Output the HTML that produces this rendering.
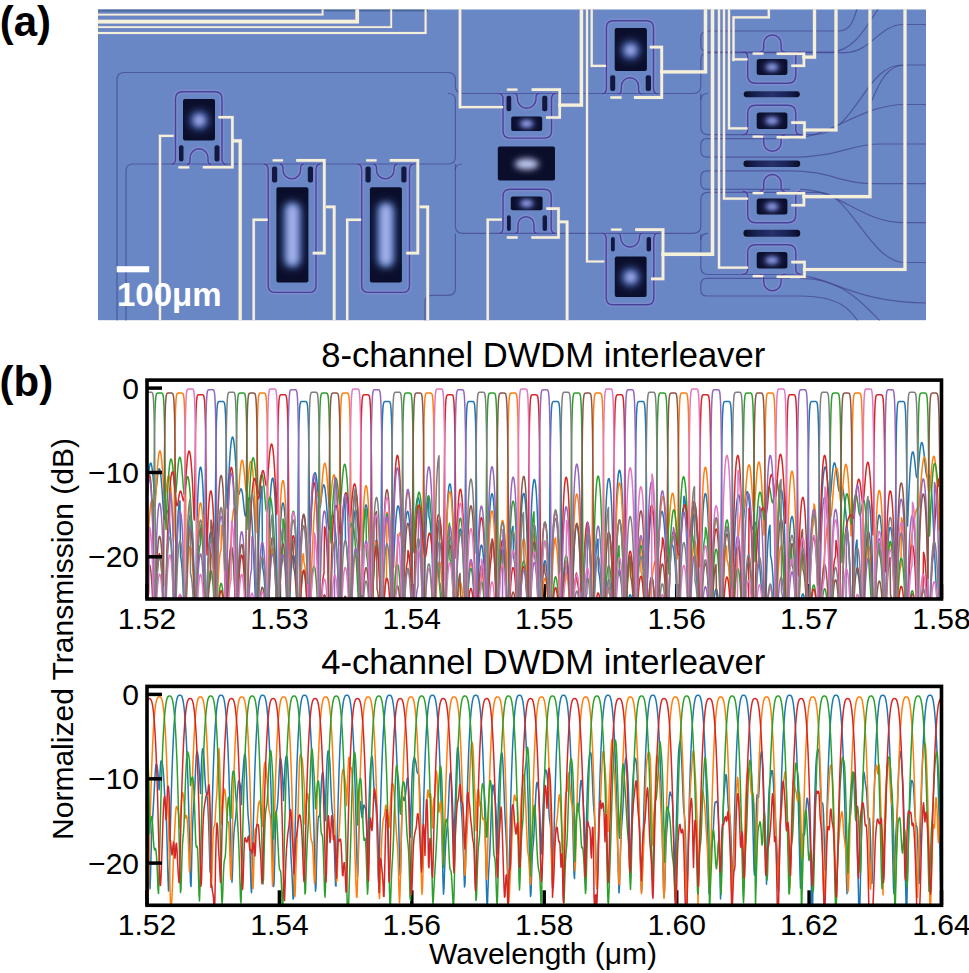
<!DOCTYPE html>
<html><head><meta charset="utf-8"><style>
html,body{margin:0;padding:0;background:#fff;}
body{width:969px;height:973px;position:relative;overflow:hidden;font-family:"Liberation Sans", sans-serif;}
</style></head><body>
<svg width="969" height="973" viewBox="0 0 969 973" style="position:absolute;left:0;top:0"><defs><clipPath id="c1"><rect x="147.0" y="380.1" width="794.5" height="218.88824999999997"/></clipPath><clipPath id="c2"><rect x="147.0" y="686.4" width="794.5" height="218.88824999999997"/></clipPath></defs><defs>
<clipPath id="mc"><rect x="98" y="9.3" width="828" height="311.1"/></clipPath>
<radialGradient id="glow"><stop offset="0" stop-color="#ccd3f7"/><stop offset="0.3" stop-color="#a4b0ea"/><stop offset="0.6" stop-color="#5a6bc0" stop-opacity="0.75"/><stop offset="1" stop-color="#1a2260" stop-opacity="0"/></radialGradient>
<linearGradient id="barg" x1="0" x2="1" y1="0" y2="0"><stop offset="0" stop-color="#0a0c26"/><stop offset="0.25" stop-color="#1b2458"/><stop offset="0.5" stop-color="#26306a"/><stop offset="0.75" stop-color="#1b2458"/><stop offset="1" stop-color="#0a0c26"/></linearGradient>
<filter id="bl2" x="-1" y="-1" width="3" height="3"><feGaussianBlur stdDeviation="2.2"/></filter><filter id="bl3" x="-1" y="-1" width="3" height="3"><feGaussianBlur stdDeviation="3.2"/></filter><filter id="bl4" x="-1" y="-1" width="3" height="3"><feGaussianBlur stdDeviation="4"/></filter>
</defs>
<g clip-path="url(#mc)">
<rect x="98" y="9.3" width="828" height="311.09999999999997" fill="#6a87c5"/>
<rect x="98" y="9.3" width="330" height="2.2" fill="#3f5c8a" opacity="0.7"/>
<path d="M171.5,164.2 Q175.5,164.2 175.5,158.2 V98.8 Q175.5,91.8 182.5,91.8 H215 Q222,91.8 222,98.8 V158.2 Q222,164.2 226,164.2" fill="none" stroke="#9d90d8" stroke-width="4.5" stroke-opacity="0.38"/>
<path d="M187,164.2 Q190,164.2 190,160.2 V157.8 A9.0,9.0 0 0 1 208,157.8 V160.2 Q208,164.2 211,164.2" fill="none" stroke="#9d90d8" stroke-width="4.5" stroke-opacity="0.38"/>
<path d="M264.2,164.2 Q268.2,164.2 268.2,170.2 V285.4 Q268.2,292.4 275.2,292.4 H309 Q316,292.4 316,285.4 V170.2 Q316,164.2 320,164.2" fill="none" stroke="#9d90d8" stroke-width="4.5" stroke-opacity="0.38"/>
<path d="M280,164.2 Q283,164.2 283,168.2 V170.1 A8.800000000000011,8.800000000000011 0 0 0 300.6,170.1 V168.2 Q300.6,164.2 303.6,164.2" fill="none" stroke="#9d90d8" stroke-width="4.5" stroke-opacity="0.38"/>
<path d="M357.7,164.2 Q361.7,164.2 361.7,170.2 V285.4 Q361.7,292.4 368.7,292.4 H402.5 Q409.5,292.4 409.5,285.4 V170.2 Q409.5,164.2 413.5,164.2" fill="none" stroke="#9d90d8" stroke-width="4.5" stroke-opacity="0.38"/>
<path d="M373.5,164.2 Q376.5,164.2 376.5,168.2 V170.1 A8.800000000000011,8.800000000000011 0 0 0 394.1,170.1 V168.2 Q394.1,164.2 397.1,164.2" fill="none" stroke="#9d90d8" stroke-width="4.5" stroke-opacity="0.38"/>
<path d="M499,93.5 Q503,93.5 503,99.5 V131.1 Q503,138.1 510,138.1 H544.5 Q551.5,138.1 551.5,131.1 V99.5 Q551.5,93.5 555.5,93.5" fill="none" stroke="#9d90d8" stroke-width="4.5" stroke-opacity="0.38"/>
<path d="M514.4,93.5 Q517.4,93.5 517.4,97.5 V98.89999999999999 A9.300000000000011,9.300000000000011 0 0 0 536,98.89999999999999 V97.5 Q536,93.5 539,93.5" fill="none" stroke="#9d90d8" stroke-width="4.5" stroke-opacity="0.38"/>
<path d="M499,233.4 Q503,233.4 503,227.4 V196.2 Q503,189.2 510,189.2 H544.2 Q551.2,189.2 551.2,196.2 V227.4 Q551.2,233.4 555.2,233.4" fill="none" stroke="#9d90d8" stroke-width="4.5" stroke-opacity="0.38"/>
<path d="M515,233.4 Q518,233.4 518,229.4 V224.7 A8.0,8.0 0 0 1 534,224.7 V229.4 Q534,233.4 537,233.4" fill="none" stroke="#9d90d8" stroke-width="4.5" stroke-opacity="0.38"/>
<path d="M602.4,93.8 Q606.4,93.8 606.4,87.8 V27.7 Q606.4,20.7 613.4,20.7 H646.5 Q653.5,20.7 653.5,27.7 V87.8 Q653.5,93.8 657.5,93.8" fill="none" stroke="#9d90d8" stroke-width="4.5" stroke-opacity="0.38"/>
<path d="M618.3,93.8 Q621.3,93.8 621.3,89.8 V86.35000000000004 A8.650000000000034,8.650000000000034 0 0 1 638.6,86.35000000000004 V89.8 Q638.6,93.8 641.6,93.8" fill="none" stroke="#9d90d8" stroke-width="4.5" stroke-opacity="0.38"/>
<path d="M602.2,233.4 Q606.2,233.4 606.2,239.4 V297.8 Q606.2,304.8 613.2,304.8 H646.8 Q653.8,304.8 653.8,297.8 V239.4 Q653.8,233.4 657.8,233.4" fill="none" stroke="#9d90d8" stroke-width="4.5" stroke-opacity="0.38"/>
<path d="M617.6,233.4 Q620.6,233.4 620.6,237.4 V237.60000000000002 A9.399999999999977,9.399999999999977 0 0 0 639.4,237.60000000000002 V237.4 Q639.4,233.4 642.4,233.4" fill="none" stroke="#9d90d8" stroke-width="4.5" stroke-opacity="0.38"/>
<path d="M742.7,52.0 Q747.7,52.0 747.7,57.0 V75.2 Q747.7,83.2 755.7,83.2 H787.8 Q795.8,83.2 795.8,75.2 V57.0 Q795.8,52.0 800.8,52.0" fill="none" stroke="#9d90d8" stroke-width="4.5" stroke-opacity="0.38"/>
<path d="M759.7,52.0 Q763.7,52.0 763.7,48.0 V43.69999999999999 A8.699999999999989,8.699999999999989 0 0 1 781.1,43.69999999999999 V48.0 Q781.1,52.0 785.1,52.0" fill="none" stroke="#9d90d8" stroke-width="4.5" stroke-opacity="0.38"/>
<path d="M742.7,134.7 Q747.7,134.7 747.7,129.7 V113.2 Q747.7,105.2 755.7,105.2 H787.8 Q795.8,105.2 795.8,113.2 V129.7 Q795.8,134.7 800.8,134.7" fill="none" stroke="#9d90d8" stroke-width="4.5" stroke-opacity="0.38"/>
<path d="M759.7,134.7 Q763.7,134.7 763.7,138.7 V142.60000000000002 A8.699999999999989,8.699999999999989 0 0 0 781.1,142.60000000000002 V138.7 Q781.1,134.7 785.1,134.7" fill="none" stroke="#9d90d8" stroke-width="4.5" stroke-opacity="0.38"/>
<path d="M742.7,191.5 Q747.7,191.5 747.7,196.5 V214.7 Q747.7,222.7 755.7,222.7 H787.8 Q795.8,222.7 795.8,214.7 V196.5 Q795.8,191.5 800.8,191.5" fill="none" stroke="#9d90d8" stroke-width="4.5" stroke-opacity="0.38"/>
<path d="M759.7,191.5 Q763.7,191.5 763.7,187.5 V183.2 A8.699999999999989,8.699999999999989 0 0 1 781.1,183.2 V187.5 Q781.1,191.5 785.1,191.5" fill="none" stroke="#9d90d8" stroke-width="4.5" stroke-opacity="0.38"/>
<path d="M742.7,274.2 Q747.7,274.2 747.7,269.2 V252.7 Q747.7,244.7 755.7,244.7 H787.8 Q795.8,244.7 795.8,252.7 V269.2 Q795.8,274.2 800.8,274.2" fill="none" stroke="#9d90d8" stroke-width="4.5" stroke-opacity="0.38"/>
<path d="M759.7,274.2 Q763.7,274.2 763.7,278.2 V282.1 A8.699999999999989,8.699999999999989 0 0 0 781.1,282.1 V278.2 Q781.1,274.2 785.1,274.2" fill="none" stroke="#9d90d8" stroke-width="4.5" stroke-opacity="0.38"/>
<path d="M117,321 V80 Q117,72.5 124,72.5 H448 Q455.4,72.5 455.4,80 V86 Q455.4,93.5 463,93.5 H693 Q700.8,93.5 700.8,86 V60 Q700.8,52.7 708,52.7 H845 C870,52.7 880,24.5 903,24.5 H930" fill="none" stroke="#3d3f8c" stroke-width="1.2" stroke-opacity="0.65"/>
<path d="M126,321 V171 Q126,164 133,164 H448 Q455.4,164 455.4,157 V100 Q455.4,93.5 448,93.5" fill="none" stroke="#3d3f8c" stroke-width="1.2" stroke-opacity="0.65"/>
<path d="M455.4,170 Q455.4,164 462,164" fill="none" stroke="#3d3f8c" stroke-width="1.2" stroke-opacity="0.65"/>
<path d="M455.4,164 V226 Q455.4,233.4 463,233.4 H693 Q700.8,233.4 700.8,226 V200 Q700.8,192.4 708,192.4 H820 C850,192.4 870,262.5 905,262.5 H930" fill="none" stroke="#3d3f8c" stroke-width="1.2" stroke-opacity="0.65"/>
<path d="M700.8,240 Q700.8,233.4 708,233.4" fill="none" stroke="#3d3f8c" stroke-width="1.2" stroke-opacity="0.65"/>
<path d="M700.8,233.4 V267 Q700.8,274.5 708,274.5 H790 C830,274.5 850,303 930,303" fill="none" stroke="#3d3f8c" stroke-width="1.2" stroke-opacity="0.65"/>
<path d="M455.4,233.4 V288 Q455.4,295.4 448,295.4 H432 Q425,295.4 425,302 V321" fill="none" stroke="#3d3f8c" stroke-width="1.2" stroke-opacity="0.65"/>
<path d="M700.8,93.5 V127 Q700.8,134.7 708,134.7 H815 C855,134.7 865,65 902,65 H930" fill="none" stroke="#3d3f8c" stroke-width="1.2" stroke-opacity="0.65"/>
<path d="M700.8,100 Q700.8,93.5 708,93.5" fill="none" stroke="#3d3f8c" stroke-width="1.2" stroke-opacity="0.65"/>
<path d="M838,31 H708 Q700.8,31 700.8,38 V45 Q700.8,52 708,52 H830 C850,52 862,35 878,9" fill="none" stroke="#3d3f8c" stroke-width="1.2" stroke-opacity="0.65"/>
<path d="M838,31 C850,31 853,22 857,9" fill="none" stroke="#3d3f8c" stroke-width="1.2" stroke-opacity="0.65"/>
<path d="M870,105 C880,80 888,65 905,65" fill="none" stroke="#3d3f8c" stroke-width="1.2" stroke-opacity="0.65"/>
<path d="M780,138.6 H707 Q700.8,138.6 700.8,145 V151 Q700.8,157.2 707,157.2 H790 C840,157.2 850,144 880,144 H930" fill="none" stroke="#3d3f8c" stroke-width="1.2" stroke-opacity="0.65"/>
<path d="M790,138.6 C830,138.6 860,104.5 905,104.5 H930" fill="none" stroke="#3d3f8c" stroke-width="1.2" stroke-opacity="0.65"/>
<path d="M790,170.8 H707 Q700.8,170.8 700.8,177 V183 Q700.8,189.4 707,189.4 H790" fill="none" stroke="#3d3f8c" stroke-width="1.2" stroke-opacity="0.65"/>
<path d="M790,170.8 C830,170.8 840,183.7 875,183.7 H930" fill="none" stroke="#3d3f8c" stroke-width="1.2" stroke-opacity="0.65"/>
<path d="M800,189.4 C840,189.4 860,222.7 905,222.7 H930" fill="none" stroke="#3d3f8c" stroke-width="1.2" stroke-opacity="0.65"/>
<path d="M790,278.4 H707 Q700.8,278.4 700.8,284.5 V290 Q700.8,296 707,296 H800 C840,296 850,310 858,321" fill="none" stroke="#3d3f8c" stroke-width="1.2" stroke-opacity="0.65"/>
<path d="M800,278.4 C840,278.4 860,300 880,321" fill="none" stroke="#3d3f8c" stroke-width="1.2" stroke-opacity="0.65"/>
<path d="M171.5,164.2 Q175.5,164.2 175.5,158.2 V98.8 Q175.5,91.8 182.5,91.8 H215 Q222,91.8 222,98.8 V158.2 Q222,164.2 226,164.2" fill="none" stroke="#46449a" stroke-width="1.4"/>
<path d="M187,164.2 Q190,164.2 190,160.2 V157.8 A9.0,9.0 0 0 1 208,157.8 V160.2 Q208,164.2 211,164.2" fill="none" stroke="#46449a" stroke-width="1.4"/>
<path d="M264.2,164.2 Q268.2,164.2 268.2,170.2 V285.4 Q268.2,292.4 275.2,292.4 H309 Q316,292.4 316,285.4 V170.2 Q316,164.2 320,164.2" fill="none" stroke="#46449a" stroke-width="1.4"/>
<path d="M280,164.2 Q283,164.2 283,168.2 V170.1 A8.800000000000011,8.800000000000011 0 0 0 300.6,170.1 V168.2 Q300.6,164.2 303.6,164.2" fill="none" stroke="#46449a" stroke-width="1.4"/>
<path d="M357.7,164.2 Q361.7,164.2 361.7,170.2 V285.4 Q361.7,292.4 368.7,292.4 H402.5 Q409.5,292.4 409.5,285.4 V170.2 Q409.5,164.2 413.5,164.2" fill="none" stroke="#46449a" stroke-width="1.4"/>
<path d="M373.5,164.2 Q376.5,164.2 376.5,168.2 V170.1 A8.800000000000011,8.800000000000011 0 0 0 394.1,170.1 V168.2 Q394.1,164.2 397.1,164.2" fill="none" stroke="#46449a" stroke-width="1.4"/>
<path d="M499,93.5 Q503,93.5 503,99.5 V131.1 Q503,138.1 510,138.1 H544.5 Q551.5,138.1 551.5,131.1 V99.5 Q551.5,93.5 555.5,93.5" fill="none" stroke="#46449a" stroke-width="1.4"/>
<path d="M514.4,93.5 Q517.4,93.5 517.4,97.5 V98.89999999999999 A9.300000000000011,9.300000000000011 0 0 0 536,98.89999999999999 V97.5 Q536,93.5 539,93.5" fill="none" stroke="#46449a" stroke-width="1.4"/>
<path d="M499,233.4 Q503,233.4 503,227.4 V196.2 Q503,189.2 510,189.2 H544.2 Q551.2,189.2 551.2,196.2 V227.4 Q551.2,233.4 555.2,233.4" fill="none" stroke="#46449a" stroke-width="1.4"/>
<path d="M515,233.4 Q518,233.4 518,229.4 V224.7 A8.0,8.0 0 0 1 534,224.7 V229.4 Q534,233.4 537,233.4" fill="none" stroke="#46449a" stroke-width="1.4"/>
<path d="M602.4,93.8 Q606.4,93.8 606.4,87.8 V27.7 Q606.4,20.7 613.4,20.7 H646.5 Q653.5,20.7 653.5,27.7 V87.8 Q653.5,93.8 657.5,93.8" fill="none" stroke="#46449a" stroke-width="1.4"/>
<path d="M618.3,93.8 Q621.3,93.8 621.3,89.8 V86.35000000000004 A8.650000000000034,8.650000000000034 0 0 1 638.6,86.35000000000004 V89.8 Q638.6,93.8 641.6,93.8" fill="none" stroke="#46449a" stroke-width="1.4"/>
<path d="M602.2,233.4 Q606.2,233.4 606.2,239.4 V297.8 Q606.2,304.8 613.2,304.8 H646.8 Q653.8,304.8 653.8,297.8 V239.4 Q653.8,233.4 657.8,233.4" fill="none" stroke="#46449a" stroke-width="1.4"/>
<path d="M617.6,233.4 Q620.6,233.4 620.6,237.4 V237.60000000000002 A9.399999999999977,9.399999999999977 0 0 0 639.4,237.60000000000002 V237.4 Q639.4,233.4 642.4,233.4" fill="none" stroke="#46449a" stroke-width="1.4"/>
<path d="M742.7,52.0 Q747.7,52.0 747.7,57.0 V75.2 Q747.7,83.2 755.7,83.2 H787.8 Q795.8,83.2 795.8,75.2 V57.0 Q795.8,52.0 800.8,52.0" fill="none" stroke="#46449a" stroke-width="1.4"/>
<path d="M759.7,52.0 Q763.7,52.0 763.7,48.0 V43.69999999999999 A8.699999999999989,8.699999999999989 0 0 1 781.1,43.69999999999999 V48.0 Q781.1,52.0 785.1,52.0" fill="none" stroke="#46449a" stroke-width="1.4"/>
<path d="M742.7,134.7 Q747.7,134.7 747.7,129.7 V113.2 Q747.7,105.2 755.7,105.2 H787.8 Q795.8,105.2 795.8,113.2 V129.7 Q795.8,134.7 800.8,134.7" fill="none" stroke="#46449a" stroke-width="1.4"/>
<path d="M759.7,134.7 Q763.7,134.7 763.7,138.7 V142.60000000000002 A8.699999999999989,8.699999999999989 0 0 0 781.1,142.60000000000002 V138.7 Q781.1,134.7 785.1,134.7" fill="none" stroke="#46449a" stroke-width="1.4"/>
<path d="M742.7,191.5 Q747.7,191.5 747.7,196.5 V214.7 Q747.7,222.7 755.7,222.7 H787.8 Q795.8,222.7 795.8,214.7 V196.5 Q795.8,191.5 800.8,191.5" fill="none" stroke="#46449a" stroke-width="1.4"/>
<path d="M759.7,191.5 Q763.7,191.5 763.7,187.5 V183.2 A8.699999999999989,8.699999999999989 0 0 1 781.1,183.2 V187.5 Q781.1,191.5 785.1,191.5" fill="none" stroke="#46449a" stroke-width="1.4"/>
<path d="M742.7,274.2 Q747.7,274.2 747.7,269.2 V252.7 Q747.7,244.7 755.7,244.7 H787.8 Q795.8,244.7 795.8,252.7 V269.2 Q795.8,274.2 800.8,274.2" fill="none" stroke="#46449a" stroke-width="1.4"/>
<path d="M759.7,274.2 Q763.7,274.2 763.7,278.2 V282.1 A8.699999999999989,8.699999999999989 0 0 0 781.1,282.1 V278.2 Q781.1,274.2 785.1,274.2" fill="none" stroke="#46449a" stroke-width="1.4"/>
<rect x="183" y="99" width="32.0" height="41.4" rx="2" fill="#0b0e2b"/>
<g clip-path="url(#hc73)">
<clipPath id="hc73"><rect x="183" y="99" width="32.0" height="41.4" rx="2"/></clipPath>
<circle cx="199.3" cy="120.3" r="9.8" fill="#3e5aa8" filter="url(#bl4)"/>
<circle cx="199.3" cy="120.3" r="5.5" fill="#aab3ec" filter="url(#bl3)"/>
</g>
<rect x="276.4" y="187.2" width="32.0" height="95.3" rx="2" fill="#0b0e2b"/>
<g clip-path="url(#hc79)">
<clipPath id="hc79"><rect x="276.4" y="187.2" width="32.0" height="95.3" rx="2"/></clipPath>
<rect x="283.6" y="202.0" width="17.6" height="65.5" rx="7.7" fill="#4a70b8" filter="url(#bl4)"/>
<rect x="286.9" y="204.6" width="11.0" height="60.5" rx="5.5" fill="#a6b0ea" filter="url(#bl3)"/>
</g>
<rect x="369.9" y="187.2" width="32.0" height="95.3" rx="2" fill="#0b0e2b"/>
<g clip-path="url(#hc85)">
<clipPath id="hc85"><rect x="369.9" y="187.2" width="32.0" height="95.3" rx="2"/></clipPath>
<rect x="377.1" y="202.0" width="17.6" height="65.5" rx="7.7" fill="#4a70b8" filter="url(#bl4)"/>
<rect x="380.4" y="204.6" width="11.0" height="60.5" rx="5.5" fill="#a6b0ea" filter="url(#bl3)"/>
</g>
<rect x="511.2" y="116.5" width="31.0" height="14.4" rx="2" fill="#0b0e2b"/>
<g clip-path="url(#hc91)">
<clipPath id="hc91"><rect x="511.2" y="116.5" width="31.0" height="14.4" rx="2"/></clipPath>
<ellipse cx="526.7" cy="123.7" rx="8.2" ry="4.2" fill="#4858a8" filter="url(#bl3)"/>
<ellipse cx="526.7" cy="123.7" rx="5.5" ry="3.1" fill="#8e9ade" filter="url(#bl2)"/>
</g>
<rect x="497.8" y="146.5" width="57.2" height="34.1" rx="2" fill="#0b0e2b"/>
<g clip-path="url(#hc97)">
<clipPath id="hc97"><rect x="497.8" y="146.5" width="57.2" height="34.1" rx="2"/></clipPath>
<ellipse cx="526.7" cy="164.1" rx="12.0" ry="5.5" fill="#c2cbf4" filter="url(#bl3)"/>
</g>
<rect x="510.8" y="196.5" width="31.8" height="13.8" rx="2" fill="#0b0e2b"/>
<g clip-path="url(#hc102)">
<clipPath id="hc102"><rect x="510.8" y="196.5" width="31.8" height="13.8" rx="2"/></clipPath>
<ellipse cx="526.7" cy="203.4" rx="8.2" ry="4.2" fill="#4858a8" filter="url(#bl3)"/>
<ellipse cx="526.7" cy="203.4" rx="5.5" ry="3.1" fill="#8e9ade" filter="url(#bl2)"/>
</g>
<rect x="614.7" y="28.1" width="32.2" height="42.9" rx="2" fill="#0b0e2b"/>
<g clip-path="url(#hc108)">
<clipPath id="hc108"><rect x="614.7" y="28.1" width="32.2" height="42.9" rx="2"/></clipPath>
<circle cx="630.6" cy="50.2" r="9.8" fill="#3e5aa8" filter="url(#bl4)"/>
<circle cx="630.6" cy="50.2" r="5.5" fill="#aab3ec" filter="url(#bl3)"/>
</g>
<rect x="614.8" y="256.6" width="31.8" height="40.4" rx="2" fill="#0b0e2b"/>
<g clip-path="url(#hc114)">
<clipPath id="hc114"><rect x="614.8" y="256.6" width="31.8" height="40.4" rx="2"/></clipPath>
<circle cx="630.7" cy="277.2" r="9.8" fill="#3e5aa8" filter="url(#bl4)"/>
<circle cx="630.7" cy="277.2" r="5.5" fill="#aab3ec" filter="url(#bl3)"/>
</g>
<rect x="756.7" y="59.1" width="30.7" height="16.0" rx="2.5" fill="#0b0e2b"/>
<g clip-path="url(#hc120)">
<clipPath id="hc120"><rect x="756.7" y="59.1" width="30.7" height="16.0" rx="2.5"/></clipPath>
<ellipse cx="772" cy="67.1" rx="8.2" ry="4.2" fill="#4858a8" filter="url(#bl3)"/>
<ellipse cx="772" cy="67.1" rx="5.5" ry="3.1" fill="#8e9ade" filter="url(#bl2)"/>
</g>
<rect x="756.7" y="112.6" width="30.7" height="16.4" rx="2.5" fill="#0b0e2b"/>
<g clip-path="url(#hc126)">
<clipPath id="hc126"><rect x="756.7" y="112.6" width="30.7" height="16.4" rx="2.5"/></clipPath>
<ellipse cx="772" cy="120.8" rx="8.2" ry="4.2" fill="#4858a8" filter="url(#bl3)"/>
<ellipse cx="772" cy="120.8" rx="5.5" ry="3.1" fill="#8e9ade" filter="url(#bl2)"/>
</g>
<rect x="756.7" y="198.6" width="30.7" height="16.0" rx="2.5" fill="#0b0e2b"/>
<g clip-path="url(#hc132)">
<clipPath id="hc132"><rect x="756.7" y="198.6" width="30.7" height="16.0" rx="2.5"/></clipPath>
<ellipse cx="772" cy="206.6" rx="8.2" ry="4.2" fill="#4858a8" filter="url(#bl3)"/>
<ellipse cx="772" cy="206.6" rx="5.5" ry="3.1" fill="#8e9ade" filter="url(#bl2)"/>
</g>
<rect x="756.7" y="252.1" width="30.7" height="16.4" rx="2.5" fill="#0b0e2b"/>
<g clip-path="url(#hc138)">
<clipPath id="hc138"><rect x="756.7" y="252.1" width="30.7" height="16.4" rx="2.5"/></clipPath>
<ellipse cx="772" cy="260.3" rx="8.2" ry="4.2" fill="#4858a8" filter="url(#bl3)"/>
<ellipse cx="772" cy="260.3" rx="5.5" ry="3.1" fill="#8e9ade" filter="url(#bl2)"/>
</g>
<rect x="179" y="145.3" width="4.5" height="16.2" rx="2" fill="#141840"/>
<rect x="214.5" y="145.3" width="5.0" height="16.2" rx="2" fill="#141840"/>
<rect x="272" y="166.5" width="5.2" height="16.1" rx="2" fill="#141840"/>
<rect x="307.8" y="166.5" width="5.2" height="16.1" rx="2" fill="#141840"/>
<rect x="365.5" y="166.5" width="5.2" height="16.1" rx="2" fill="#141840"/>
<rect x="401.3" y="166.5" width="5.2" height="16.1" rx="2" fill="#141840"/>
<rect x="506.5" y="95.8" width="4.7" height="15.5" rx="2" fill="#141840"/>
<rect x="542.2" y="95.8" width="5.1" height="15.5" rx="2" fill="#141840"/>
<rect x="507" y="215.2" width="3.8" height="15.9" rx="2" fill="#141840"/>
<rect x="542.6" y="215.2" width="4.4" height="15.9" rx="2" fill="#141840"/>
<rect x="610.2" y="75.2" width="5.0" height="15.7" rx="2" fill="#141840"/>
<rect x="645.7" y="75.2" width="5.3" height="15.7" rx="2" fill="#141840"/>
<rect x="611" y="236.9" width="3.8" height="14.5" rx="2" fill="#141840"/>
<rect x="646.6" y="236.9" width="4.4" height="14.5" rx="2" fill="#141840"/>
<rect x="743.7" y="91.2" width="56.1" height="6.0" rx="3" fill="url(#barg)"/>
<rect x="743.5" y="160.4" width="56.7" height="6.6" rx="3" fill="url(#barg)"/>
<rect x="743.5" y="229.8" width="56.7" height="7.0" rx="3" fill="url(#barg)"/>
<polyline points="160.0,321.0 160.0,135.9 172.5,135.9" fill="none" stroke="#c6a2c6" stroke-width="3.2" stroke-opacity="0.4" stroke-linejoin="miter"/>
<polyline points="179.4,167.3 188.2,167.3" fill="none" stroke="#c6a2c6" stroke-width="3.2" stroke-opacity="0.4" stroke-linejoin="miter"/>
<polyline points="204.0,167.3 232.4,167.3 232.4,117.3 219.6,117.3" fill="none" stroke="#c6a2c6" stroke-width="3.5" stroke-opacity="0.4" stroke-linejoin="miter"/>
<polyline points="240.2,321.0 240.2,140.8 233.3,140.8" fill="none" stroke="#c6a2c6" stroke-width="4.1" stroke-opacity="0.4" stroke-linejoin="miter"/>
<polyline points="273.7,160.3 282.0,160.3" fill="none" stroke="#c6a2c6" stroke-width="3.2" stroke-opacity="0.4" stroke-linejoin="miter"/>
<polyline points="297.5,160.3 324.3,160.3 324.3,253.2 314.0,253.2" fill="none" stroke="#c6a2c6" stroke-width="3.7" stroke-opacity="0.4" stroke-linejoin="miter"/>
<polyline points="334.2,321.0 334.2,206.8 327.4,206.8" fill="none" stroke="#c6a2c6" stroke-width="3.7" stroke-opacity="0.4" stroke-linejoin="miter"/>
<polyline points="253.7,321.0 253.7,219.8 266.5,219.8" fill="none" stroke="#c6a2c6" stroke-width="3.3" stroke-opacity="0.4" stroke-linejoin="miter"/>
<polyline points="367.2,160.3 375.5,160.3" fill="none" stroke="#c6a2c6" stroke-width="3.2" stroke-opacity="0.4" stroke-linejoin="miter"/>
<polyline points="391.0,160.3 417.8,160.3 417.8,253.2 407.5,253.2" fill="none" stroke="#c6a2c6" stroke-width="3.7" stroke-opacity="0.4" stroke-linejoin="miter"/>
<polyline points="427.7,321.0 427.7,206.8 420.9,206.8" fill="none" stroke="#c6a2c6" stroke-width="3.7" stroke-opacity="0.4" stroke-linejoin="miter"/>
<polyline points="347.2,321.0 347.2,219.8 360.0,219.8" fill="none" stroke="#c6a2c6" stroke-width="3.3" stroke-opacity="0.4" stroke-linejoin="miter"/>
<polyline points="460.0,8.0 460.0,107.2 502.0,107.2" fill="none" stroke="#c6a2c6" stroke-width="3.2" stroke-opacity="0.4" stroke-linejoin="miter"/>
<polyline points="508.0,89.6 516.4,89.6" fill="none" stroke="#c6a2c6" stroke-width="3.2" stroke-opacity="0.4" stroke-linejoin="miter"/>
<polyline points="581.4,8.0 581.4,105.1 559.7,105.1" fill="none" stroke="#c6a2c6" stroke-width="4.3" stroke-opacity="0.4" stroke-linejoin="miter"/>
<polyline points="532.9,89.6 559.7,89.6 559.7,117.5 547.3,117.5" fill="none" stroke="#c6a2c6" stroke-width="3.5" stroke-opacity="0.4" stroke-linejoin="miter"/>
<polyline points="487.7,321.0 487.7,219.6 500.7,219.6" fill="none" stroke="#c6a2c6" stroke-width="3.3" stroke-opacity="0.4" stroke-linejoin="miter"/>
<polyline points="507.9,237.5 516.6,237.5" fill="none" stroke="#c6a2c6" stroke-width="3.2" stroke-opacity="0.4" stroke-linejoin="miter"/>
<polyline points="532.5,237.5 558.5,237.5 558.5,208.6 547.5,208.6" fill="none" stroke="#c6a2c6" stroke-width="3.5" stroke-opacity="0.4" stroke-linejoin="miter"/>
<polyline points="567.1,321.0 567.1,221.9 560.0,221.9" fill="none" stroke="#c6a2c6" stroke-width="3.7" stroke-opacity="0.4" stroke-linejoin="miter"/>
<polyline points="611.4,97.5 620.5,97.5" fill="none" stroke="#c6a2c6" stroke-width="3.2" stroke-opacity="0.4" stroke-linejoin="miter"/>
<polyline points="635.3,97.5 661.7,97.5 661.7,47.1 651.0,47.1" fill="none" stroke="#c6a2c6" stroke-width="3.7" stroke-opacity="0.4" stroke-linejoin="miter"/>
<polyline points="705.5,8.0 705.5,71.9 661.7,71.9" fill="none" stroke="#c6a2c6" stroke-width="4.3" stroke-opacity="0.4" stroke-linejoin="miter"/>
<polyline points="591.7,8.0 591.7,65.9 605.0,65.9" fill="none" stroke="#c6a2c6" stroke-width="3.1" stroke-opacity="0.4" stroke-linejoin="miter"/>
<polyline points="587.0,8.0 587.0,261.5 603.3,261.5" fill="none" stroke="#c6a2c6" stroke-width="3.1" stroke-opacity="0.4" stroke-linejoin="miter"/>
<polyline points="612.0,229.7 620.6,229.7" fill="none" stroke="#c6a2c6" stroke-width="3.2" stroke-opacity="0.4" stroke-linejoin="miter"/>
<polyline points="636.5,229.7 663.0,229.7 663.0,278.8 652.4,278.8" fill="none" stroke="#c6a2c6" stroke-width="3.7" stroke-opacity="0.4" stroke-linejoin="miter"/>
<polyline points="663.0,254.2 712.5,254.2 712.5,8.0" fill="none" stroke="#c6a2c6" stroke-width="4.3" stroke-opacity="0.4" stroke-linejoin="miter"/>
<polyline points="719.0,8.0 719.0,267.6 747.0,267.6" fill="none" stroke="#c6a2c6" stroke-width="3.2" stroke-opacity="0.4" stroke-linejoin="miter"/>
<polyline points="724.0,8.0 724.0,198.6 747.0,198.6" fill="none" stroke="#c6a2c6" stroke-width="3.2" stroke-opacity="0.4" stroke-linejoin="miter"/>
<polyline points="729.0,8.0 729.0,128.4 746.6,128.4" fill="none" stroke="#c6a2c6" stroke-width="3.2" stroke-opacity="0.4" stroke-linejoin="miter"/>
<polyline points="733.5,60.0 733.5,17.3 768.8,17.3 768.8,8.0" fill="none" stroke="#c6a2c6" stroke-width="3.2" stroke-opacity="0.4" stroke-linejoin="miter"/>
<polyline points="733.5,59.3 746.6,59.3" fill="none" stroke="#c6a2c6" stroke-width="3.2" stroke-opacity="0.4" stroke-linejoin="miter"/>
<polyline points="753.7,53.7 762.4,53.7" fill="none" stroke="#c6a2c6" stroke-width="3.2" stroke-opacity="0.4" stroke-linejoin="miter"/>
<polyline points="777.8,53.7 803.9,53.7 803.9,65.8 792.5,65.8" fill="none" stroke="#c6a2c6" stroke-width="3.5" stroke-opacity="0.4" stroke-linejoin="miter"/>
<polyline points="803.9,57.1 814.5,57.1 814.5,8.0" fill="none" stroke="#c6a2c6" stroke-width="4.1" stroke-opacity="0.4" stroke-linejoin="miter"/>
<polyline points="753.7,136.6 762.4,136.6" fill="none" stroke="#c6a2c6" stroke-width="3.2" stroke-opacity="0.4" stroke-linejoin="miter"/>
<polyline points="777.8,137.3 804.5,137.3 804.5,122.6 792.5,122.6" fill="none" stroke="#c6a2c6" stroke-width="3.5" stroke-opacity="0.4" stroke-linejoin="miter"/>
<polyline points="804.5,130.0 836.0,130.0 836.0,8.0" fill="none" stroke="#c6a2c6" stroke-width="4.1" stroke-opacity="0.4" stroke-linejoin="miter"/>
<polyline points="753.7,193.2 762.4,193.2" fill="none" stroke="#c6a2c6" stroke-width="3.2" stroke-opacity="0.4" stroke-linejoin="miter"/>
<polyline points="777.8,193.2 803.9,193.2 803.9,205.3 792.5,205.3" fill="none" stroke="#c6a2c6" stroke-width="3.5" stroke-opacity="0.4" stroke-linejoin="miter"/>
<polyline points="803.9,196.6 870.0,196.6 870.0,8.0" fill="none" stroke="#c6a2c6" stroke-width="4.1" stroke-opacity="0.4" stroke-linejoin="miter"/>
<polyline points="753.7,276.1 762.4,276.1" fill="none" stroke="#c6a2c6" stroke-width="3.2" stroke-opacity="0.4" stroke-linejoin="miter"/>
<polyline points="777.8,276.8 804.5,276.8 804.5,262.1 792.5,262.1" fill="none" stroke="#c6a2c6" stroke-width="3.5" stroke-opacity="0.4" stroke-linejoin="miter"/>
<polyline points="804.5,269.5 905.0,269.5 905.0,8.0" fill="none" stroke="#c6a2c6" stroke-width="4.1" stroke-opacity="0.4" stroke-linejoin="miter"/>
<polyline points="96.0,14.6 322.6,14.6 322.6,8.0" fill="none" stroke="#c6a2c6" stroke-width="2.7" stroke-opacity="0.4" stroke-linejoin="miter"/>
<polyline points="96.0,21.6 357.2,21.6 357.2,8.0" fill="none" stroke="#c6a2c6" stroke-width="4.5" stroke-opacity="0.4" stroke-linejoin="miter"/>
<polyline points="96.0,27.2 391.2,27.2 391.2,8.0" fill="none" stroke="#c6a2c6" stroke-width="2.7" stroke-opacity="0.4" stroke-linejoin="miter"/>
<polyline points="96.0,33.0 425.6,33.0 425.6,8.0" fill="none" stroke="#c6a2c6" stroke-width="2.9" stroke-opacity="0.4" stroke-linejoin="miter"/>
<polyline points="460.0,107.2 460.0,8.0" fill="none" stroke="#c6a2c6" stroke-width="3.2" stroke-opacity="0.4" stroke-linejoin="miter"/>
<polyline points="160.0,321.0 160.0,135.9 172.5,135.9" fill="none" stroke="#f4f1da" stroke-width="2.3" stroke-linejoin="miter" stroke-linecap="square"/>
<polyline points="179.4,167.3 188.2,167.3" fill="none" stroke="#f4f1da" stroke-width="2.3" stroke-linejoin="miter" stroke-linecap="square"/>
<polyline points="204.0,167.3 232.4,167.3 232.4,117.3 219.6,117.3" fill="none" stroke="#f4f1da" stroke-width="2.6" stroke-linejoin="miter" stroke-linecap="square"/>
<polyline points="240.2,321.0 240.2,140.8 233.3,140.8" fill="none" stroke="#f4f1da" stroke-width="3.2" stroke-linejoin="miter" stroke-linecap="square"/>
<polyline points="273.7,160.3 282.0,160.3" fill="none" stroke="#f4f1da" stroke-width="2.3" stroke-linejoin="miter" stroke-linecap="square"/>
<polyline points="297.5,160.3 324.3,160.3 324.3,253.2 314.0,253.2" fill="none" stroke="#f4f1da" stroke-width="2.8" stroke-linejoin="miter" stroke-linecap="square"/>
<polyline points="334.2,321.0 334.2,206.8 327.4,206.8" fill="none" stroke="#f4f1da" stroke-width="2.8" stroke-linejoin="miter" stroke-linecap="square"/>
<polyline points="253.7,321.0 253.7,219.8 266.5,219.8" fill="none" stroke="#f4f1da" stroke-width="2.4" stroke-linejoin="miter" stroke-linecap="square"/>
<polyline points="367.2,160.3 375.5,160.3" fill="none" stroke="#f4f1da" stroke-width="2.3" stroke-linejoin="miter" stroke-linecap="square"/>
<polyline points="391.0,160.3 417.8,160.3 417.8,253.2 407.5,253.2" fill="none" stroke="#f4f1da" stroke-width="2.8" stroke-linejoin="miter" stroke-linecap="square"/>
<polyline points="427.7,321.0 427.7,206.8 420.9,206.8" fill="none" stroke="#f4f1da" stroke-width="2.8" stroke-linejoin="miter" stroke-linecap="square"/>
<polyline points="347.2,321.0 347.2,219.8 360.0,219.8" fill="none" stroke="#f4f1da" stroke-width="2.4" stroke-linejoin="miter" stroke-linecap="square"/>
<polyline points="460.0,8.0 460.0,107.2 502.0,107.2" fill="none" stroke="#f4f1da" stroke-width="2.3" stroke-linejoin="miter" stroke-linecap="square"/>
<polyline points="508.0,89.6 516.4,89.6" fill="none" stroke="#f4f1da" stroke-width="2.3" stroke-linejoin="miter" stroke-linecap="square"/>
<polyline points="581.4,8.0 581.4,105.1 559.7,105.1" fill="none" stroke="#f4f1da" stroke-width="3.4" stroke-linejoin="miter" stroke-linecap="square"/>
<polyline points="532.9,89.6 559.7,89.6 559.7,117.5 547.3,117.5" fill="none" stroke="#f4f1da" stroke-width="2.6" stroke-linejoin="miter" stroke-linecap="square"/>
<polyline points="487.7,321.0 487.7,219.6 500.7,219.6" fill="none" stroke="#f4f1da" stroke-width="2.4" stroke-linejoin="miter" stroke-linecap="square"/>
<polyline points="507.9,237.5 516.6,237.5" fill="none" stroke="#f4f1da" stroke-width="2.3" stroke-linejoin="miter" stroke-linecap="square"/>
<polyline points="532.5,237.5 558.5,237.5 558.5,208.6 547.5,208.6" fill="none" stroke="#f4f1da" stroke-width="2.6" stroke-linejoin="miter" stroke-linecap="square"/>
<polyline points="567.1,321.0 567.1,221.9 560.0,221.9" fill="none" stroke="#f4f1da" stroke-width="2.8" stroke-linejoin="miter" stroke-linecap="square"/>
<polyline points="611.4,97.5 620.5,97.5" fill="none" stroke="#f4f1da" stroke-width="2.3" stroke-linejoin="miter" stroke-linecap="square"/>
<polyline points="635.3,97.5 661.7,97.5 661.7,47.1 651.0,47.1" fill="none" stroke="#f4f1da" stroke-width="2.8" stroke-linejoin="miter" stroke-linecap="square"/>
<polyline points="705.5,8.0 705.5,71.9 661.7,71.9" fill="none" stroke="#f4f1da" stroke-width="3.4" stroke-linejoin="miter" stroke-linecap="square"/>
<polyline points="591.7,8.0 591.7,65.9 605.0,65.9" fill="none" stroke="#f4f1da" stroke-width="2.2" stroke-linejoin="miter" stroke-linecap="square"/>
<polyline points="587.0,8.0 587.0,261.5 603.3,261.5" fill="none" stroke="#f4f1da" stroke-width="2.2" stroke-linejoin="miter" stroke-linecap="square"/>
<polyline points="612.0,229.7 620.6,229.7" fill="none" stroke="#f4f1da" stroke-width="2.3" stroke-linejoin="miter" stroke-linecap="square"/>
<polyline points="636.5,229.7 663.0,229.7 663.0,278.8 652.4,278.8" fill="none" stroke="#f4f1da" stroke-width="2.8" stroke-linejoin="miter" stroke-linecap="square"/>
<polyline points="663.0,254.2 712.5,254.2 712.5,8.0" fill="none" stroke="#f4f1da" stroke-width="3.4" stroke-linejoin="miter" stroke-linecap="square"/>
<polyline points="719.0,8.0 719.0,267.6 747.0,267.6" fill="none" stroke="#f4f1da" stroke-width="2.3" stroke-linejoin="miter" stroke-linecap="square"/>
<polyline points="724.0,8.0 724.0,198.6 747.0,198.6" fill="none" stroke="#f4f1da" stroke-width="2.3" stroke-linejoin="miter" stroke-linecap="square"/>
<polyline points="729.0,8.0 729.0,128.4 746.6,128.4" fill="none" stroke="#f4f1da" stroke-width="2.3" stroke-linejoin="miter" stroke-linecap="square"/>
<polyline points="733.5,60.0 733.5,17.3 768.8,17.3 768.8,8.0" fill="none" stroke="#f4f1da" stroke-width="2.3" stroke-linejoin="miter" stroke-linecap="square"/>
<polyline points="733.5,59.3 746.6,59.3" fill="none" stroke="#f4f1da" stroke-width="2.3" stroke-linejoin="miter" stroke-linecap="square"/>
<polyline points="753.7,53.7 762.4,53.7" fill="none" stroke="#f4f1da" stroke-width="2.3" stroke-linejoin="miter" stroke-linecap="square"/>
<polyline points="777.8,53.7 803.9,53.7 803.9,65.8 792.5,65.8" fill="none" stroke="#f4f1da" stroke-width="2.6" stroke-linejoin="miter" stroke-linecap="square"/>
<polyline points="803.9,57.1 814.5,57.1 814.5,8.0" fill="none" stroke="#f4f1da" stroke-width="3.2" stroke-linejoin="miter" stroke-linecap="square"/>
<polyline points="753.7,136.6 762.4,136.6" fill="none" stroke="#f4f1da" stroke-width="2.3" stroke-linejoin="miter" stroke-linecap="square"/>
<polyline points="777.8,137.3 804.5,137.3 804.5,122.6 792.5,122.6" fill="none" stroke="#f4f1da" stroke-width="2.6" stroke-linejoin="miter" stroke-linecap="square"/>
<polyline points="804.5,130.0 836.0,130.0 836.0,8.0" fill="none" stroke="#f4f1da" stroke-width="3.2" stroke-linejoin="miter" stroke-linecap="square"/>
<polyline points="753.7,193.2 762.4,193.2" fill="none" stroke="#f4f1da" stroke-width="2.3" stroke-linejoin="miter" stroke-linecap="square"/>
<polyline points="777.8,193.2 803.9,193.2 803.9,205.3 792.5,205.3" fill="none" stroke="#f4f1da" stroke-width="2.6" stroke-linejoin="miter" stroke-linecap="square"/>
<polyline points="803.9,196.6 870.0,196.6 870.0,8.0" fill="none" stroke="#f4f1da" stroke-width="3.2" stroke-linejoin="miter" stroke-linecap="square"/>
<polyline points="753.7,276.1 762.4,276.1" fill="none" stroke="#f4f1da" stroke-width="2.3" stroke-linejoin="miter" stroke-linecap="square"/>
<polyline points="777.8,276.8 804.5,276.8 804.5,262.1 792.5,262.1" fill="none" stroke="#f4f1da" stroke-width="2.6" stroke-linejoin="miter" stroke-linecap="square"/>
<polyline points="804.5,269.5 905.0,269.5 905.0,8.0" fill="none" stroke="#f4f1da" stroke-width="3.2" stroke-linejoin="miter" stroke-linecap="square"/>
<polyline points="96.0,14.6 322.6,14.6 322.6,8.0" fill="none" stroke="#f4f1da" stroke-width="1.8" stroke-linejoin="miter" stroke-linecap="square"/>
<polyline points="96.0,21.6 357.2,21.6 357.2,8.0" fill="none" stroke="#f4f1da" stroke-width="3.6" stroke-linejoin="miter" stroke-linecap="square"/>
<polyline points="96.0,27.2 391.2,27.2 391.2,8.0" fill="none" stroke="#f4f1da" stroke-width="1.8" stroke-linejoin="miter" stroke-linecap="square"/>
<polyline points="96.0,33.0 425.6,33.0 425.6,8.0" fill="none" stroke="#f4f1da" stroke-width="2.0" stroke-linejoin="miter" stroke-linecap="square"/>
<polyline points="460.0,107.2 460.0,8.0" fill="none" stroke="#f4f1da" stroke-width="2.3" stroke-linejoin="miter" stroke-linecap="square"/>
</g>
<rect x="116.7" y="266.2" width="32.5" height="6.1" fill="#fff"/>
<text x="117" y="306.3" font-family='"Liberation Sans", sans-serif' font-weight="bold" font-size="33" fill="#fff">100μm</text><text x="-0.3" y="35.8" font-family='"Liberation Sans", sans-serif' font-weight="bold" font-size="42" fill="#000">(a)</text><text x="-0.5" y="396" font-family='"Liberation Sans", sans-serif' font-weight="bold" font-size="42" fill="#000">(b)</text><line x1="147.0" y1="598.98825" x2="147.0" y2="583.98825" stroke="#000" stroke-width="3.5"/><line x1="279.4" y1="598.98825" x2="279.4" y2="583.98825" stroke="#000" stroke-width="3.5"/><line x1="411.8" y1="598.98825" x2="411.8" y2="583.98825" stroke="#000" stroke-width="3.5"/><line x1="544.2" y1="598.98825" x2="544.2" y2="583.98825" stroke="#000" stroke-width="3.5"/><line x1="676.7" y1="598.98825" x2="676.7" y2="583.98825" stroke="#000" stroke-width="3.5"/><line x1="809.1" y1="598.98825" x2="809.1" y2="583.98825" stroke="#000" stroke-width="3.5"/><line x1="941.5" y1="598.98825" x2="941.5" y2="583.98825" stroke="#000" stroke-width="3.5"/><g clip-path="url(#c1)" fill="none" stroke-width="1.5" stroke-linejoin="round"><path d="M147.0 500.4l.5 -9.5 .5 -8.1 .5 -6.7 .5 -5.4 .5 -3.9 .5 -2.5 .5 -1.2 .5 .2 .5 1.6 .5 2.8 .5 4 .5 5 .5 5.5 .5 5.5 .5 4.7 .5 2.4 .5 -.5 .5 -3.2 .5 -4.8 .5 -5.1 .5 -4.7 .5 -3.8 .5 -2.6 .5 -1.3 .5 0 .5 1.4 .5 2.8 .5 4.2 .5 5.5 .5 6.6 .5 7.5 .5 7.9 .5 7.2 .5 5.4 .5 2.4 .5 -.5 .5 -2.1 .5 -2.5 .5 -2.2 .5 -1.3 .5 -.3 .5 .9 .5 2.2 .5 3.5 .5 4.7 .5 5.8 .5 7 .5 8.1 .5 9.1 .5 10.3 .5 11.5 .5 12.9 .5 14.2 .5 14.9 .5 0 .5 0 .5 -6.8 .5 -31.4 .5 -23 .5 -16.8 .5 -12.5 .5 -9.3 .5 -6.7 .5 -4.7 .5 -2.8 .5 -1 .5 55.7 .5 2.2 .5 3.8 .5 5.7 .5 7.6 .5 9.9 .5 12.4 .5 14.9 .5 2.8 .5 0 .5 0 .5 -13.6 .5 -25 .5 -18.7 .5 -13.9 .5 -10.5 .5 -7.8 .5 -5.6 .5 -3.6 .5 -1.8 .5 -.2 .5 1.5 .5 3.2 .5 5.2 .5 7.3 .5 9.9 .5 13.2 .5 17.5 .5 23.6 .5 19.3 .5 0 .5 -29.9 .5 -38.7 .5 -25 .5 -17.5 .5 -12.8 .5 -9.5 .5 -6.8 .5 -4.7 .5 -2.8 .5 -1.1 .5 .7 .5 2.4 .5 4.3 .5 6.3 .5 8.8 .5 12 .5 16.3 .5 22.9 .5 34.8 .5 40.3 .5 0 .5 -2.6 .5 -21.7 .5 -17.3 .5 -13.3 .5 -10.2 .5 -7.6 .5 -5.5 .5 -3.6 .5 -1.9 .5 -.2 .5 1.4 .5 3.1 .5 4.9 .5 7 .5 9.4 .5 12.3 .5 15.5 .5 -19.9 .5 -74.9 .5 -46.8 .5 -23.8 .5 -11.2 .5 -4.8 .5 -1.9 .5 -.6 .5 -.1 .5 0 .5 0 .5 0 .5 0 .5 0 .5 0 .5 0 .5 0 .5 0 .5 .4 .5 1.2 .5 3.2 .5 8 .5 17.4 .5 33.1 .5 41.1 .5 2.8 .5 -13.2 .5 -12.3 .5 -10.8 .5 -9.3 .5 -7.9 .5 -6.5 .5 -5.1 .5 -3.6 .5 -2.3 .5 -.8 .5 .5 .5 2 .5 3.3 .5 4.6 .5 5.9 .5 7 .5 7.7 .5 8 .5 7.5 .5 6.1 .5 3.9 .5 1.3 .5 -.6 .5 -1.7 .5 -1.8 .5 -1.4 .5 -.5 .5 .6 .5 1.7 .5 2.9 .5 3.9 .5 4.7 .5 5 .5 4.5 .5 3.1 .5 1 .5 -1.2 .5 -3.1 .5 -3.9 .5 -3.8 .5 -3.3 .5 -2.1 .5 -.9 .5 .5 .5 1.9 .5 3.4 .5 4.8 .5 6.2 .5 7.5 .5 8.8 .5 10 .5 11.1 .5 12 .5 12.7 .5 13.2 .5 13.3 .5 12.6 .5 0 .5 0 .5 0 .5 -37.6 .5 -28.1 .5 -19.8 .5 -14.4 .5 -10.7 .5 -7.9 .5 -5.7 .5 -3.6 .5 -1.9 .5 81.7 .5 1.3 .5 2.8 .5 4.4 .5 6.1 .5 8 .5 10 .5 11.8 .5 3.6 .5 0 .5 0 .5 -17.3 .5 -38.3 .5 -25.3 .5 -17.8 .5 -13.1 .5 -9.7 .5 -7.1 .5 -4.9 .5 -3.1 .5 -1.3 .5 .4 .5 2.1 .5 3.9 .5 5.9 .5 8.2 .5 11.1 .5 15 .5 20.8 .5 30.4 .5 40.1 .5 0 .5 -13.5 .5 -29.1 .5 -21.1 .5 -15.5 .5 -11.5 .5 -8.6 .5 -6.3 .5 -4.2 .5 -2.4 .5 -.8 .5 1 .5 2.6 .5 4.4 .5 6.5 .5 8.8 .5 11.9 .5 16 .5 21.7 .5 30.1 .5 10 .5 0 .5 0 .5 -8.6 .5 -14.2 .5 -11.5 .5 -9.2 .5 -6.9 .5 -5.1 .5 -3.4 .5 -1.8 .5 -.2 .5 1.3 .5 2.9 .5 4.6 .5 6.4 .5 8.4 .5 10.9 .5 13 .5 -18.9 .5 -81.2 .5 -52.2 .5 -27 .5 -12.9 .5 -5.6 .5 -2.2 .5 -.7 .5 -.2 .5 0 .5 0 .5 0 .5 0 .5 0 .5 0 .5 0 .5 0 .5 0 .5 .3 .5 1 .5 2.8 .5 7 .5 15.6 .5 31.6 .5 52.8 .5 29.7 .5 -10.7 .5 -12.1 .5 -10.8 .5 -9.3 .5 -8 .5 -6.5 .5 -5.2 .5 -3.7 .5 -2.4 .5 -1 .5 .4 .5 1.8 .5 3 .5 4.2 .5 5.2 .5 5.9 .5 5.8 .5 5 .5 3.2 .5 .4 .5 -2.3 .5 -4 .5 -4.6 .5 -4.4 .5 -3.6 .5 -2.6 .5 -1.3 .5 .1 .5 1.3 .5 2.7 .5 4 .5 5.1 .5 6.1 .5 6.7 .5 6.8 .5 6 .5 4.2 .5 1.7 .5 -.8 .5 -2.4 .5 -3.2 .5 -3.1 .5 -2.5 .5 -1.6 .5 -.6 .5 .5 .5 1.4 .5 2.4 .5 3.3 .5 4.2 .5 5 .5 6 .5 7.1 .5 8.5 .5 10.1 .5 12.4 .5 15 .5 18 .5 6.7 .5 0 .5 -.6 .5 -34.2 .5 -24.9 .5 -17.9 .5 -13.3 .5 -9.9 .5 -7.4 .5 -5.1 .5 -3.3 .5 -1.6 .5 43.2 .5 1.7 .5 3.3 .5 5 .5 7 .5 9.3 .5 12.1 .5 15.4 .5 18.8 .5 2.4 .5 0 .5 -.3 .5 -29.6 .5 -22.2 .5 -16.5 .5 -12.4 .5 -9.3 .5 -6.8 .5 -4.8 .5 -2.9 .5 -1.3 .5 .3 .5 2 .5 3.7 .5 5.6 .5 7.8 .5 10.5 .5 14 .5 18.6 .5 25.3 .5 18.3 .5 0 .5 -8.4 .5 -29.6 .5 -21.6 .5 -15.9 .5 -11.9 .5 -8.9 .5 -6.6 .5 -4.5 .5 -2.7 .5 -1 .5 .6 .5 2.2 .5 4 .5 6 .5 8.2 .5 11 .5 14.6 .5 19.8 .5 27.2 .5 17.5 .5 0 .5 0 .5 -13.8 .5 -17 .5 -13.5 .5 -10.5 .5 -8 .5 -5.9 .5 -4.1 .5 -2.4 .5 -.8 .5 .8 .5 2.4 .5 4 .5 5.9 .5 8 .5 10.4 .5 13.5 .5 13 .5 -54.4 .5 -69.7 .5 -38.7 .5 -19.2 .5 -8.8 .5 -3.7 .5 -1.3 .5 -.4 .5 -.1 .5 0 .5 0 .5 0 .5 0 .5 0 .5 0 .5 0 .5 0 .5 .1 .5 .6 .5 1.6 .5 4.4 .5 10.5 .5 22.3 .5 43.5 .5 66.1 .5 16.7 .5 -12.6 .5 -11.5 .5 -9.8 .5 -8.3 .5 -6.7 .5 -5.3 .5 -3.9 .5 -2.5 .5 -1 .5 .3 .5 1.7 .5 3 .5 4.5 .5 5.7 .5 6.9 .5 7.6 .5 7.6 .5 6.5 .5 3.4 .5 -1.8 .5 -5.9 .5 -7.6 .5 -7.6 .5 -6.6 .5 -5.2 .5 -3.8 .5 -2.3 .5 -.8 .5 .5 .5 1.9 .5 3.2 .5 4.5 .5 5.7 .5 6.6 .5 6.9 .5 6.5 .5 4.6 .5 1.7 .5 -1.8 .5 -5.2 .5 -8.5 .5 -9.1 .5 -8.4 .5 -7.2 .5 -5.9 .5 -4.4 .5 -3.1 .5 -1.9 .5 -.5 .5 .7 .5 2.1 .5 3.5 .5 5.2 .5 7.2 .5 9.5 .5 12.5 .5 16.6 .5 22.7 .5 31.2 .5 7.2 .5 0 .5 -29.9 .5 -25.9 .5 -18.6 .5 -13.8 .5 -10.4 .5 -7.7 .5 -5.5 .5 -3.6 .5 -1.9 .5 18.3 .5 1.3 .5 2.9 .5 4.8 .5 6.7 .5 9.2 .5 12 .5 16 .5 21.2 .5 24.9 .5 0 .5 0 .5 -13.7 .5 -22.8 .5 -17.3 .5 -13.1 .5 -10 .5 -7.5 .5 -5.3 .5 -3.6 .5 -1.9 .5 -.2 .5 1.3 .5 2.9 .5 4.7 .5 6.7 .5 9.1 .5 11.9 .5 15.7 .5 20.7 .5 22.4 .5 0 .5 -1.6 .5 -40.2 .5 -27.3 .5 -19.2 .5 -14.1 .5 -10.4 .5 -7.8 .5 -5.6 .5 -3.7 .5 -1.9 .5 -.3 .5 1.3 .5 3 .5 4.8 .5 6.9 .5 9.3 .5 12.5 .5 17 .5 23.6 .5 34.7 .5 19 .5 0 .5 -7.1 .5 -21.3 .5 -16.8 .5 -12.9 .5 -9.9 .5 -7.5 .5 -5.4 .5 -3.6 .5 -2 .5 -.3 .5 1.2 .5 2.8 .5 4.5 .5 6.5 .5 8.7 .5 11.4 .5 14.8 .5 13.6 .5 -57.5 .5 -66.3 .5 -36.3 .5 -17.8 .5 -8.2 .5 -3.3 .5 -1.2 .5 -.3 .5 -.1 .5 0 .5 0 .5 0 .5 0 .5 0 .5 0 .5 0 .5 0 .5 .2 .5 .6 .5 1.8 .5 4.9 .5 11.3 .5 24.1 .5 47.3 .5 79.1 .5 30.4 .5 -14.7 .5 -12.5 .5 -9.7 .5 -7.4 .5 -5.5 .5 -3.7 .5 -2.1 .5 -.6 .5 .9 .5 2.5 .5 4.1 .5 5.9 .5 8 .5 10.3 .5 13.1 .5 16.2 .5 9.8 .5 0 .5 0 .5 -25 .5 -28.8 .5 -20.4 .5 -15 .5 -11.3 .5 -8.3 .5 -6.1 .5 -4.2 .5 -2.4 .5 -.8 .5 .8 .5 2.5 .5 4.2 .5 6.1 .5 8.4 .5 11.3 .5 15 .5 20.6 .5 28.9 .5 24.5 .5 0 .5 0 .5 -7.4 .5 -15.6 .5 -12.7 .5 -10.1 .5 -7.8 .5 -5.8 .5 -4 .5 -2.5 .5 -.9 .5 .6 .5 2 .5 3.7 .5 5.4 .5 7.3 .5 9.5 .5 12 .5 14.9 .5 11.4 .5 0 .5 0 .5 0 .5 -20.4 .5 -19.3 .5 -14.8 .5 -11.4 .5 -8.6 .5 -6.5 .5 -4.5 .5 -2.8 .5 -1.2 .5 30.6 .5 1.8 .5 3.3 .5 5 .5 6.8 .5 8.8 .5 11 .5 13.5 .5 8.7 .5 0 .5 0 .5 -9.7 .5 -33.4 .5 -23.5 .5 -17.1 .5 -12.6 .5 -9.6 .5 -7 .5 -5 .5 -3.1 .5 -1.5 .5 .1 .5 1.7 .5 3.3 .5 5.2 .5 7.3 .5 9.8 .5 13.1 .5 17.6 .5 24.5 .5 34.6 .5 5.3 .5 -10.5 .5 -39.2 .5 -26.1 .5 -18.5 .5 -13.5 .5 -10.2 .5 -7.5 .5 -5.3 .5 -3.6 .5 -1.8 .5 -.2 .5 1.4 .5 3 .5 4.9 .5 6.9 .5 9.3 .5 12.5 .5 16.9 .5 23.6 .5 34.9 .5 23 .5 0 .5 0 .5 -4.6 .5 -13.1 .5 -10.9 .5 -8.8 .5 -6.8 .5 -5.1 .5 -3.5 .5 -1.9 .5 -.5 .5 .9 .5 2.4 .5 3.9 .5 5.6 .5 7.4 .5 9.3 .5 11.6 .5 11.4 .5 -51.2 .5 -77.3 .5 -44 .5 -22.1 .5 -10.3 .5 -4.4 .5 -1.7 .5 -.5 .5 -.1 .5 0 .5 0 .5 0 .5 0 .5 0 .5 0 .5 0 .5 0 .5 .1 .5 .4 .5 1.4 .5 3.7 .5 8.9 .5 19.5 .5 39.2 .5 71.7 .5 68.2 .5 -7 .5 -11.4 .5 -9.4 .5 -7.5 .5 -5.8 .5 -4.1 .5 -2.6 .5 -1.2 .5 .2 .5 1.6 .5 3.1 .5 4.6 .5 6.2 .5 8.1 .5 10 .5 11.9 .5 4.5 .5 0 .5 0 .5 0 .5 -14.6 .5 -20.9 .5 -16.1 .5 -12.4 .5 -9.5 .5 -7.1 .5 -5.1 .5 -3.4 .5 -1.7 .5 -.2 .5 1.3 .5 2.9 .5 4.7 .5 6.5 .5 8.8 .5 11.5 .5 15.1 .5 19.5 .5 20.7 .5 0 .5 0 .5 -.9 .5 -19.9 .5 -16.4 .5 -12.8 .5 -9.9 .5 -7.6 .5 -5.5 .5 -3.8 .5 -2.2 .5 -.7 .5 .9 .5 2.3 .5 4.1 .5 5.8 .5 7.8 .5 10.3 .5 13.2 .5 16.7 .5 18.6 .5 0 .5 0 .5 0 .5 -12.9 .5 -17.1 .5 -13.6 .5 -10.7 .5 -8.2 .5 -6.2 .5 -4.3 .5 -2.7 .5 -1.1 .5 32.3 .5 1.7 .5 3.1 .5 4.6 .5 6.1 .5 7.9 .5 9.6 .5 11.1 .5 .4 .5 0 .5 0 .5 -15.5 .5 -37.7 .5 -25.2 .5 -17.9 .5 -13.2 .5 -9.9 .5 -7.3 .5 -5.3 .5 -3.4 .5 -1.7 .5 -.2 .5 1.4 .5 3 .5 4.8 .5 6.9 .5 9.2 .5 12.4 .5 16.6 .5 23.2 .5 34.3 .5 25.5 .5 -2.5 .5 -46.1 .5 -29.7 .5 -20.3 .5 -14.8 .5 -11 .5 -8.3 .5 -6 .5 -4 .5 -2.4 .5 -.7 .5 .8 .5 2.4 .5 4.1 .5 6.1 .5 8.3 .5 11.1 .5 15 .5 20.5 .5 30.1 .5 46.6 .5 .8 .5 0 .5 0 .5 0 .5 0 .5 -4.8 .5 -5.5 .5 -4.4 .5 -3.3 .5 -2.2 .5 -1 .5 .2 .5 1.3 .5 2.4 .5 3.6 .5 4.7 .5 5.8 .5 3.2 .5 0 .5 0 .5 -80.2 .5 -67.3 .5 -36.1 .5 -17.7 .5 -8.1 .5 -3.3 .5 -1.2 .5 -.3 .5 -.1 .5 0 .5 0 .5 0 .5 0 .5 0 .5 0 .5 0 .5 0 .5 .2 .5 .6 .5 1.8 .5 4.9 .5 11.4 .5 24.1 .5 47.1 .5 71.4 .5 15 .5 -14.3 .5 -12.6 .5 -10.6 .5 -8.8 .5 -7.1 .5 -5.6 .5 -4.2 .5 -2.8 .5 -1.3 .5 -.1 .5 1.4 .5 2.8 .5 4.2 .5 5.6 .5 6.8 .5 7.9 .5 8.1 .5 7.1 .5 4.5 .5 -.5 .5 -5.6 .5 -8.2 .5 -8.6 .5 -7.7 .5 -6.3 .5 -4.9 .5 -3.3 .5 -2 .5 -.6 .5 .8 .5 2.1 .5 3.4 .5 4.6 .5 5.8 .5 6.9 .5 7.7 .5 7.7 .5 6.7 .5 4.3 .5 .7 .5 -2.5 .5 -3.2 .5 -3.3 .5 -2.9 .5 -2.3 .5 -1.8 .5 -1.1 .5 -.5 .5 .1 .5 .7 .5 1.5 .5 2.3 .5 3.2 .5 4.4 .5 5.7 .5 7.3 .5 9.2 .5 11.4 .5 13.8 .5 11.8 .5 0 .5 0 .5 0 .5 -29.7 .5 -22.7 .5 -16.9 .5 -12.7 .5 -9.7 .5 -7.2 .5 -5.2 .5 -3.4 .5 -1.8 .5 -10.4 .5 1.3 .5 2.9 .5 4.6 .5 6.5 .5 8.8 .5 11.7 .5 15.6 .5 21.2 .5 29.6 .5 17.5 .5 0 .5 -10.2 .5 -25.3 .5 -19.2 .5 -14.4 .5 -11 .5 -8.3 .5 -6.2 .5 -4.3 .5 -2.6 .5 -1.1 .5 .5 .5 2 .5 3.6 .5 5.4 .5 7.4 .5 9.8 .5 13 .5 17 .5 22.7 .5 21.2 .5 0 .5 -4.2 .5 -34.3 .5 -24.4 .5 -17.7 .5 -13.2 .5 -9.9 .5 -7.4 .5 -5.4 .5 -3.6 .5 -1.9 .5 -.4 .5 1.2 .5 2.7 .5 4.5 .5 6.3 .5 8.6 .5 11.5 .5 15.2 .5 20.7 .5 29 .5 22.7 .5 0 .5 0 .5 0 .5 0 .5 -2.9 .5 -7.1 .5 -5.8 .5 -4.6 .5 -3.4 .5 -2.1 .5 -1 .5 .2 .5 1.4 .5 2.6 .5 3.8 .5 5.1 .5 6.2 .5 7.4 .5 .2 .5 0 .5 -69.2 .5 -72 .5 -39.1 .5 -19.5 .5 -8.9 .5 -3.7 .5 -1.4 .5 -.4 .5 -.1 .5 0 .5 0 .5 0 .5 0 .5 0 .5 0 .5 0 .5 0 .5 .1 .5 .5 .5 1.7 .5 4.3 .5 10.3 .5 22 .5 42.8 .5 63.4 .5 15.2 .5 -12 .5 -11.4 .5 -10.2 .5 -8.9 .5 -7.5 .5 -6.2 .5 -4.7 .5 -3.4 .5 -2.1 .5 -.7 .5 .7 .5 1.9 .5 3.1 .5 4.1 .5 4.8 .5 4.8 .5 4.1 .5 2.3 .5 0 .5 -2.5 .5 -4.4 .5 -5.3 .5 -5.2 .5 -4.6 .5 -3.5 .5 -2.4 .5 -1.1 .5 .2 .5 1.5 .5 2.7 .5 3.9 .5 4.8 .5 5.5 .5 5.8 .5 5.4 .5 4.4 .5 2.6 .5 .7 .5 -.9 .5 -1.8 .5 -2 .5 -1.4 .5 -.6 .5 .7 .5 1.8 .5 2.9 .5 4.1 .5 5.1 .5 5.8 .5 6.4 .5 6.8 .5 6.8 .5 6.9 .5 6.9 .5 7 .5 7.2 .5 7.8 .5 8.4 .5 8.9 .5 0 .5 0 .5 0 .5 0 .5 0 .5 -20.6 .5 -19.1 .5 -14.8 .5 -11.5 .5 -8.7 .5 -6.6 .5 -4.7 .5 -3.1 .5 -1.5 .5 30.7 .5 1.4 .5 2.8 .5 4.3 .5 6 .5 7.9 .5 9.9 .5 12.3 .5 14.4 .5 .9 .5 0 .5 0 .5 -29 .5 -28.5 .5 -20.2 .5 -14.8 .5 -11.2 .5 -8.4 .5 -6.2 .5 -4.4 .5 -2.6 .5 -1.1 .5 .4 .5 2 .5 3.5 .5 5.4 .5 7.3 .5 9.9 .5 13.1 .5 17.5 .5 24.3 .5 34.6 .5 8.4 .5 0 .5 -17.1 .5 -22.5 .5 -17.1 .5 -13.1 .5 -10 .5 -7.5 .5 -5.6 .5 -3.7 .5 -2.2 .5 -.7 .5 .8 .5 2.4 .5 3.9 .5 5.7 .5 7.8 .5 10.2 .5 13.4 .5 17.5 .5 23.1 .5 14.7 .5 0 .5 0 .5 0 .5 0 .5 0 .5 -4 .5 -5.7 .5 -4.8 .5 -3.5 .5 -2.5 .5 -1.3 .5 -.3 .5 .9 .5 2 .5 3.1 .5 4.3 .5 5.3 .5 6.4 .5 .1 .5 0 .5 -16.1 .5 -89.1 .5 -56.2 .5 -29.2 .5 -14 .5 -6.2 .5 -2.4 .5 -.8 .5 -.3 .5 0 .5 0 .5 0 .5 0 .5 0 .5 0 .5 0 .5 0 .5 0 .5 .3 .5 .8 .5 2.5 .5 6.4 .5 14.3 .5 29.4 .5 50.8 .5 34.9 .5 -10.9 .5 -13.3 .5 -11.6 .5 -10 .5 -8.4 .5 -6.9 .5 -5.3 .5 -4 .5 -2.6 .5 -1.1 .5 .2 .5 1.5 .5 2.9 .5 4.1 .5 5.1 .5 5.7 .5 5.7 .5 4.8 .5 2.7 .5 0 .5 -3.1 .5 -5.6 .5 -6.5 .5 -6.4 .5 -5.5 .5 -4.3 .5 -3.1 .5 -1.7 .5 -.5 .5 .7 .5 1.8 .5 2.9 .5 3.7 .5 4.3 .5 4.5 .5 4.3 .5 3.5 .5 2.3 .5 .9 .5 -.4 .5 -1.3 .5 -1.6 .5 -1.2 .5 -.3 .5 .9 .5 1.9 .5 2.9 .5 3.7 .5 4.3 .5 4.7 .5 4.9 .5 5 .5 4.9 .5 5.1 .5 5.4 .5 6 .5 7 .5 8.5 .5 10.3 .5 12.9 .5 16.1 .5 19.7 .5 4.7 .5 0 .5 0 .5 -6.2 .5 -17.8 .5 -14.5 .5 -11.4 .5 -9 .5 -6.8 .5 -5 .5 -3.4 .5 -1.8 .5 33.2 .5 .9 .5 2.1 .5 3.6 .5 4.9 .5 6.5 .5 8 .5 9.6 .5 7.1 .5 0 .5 0 .5 0 .5 -7.8 .5 -30.3 .5 -22.2 .5 -16.3 .5 -12.4 .5 -9.3 .5 -7 .5 -5.1 .5 -3.4 .5 -1.8 .5 -.3 .5 1.2 .5 2.8 .5 4.3 .5 6.2 .5 8.4 .5 11 .5 14.6 .5 19.5 .5 26.8 .5 21.1 .5 0 .5 -2.3 .5 -26 .5 -20.1 .5 -15.3 .5 -11.7 .5 -9 .5 -6.7 .5 -4.8 .5 -3.2 .5 -1.6 .5 -.2 .5 1.3 .5 2.8 .5 4.4 .5 6.3 .5 8.4 .5 11 .5 14.4 .5 18.9 .5 24.7 .5 8.7 .5 0 .5 0 .5 -20.4 .5 -18.4 .5 -14.4 .5 -11.1 .5 -8.5 .5 -6.5 .5 -4.6 .5 -3 .5 -1.6 .5 0 .5 1.3 .5 2.9 .5 4.5 .5 6.2 .5 8.4 .5 10.8 .5 14 .5 17.8 .5 -.8 .5 -79.8 .5 -57 .5 -29.8 .5 -14.3 .5 -6.4 .5 -2.5 .5 -.8 .5 -.3 .5 0 .5 0 .5 0 .5 0 .5 0 .5 0 .5 0 .5 0 .5 0 .5 .2 .5 .9 .5 2.4 .5 6.2 .5 13.9 .5 28.2 .5 46.7 .5 25.8 .5 -10.9 .5 -12.6 .5 -11.3 .5 -9.8 .5 -8.4 .5 -7 .5 -5.6 .5 -4.2 .5 -2.8 .5 -1.4 .5 0 .5 1.2 .5 2.6 .5 3.6 .5 4.5 .5 4.9 .5 4.6 .5 3.3 .5 1.2 .5 -1.3 .5 -3.5 .5 -5.5 .5 -6.1 .5 -5.9 .5 -5 .5 -3.8 .5 -2.6 .5 -1.4 .5 -.1 .5 1.1 .5 2.3 .5 3.3 .5 4.1 .5 4.8 .5 5 .5 4.9 .5 4.2 .5 3 .5 1.7 .5 .5 .5 -.5 .5 -.9 .5 -.8 .5 .3 .5 1.8 .5 3.2 .5 4.6 .5 6 .5 7.4 .5 8.7 .5 9.8 .5 10.6 .5 11.3 .5 11.5 .5 11.3 .5 10.8 .5 10.1 .5 9.6 .5 9.2 .5 9.1 .5 5.3 .5 0 .5 0 .5 0 .5 0 .5 0 .5 -12.7 .5 -16.8" stroke="#1f77b4"/><path d="M147.0 565.6l.5 -12 .5 -10.9 .5 -9.9 .5 -8.7 .5 -7.4 .5 -6.1 .5 -4.8 .5 -3.4 .5 -2.1 .5 -.7 .5 .5 .5 1.5 .5 2 .5 2.1 .5 1.1 .5 -1.7 .5 -5.5 .5 -7.9 .5 -8.7 .5 -8.4 .5 -7.3 .5 -6.1 .5 -4.7 .5 -3.3 .5 -1.8 .5 -.5 .5 1.1 .5 2.5 .5 3.9 .5 5.3 .5 6.6 .5 7.6 .5 7.9 .5 6.9 .5 4.4 .5 .7 .5 -2.1 .5 -3.9 .5 -4.5 .5 -4.3 .5 -3.5 .5 -2.5 .5 -1.2 .5 0 .5 1.5 .5 2.8 .5 4.2 .5 5.6 .5 7 .5 8.5 .5 10.2 .5 11.9 .5 13.3 .5 -6.9 .5 -58.5 .5 -42.8 .5 -22.3 .5 -10.4 .5 -4.4 .5 -1.7 .5 -.5 .5 -.1 .5 -.1 .5 0 .5 0 .5 0 .5 0 .5 0 .5 0 .5 .1 .5 .1 .5 .4 .5 1.3 .5 3.6 .5 8.8 .5 19.2 .5 38.8 .5 70.4 .5 61.1 .5 -10.7 .5 -12.4 .5 -9.6 .5 -7.3 .5 -5.2 .5 -3.5 .5 -1.7 .5 -.2 .5 1.4 .5 3.1 .5 4.9 .5 6.8 .5 9.2 .5 11.8 .5 14.9 .5 17.5 .5 0 .5 0 .5 -5.3 .5 -31.6 .5 -22.8 .5 -16.7 .5 -12.4 .5 -9.2 .5 -6.7 .5 -4.6 .5 -2.8 .5 -1 .5 .6 .5 2.4 .5 4.2 .5 6.2 .5 8.6 .5 11.6 .5 15.6 .5 21.2 .5 29.5 .5 13.2 .5 0 .5 0 .5 -8.9 .5 -14.7 .5 -11.9 .5 -9.4 .5 -7.1 .5 -5.2 .5 -3.5 .5 -1.8 .5 -.2 .5 1.4 .5 2.9 .5 4.7 .5 6.6 .5 8.7 .5 11.1 .5 14 .5 13.3 .5 0 .5 0 .5 0 .5 -1.4 .5 -16.5 .5 -13.8 .5 -10.9 .5 -8.4 .5 -6.3 .5 -4.4 .5 -2.7 .5 -1.1 .5 -25.1 .5 2.1 .5 4 .5 5.8 .5 8.1 .5 10.8 .5 14.2 .5 18.6 .5 23.4 .5 3.6 .5 0 .5 0 .5 0 .5 -10 .5 -12.3 .5 -12.3 .5 -12 .5 -11.3 .5 -10.4 .5 -9.4 .5 -8.2 .5 -7 .5 -5.7 .5 -4.2 .5 -2.9 .5 -1.6 .5 -.3 .5 .9 .5 1.6 .5 2 .5 1.4 .5 -.6 .5 -4.1 .5 -6.7 .5 -8 .5 -8.1 .5 -7.5 .5 -6.5 .5 -5.1 .5 -3.9 .5 -2.4 .5 -1.1 .5 .3 .5 1.7 .5 3.1 .5 4.3 .5 5.3 .5 5.8 .5 5.7 .5 4.2 .5 1.6 .5 -1.7 .5 -4.1 .5 -5.3 .5 -5.6 .5 -5.1 .5 -4.1 .5 -3 .5 -1.7 .5 -.4 .5 1 .5 2.4 .5 3.7 .5 5.2 .5 6.6 .5 8 .5 9.5 .5 11 .5 12.7 .5 11.4 .5 -30.1 .5 -52.2 .5 -31 .5 -15.4 .5 -6.8 .5 -2.8 .5 -.9 .5 -.3 .5 -.1 .5 0 .5 0 .5 0 .5 0 .5 0 .5 0 .5 0 .5 .1 .5 .2 .5 .7 .5 2.3 .5 5.7 .5 13.1 .5 27.5 .5 53.3 .5 82.9 .5 17.8 .5 -13.7 .5 -11.1 .5 -8.6 .5 -6.4 .5 -4.5 .5 -2.8 .5 -1.2 .5 .3 .5 2 .5 3.6 .5 5.3 .5 7.4 .5 9.7 .5 12.3 .5 15.4 .5 11.5 .5 0 .5 0 .5 -29.9 .5 -32.8 .5 -22.3 .5 -16 .5 -11.8 .5 -8.8 .5 -6.3 .5 -4.3 .5 -2.5 .5 -.7 .5 .9 .5 2.6 .5 4.5 .5 6.6 .5 9 .5 12.2 .5 16.5 .5 23.1 .5 34.3 .5 25.7 .5 0 .5 0 .5 0 .5 0 .5 0 .5 -2.3 .5 -4.5 .5 -3.5 .5 -2.4 .5 -1.3 .5 -.1 .5 .9 .5 2.1 .5 3.1 .5 4.2 .5 3.8 .5 0 .5 0 .5 0 .5 0 .5 0 .5 0 .5 0 .5 -13.9 .5 -13.6 .5 -10.9 .5 -8.5 .5 -6.5 .5 -4.6 .5 -2.9 .5 -1.3 .5 8.9 .5 1.7 .5 3.3 .5 4.9 .5 6.6 .5 8.7 .5 10.8 .5 12.8 .5 4.5 .5 0 .5 0 .5 0 .5 -3.3 .5 -14.4 .5 -14.1 .5 -13.3 .5 -12.4 .5 -11.5 .5 -10.6 .5 -9.7 .5 -8.7 .5 -7.5 .5 -6.3 .5 -4.9 .5 -3.7 .5 -2.3 .5 -.9 .5 .5 .5 1.7 .5 2.8 .5 3.5 .5 3.5 .5 1 .5 -2.3 .5 -5.1 .5 -6.7 .5 -6.9 .5 -6.5 .5 -5.5 .5 -4.3 .5 -2.9 .5 -1.6 .5 -.2 .5 1.3 .5 2.6 .5 4.2 .5 5.5 .5 6.9 .5 7.7 .5 7.6 .5 6 .5 2.4 .5 -1.8 .5 -4.4 .5 -5.7 .5 -5.9 .5 -5.3 .5 -4.3 .5 -3.1 .5 -1.8 .5 -.5 .5 1 .5 2.3 .5 3.7 .5 5.2 .5 6.6 .5 8.1 .5 9.8 .5 11.6 .5 13.6 .5 8.1 .5 -48.1 .5 -51.8 .5 -28.4 .5 -13.7 .5 -6.1 .5 -2.4 .5 -.8 .5 -.2 .5 -.1 .5 0 .5 0 .5 0 .5 0 .5 0 .5 0 .5 0 .5 .1 .5 .3 .5 .9 .5 2.6 .5 6.5 .5 14.7 .5 30.6 .5 58.4 .5 84.5 .5 9.5 .5 -13 .5 -10.5 .5 -8.2 .5 -6.2 .5 -4.4 .5 -2.7 .5 -1.2 .5 .3 .5 1.8 .5 3.5 .5 5.1 .5 7 .5 9.1 .5 11.6 .5 14.2 .5 8.3 .5 0 .5 0 .5 -21.4 .5 -33.3 .5 -22.9 .5 -16.5 .5 -12.1 .5 -9.1 .5 -6.6 .5 -4.6 .5 -2.7 .5 -1.1 .5 .6 .5 2.3 .5 4 .5 6.1 .5 8.3 .5 11.2 .5 15.2 .5 20.7 .5 30 .5 31.9 .5 0 .5 0 .5 -13.1 .5 -16.9 .5 -13.5 .5 -10.4 .5 -8 .5 -5.9 .5 -4.1 .5 -2.3 .5 -.8 .5 .7 .5 2.4 .5 4 .5 5.9 .5 7.9 .5 10.5 .5 13.4 .5 16.8 .5 13.4 .5 0 .5 0 .5 0 .5 0 .5 -4.8 .5 -9.7 .5 -8.1 .5 -6.5 .5 -4.9 .5 -3.3 .5 -2 .5 -64.4 .5 1 .5 2.6 .5 4.4 .5 6.4 .5 8.7 .5 11.5 .5 15.4 .5 20.5 .5 27.3 .5 5.9 .5 0 .5 0 .5 -1 .5 -12.7 .5 -11.4 .5 -10.1 .5 -8.7 .5 -7.7 .5 -6.8 .5 -6 .5 -5.2 .5 -4.5 .5 -3.7 .5 -2.8 .5 -1.8 .5 -.8 .5 .4 .5 1.4 .5 2.4 .5 3.3 .5 3.6 .5 2.4 .5 -2.5 .5 -6.5 .5 -8.6 .5 -8.9 .5 -8.1 .5 -6.8 .5 -5.4 .5 -4 .5 -2.5 .5 -1.1 .5 .3 .5 1.9 .5 3.3 .5 5 .5 6.6 .5 8.2 .5 9.6 .5 10 .5 8.2 .5 3.4 .5 -2.7 .5 -5.8 .5 -7.3 .5 -7.3 .5 -6.4 .5 -5.3 .5 -3.9 .5 -2.6 .5 -1.1 .5 .2 .5 1.7 .5 3 .5 4.5 .5 6 .5 7.5 .5 9.4 .5 11.3 .5 13.7 .5 9.1 .5 -57.2 .5 -60.8 .5 -33.2 .5 -16.3 .5 -7.3 .5 -2.9 .5 -1.1 .5 -.3 .5 -.1 .5 0 .5 0 .5 0 .5 0 .5 0 .5 0 .5 0 .5 .1 .5 .2 .5 .7 .5 2.1 .5 5.4 .5 12.5 .5 26.3 .5 51.4 .5 85.2 .5 32.9 .5 -12.3 .5 -10.7 .5 -8.5 .5 -6.6 .5 -4.9 .5 -3.2 .5 -1.7 .5 -.3 .5 1.2 .5 2.7 .5 4.3 .5 6 .5 7.8 .5 10 .5 12.1 .5 10.1 .5 0 .5 0 .5 0 .5 -35.5 .5 -26.6 .5 -18.9 .5 -14 .5 -10.4 .5 -7.8 .5 -5.5 .5 -3.7 .5 -1.9 .5 -.3 .5 1.3 .5 3 .5 4.7 .5 6.9 .5 9.3 .5 12.4 .5 16.8 .5 23.2 .5 33.2 .5 13.8 .5 0 .5 0 .5 0 .5 -2.6 .5 -8.6 .5 -7.2 .5 -5.8 .5 -4.4 .5 -2.9 .5 -1.6 .5 -.3 .5 1 .5 2.3 .5 3.7 .5 5.1 .5 6.5 .5 8 .5 6.8 .5 0 .5 0 .5 0 .5 0 .5 0 .5 -2.7 .5 -12.6 .5 -10.7 .5 -8.7 .5 -6.7 .5 -5 .5 -3.4 .5 -1.8 .5 -1.9 .5 1 .5 2.5 .5 4 .5 5.7 .5 7.5 .5 9.6 .5 11.7 .5 11.5 .5 0 .5 0 .5 0 .5 0 .5 0 .5 -8.2 .5 -9.9 .5 -8.2 .5 -6.5 .5 -4.9 .5 -3.4 .5 -1.9 .5 -.5 .5 .8 .5 2.3 .5 3.7 .5 5.2 .5 6.9 .5 8.6 .5 10.3 .5 5.7 .5 0 .5 0 .5 0 .5 -12.6 .5 -26 .5 -19.4 .5 -14.5 .5 -11 .5 -8.2 .5 -6 .5 -4.1 .5 -2.4 .5 -.8 .5 .8 .5 2.4 .5 4.2 .5 6 .5 8.3 .5 11 .5 14.6 .5 19.4 .5 26.1 .5 12.2 .5 0 .5 -3.4 .5 -24.7 .5 -19.2 .5 -14.6 .5 -11.2 .5 -8.4 .5 -6.2 .5 -4.2 .5 -2.6 .5 -1 .5 .6 .5 2.2 .5 3.9 .5 5.7 .5 7.8 .5 10.4 .5 13.7 .5 17.5 .5 -16.3 .5 -78.4 .5 -49.3 .5 -25.2 .5 -11.9 .5 -5.1 .5 -2 .5 -.7 .5 -.1 .5 -.1 .5 0 .5 0 .5 0 .5 0 .5 0 .5 0 .5 0 .5 .1 .5 .4 .5 1.1 .5 3.1 .5 7.7 .5 17.1 .5 34.8 .5 65.2 .5 74 .5 -7.3 .5 -14.6 .5 -11.3 .5 -8.8 .5 -6.6 .5 -4.7 .5 -3 .5 -1.5 .5 .1 .5 1.6 .5 3.2 .5 5 .5 6.8 .5 9 .5 11.7 .5 15 .5 18.5 .5 6.2 .5 0 .5 0 .5 -8 .5 -19.7 .5 -15.7 .5 -12.2 .5 -9.4 .5 -7 .5 -5.1 .5 -3.4 .5 -1.7 .5 -.2 .5 1.3 .5 2.9 .5 4.6 .5 6.5 .5 8.7 .5 11.3 .5 14.7 .5 18.6 .5 13.8 .5 0 .5 0 .5 0 .5 0 .5 -4.7 .5 -9.1 .5 -7.6 .5 -6.1 .5 -4.6 .5 -3.1 .5 -1.8 .5 -.5 .5 .9 .5 2.2 .5 3.5 .5 5 .5 6.5 .5 8.1 .5 9.5 .5 1.8 .5 0 .5 0 .5 0 .5 0 .5 -16.2 .5 -16.9 .5 -13.3 .5 -10.4 .5 -7.9 .5 -5.8 .5 -4.1 .5 -2.5 .5 -.8 .5 6.8 .5 2.1 .5 3.7 .5 5.4 .5 7.4 .5 9.7 .5 12.3 .5 15.4 .5 15.1 .5 0 .5 0 .5 0 .5 0 .5 -3.6 .5 -10.4 .5 -8.9 .5 -7.1 .5 -5.6 .5 -3.9 .5 -2.6 .5 -1.1 .5 .2 .5 1.5 .5 3 .5 4.4 .5 6 .5 7.7 .5 9.3 .5 10.9 .5 .2 .5 0 .5 0 .5 -3.7 .5 -34.6 .5 -24.6 .5 -17.7 .5 -13.2 .5 -9.9 .5 -7.4 .5 -5.2 .5 -3.5 .5 -1.8 .5 -.2 .5 1.4 .5 3 .5 4.7 .5 6.8 .5 9.2 .5 12.2 .5 16.3 .5 22.5 .5 31.6 .5 14.1 .5 0 .5 -6.6 .5 -22.1 .5 -17.3 .5 -13.3 .5 -10.2 .5 -7.8 .5 -5.7 .5 -3.8 .5 -2.2 .5 -.7 .5 .9 .5 2.4 .5 4.1 .5 5.9 .5 8 .5 10.6 .5 13.7 .5 17.3 .5 -21.8 .5 -80.2 .5 -49.1 .5 -25.1 .5 -11.8 .5 -5.1 .5 -2 .5 -.7 .5 -.1 .5 -.1 .5 0 .5 0 .5 0 .5 0 .5 0 .5 0 .5 0 .5 .1 .5 .4 .5 1.1 .5 3.1 .5 7.8 .5 17.1 .5 35 .5 66 .5 89.6 .5 2.6 .5 -1.1 .5 -7.7 .5 -6.4 .5 -5.2 .5 -3.8 .5 -2.6 .5 -1.4 .5 -.1 .5 1.1 .5 2.3 .5 3.6 .5 4.8 .5 6.2 .5 7.4 .5 2.9 .5 0 .5 0 .5 0 .5 0 .5 -37.6 .5 -28.5 .5 -20 .5 -14.6 .5 -11 .5 -8.1 .5 -6 .5 -4 .5 -2.4 .5 -.8 .5 .9 .5 2.4 .5 4.1 .5 6 .5 8.3 .5 11 .5 14.8 .5 20.1 .5 28.9 .5 36.5 .5 0 .5 0 .5 0 .5 -9.5 .5 -11.4 .5 -9.5 .5 -7.5 .5 -5.7 .5 -4.2 .5 -2.6 .5 -1.2 .5 .1 .5 1.6 .5 3 .5 4.5 .5 6.2 .5 8 .5 10 .5 11.9 .5 6.3 .5 0 .5 0 .5 0 .5 -3.5 .5 -18.8 .5 -15.3 .5 -12.1 .5 -9.3 .5 -7.2 .5 -5.2 .5 -3.5 .5 -1.9 .5 32.7 .5 .9 .5 2.4 .5 3.7 .5 5.2 .5 6.9 .5 8.5 .5 10.2 .5 6.3 .5 0 .5 0 .5 0 .5 0 .5 0 .5 0 .5 -1.4 .5 -7.2 .5 -6.3 .5 -5.6 .5 -4.9 .5 -4.4 .5 -4.1 .5 -3.8 .5 -3.7 .5 -3.4 .5 -3.2 .5 -2.7 .5 -2.2 .5 -1.5 .5 -.6 .5 .1 .5 .7 .5 1.1 .5 -1.4 .5 -5.9 .5 -8.5 .5 -9.5 .5 -9.1 .5 -8.2 .5 -7.1 .5 -5.9 .5 -4.6 .5 -3.4 .5 -2.1 .5 -.9 .5 .5 .5 1.8 .5 3.1 .5 4.4 .5 5.8 .5 6.7 .5 7 .5 6.1 .5 3.1 .5 -1 .5 -4 .5 -5.9 .5 -6.8 .5 -6.6 .5 -5.8 .5 -4.8 .5 -3.5 .5 -2.2 .5 -.8 .5 .5 .5 1.9 .5 3.4 .5 4.7 .5 6.2 .5 7.6 .5 9.2 .5 10.7 .5 12.3 .5 9 .5 -46.4 .5 -58.6 .5 -32.9 .5 -16.2 .5 -7.2 .5 -2.9 .5 -1.1 .5 -.3 .5 -.1 .5 0 .5 0 .5 0 .5 0 .5 0 .5 0 .5 0 .5 .1 .5 .2 .5 .7 .5 2.1 .5 5.4 .5 12.5 .5 26.4 .5 51.5 .5 84.1 .5 25.1 .5 -15.7 .5 -13 .5 -10.2 .5 -7.9 .5 -5.8 .5 -4.2 .5 -2.5 .5 -1 .5 .4 .5 2 .5 3.4 .5 5.2 .5 7 .5 9.2 .5 11.8 .5 14.9 .5 18.1 .5 3 .5 0 .5 -21.3 .5 -40.4 .5 -26.2 .5 -18.3 .5 -13.5 .5 -10.1 .5 -7.6 .5 -5.4 .5 -3.6 .5 -1.9 .5 -.4 .5 1.1 .5 2.8 .5 4.5 .5 6.4 .5 8.8 .5 11.7 .5 15.6 .5 21.8 .5 32.1 .5 43.9 .5 0 .5 -3.8 .5 -24.6 .5 -19.1 .5 -14.6 .5 -11.1 .5 -8.5 .5 -6.3 .5 -4.5 .5 -2.8 .5 -1.2 .5 .3 .5 1.8 .5 3.3 .5 5.1 .5 7.1 .5 9.4 .5 12.2 .5 16.1 .5 21 .5 20.2 .5 0 .5 0 .5 0 .5 -16.2 .5 -14.7 .5 -11.8 .5 -9.2 .5 -7.1 .5 -5.3 .5 -3.6 .5 -2 .5 14.1 .5 .8 .5 2.2 .5 3.7 .5 5.3 .5 7 .5 8.9 .5 11.1 .5 13.1 .5 3.7 .5 0 .5 0 .5 0 .5 0 .5 -5.1 .5 -11.3 .5 -10.1 .5 -9 .5 -8.1 .5 -7.6 .5 -7.3 .5 -7.1 .5 -7.2 .5 -7 .5 -6.7 .5 -6.2 .5 -5.4 .5 -4.6 .5 -3.5 .5 -2.3 .5 -1.1 .5 .2 .5 1.3 .5 1.7 .5 -.9 .5 -3.6 .5 -5.6 .5 -6.6 .5 -6.6 .5 -6.2 .5 -5.2 .5 -4.3 .5 -3.1 .5 -1.9 .5 -.7 .5 .5 .5 2 .5 3.3 .5 4.8 .5 6.2 .5 7.7 .5 8.6 .5 8.3 .5 5.6 .5 .2 .5 -4.6 .5 -6.9 .5 -7.9 .5 -7.7 .5 -7 .5 -5.9 .5 -4.6 .5 -3.2 .5 -1.8 .5 -.4 .5 .9 .5 2.4 .5 3.8 .5 5.2 .5 6.7 .5 8.3 .5 9.9 .5 11.6 .5 13.5 .5 10.7 .5 -37.2 .5 -51.2 .5 -29.2 .5 -14.3 .5 -6.3 .5 -2.5 .5 -.9 .5 -.2 .5 -.1 .5 0 .5 0 .5 0 .5 0 .5 0 .5 0 .5 0 .5 .1 .5 .2 .5 .9 .5 2.4 .5 6.3 .5 14.1 .5 29.5 .5 56.7 .5 86.7 .5 14.3 .5 -15.1 .5 -12.5 .5 -9.8 .5 -7.6 .5 -5.7 .5 -4.1 .5 -2.4 .5 -1.1 .5 .4 .5 1.9 .5 3.3 .5 4.9 .5 6.8 .5 8.8 .5 11.2 .5 14 .5 16.8 .5 1.8 .5 0 .5 -12.3 .5 -41.6 .5 -27.1 .5 -19 .5 -13.9 .5 -10.5 .5 -7.8 .5 -5.8 .5 -3.8 .5 -2.3 .5 -.7 .5 .9 .5 2.4 .5 4 .5 5.9 .5 8.1 .5 10.7 .5 14.4 .5 19.5 .5 28.1 .5 43.2 .5 7.6 .5 0 .5 0 .5 -11 .5 -12.4 .5 -10.2 .5 -8.1 .5 -6.3 .5 -4.6 .5 -3.1 .5 -1.6 .5 -.3 .5 1.1 .5 2.5 .5 4 .5 5.5 .5 7.4 .5 9.3 .5 11.5 .5 13.6 .5 2.7 .5 0 .5 0 .5 0 .5 -22.7 .5 -18.9 .5 -14.6 .5 -11.2 .5 -8.6 .5 -6.5 .5 -4.6 .5 -2.9 .5 -1.5 .5 -20.5 .5 1.5 .5 3.1 .5 4.8 .5 6.7 .5 9 .5 11.8 .5 15.6 .5 21 .5 28.5 .5 10 .5 0 .5 0 .5 0 .5 -8.2 .5 -10.5 .5 -9.2 .5 -8 .5 -6.9 .5 -6.3 .5 -5.9 .5 -5.8 .5 -5.7 .5 -5.8 .5 -5.7 .5 -5.5 .5 -5 .5 -4.3 .5 -3.4 .5 -2.3 .5 -1.3 .5 -.2 .5 .8 .5 .7 .5 -1.3 .5 -3.4 .5 -5.2 .5 -6.3 .5 -6.6 .5 -6.3 .5 -5.8 .5 -5 .5 -4 .5 -3 .5 -1.8 .5 -.7 .5 .6 .5 1.8 .5 3.1 .5 4.4 .5 5.6 .5 6.3 .5 6.3 .5 5 .5 1.9 .5 -1.4 .5 -3.9 .5 -5.6 .5 -6.3 .5 -6.2 .5 -5.4 .5 -4.3 .5 -3.2 .5 -1.8 .5 -.5 .5 .9 .5 2.3 .5 3.7 .5 5.1 .5 6.5 .5 7.9 .5 9.4 .5 10.9 .5 12.3 .5 12.5 .5 -21 .5 -55.6 .5 -35.3 .5 -17.8 .5 -8.1 .5 -3.3 .5 -1.2 .5 -.4 .5 -.1 .5 0 .5 0 .5 0 .5 0 .5 0 .5 0 .5 0 .5 .1 .5 .1 .5 .6 .5 1.8 .5 4.8 .5 11.3 .5 23.9 .5 47.2 .5 82.1 .5 44.5 .5 -15.1 .5 -13.6 .5 -10.8 .5 -8.5 .5 -6.5 .5 -4.8 .5 -3.1 .5 -1.7 .5 -.3 .5 1.1 .5 2.6 .5 4.1 .5 5.8 .5 7.6 .5 9.9 .5 12.4 .5 15.3 .5 12 .5 0 .5 0 .5 -17.5 .5 -31.3 .5 -22.1 .5 -16.2 .5 -12.1 .5 -9.2 .5 -6.9 .5 -4.9 .5 -3.2 .5 -1.7 .5 -.2 .5 1.4 .5 2.8 .5 4.5 .5 6.4 .5 8.7 .5 11.4 .5 15.1 .5 20.5 .5 28.8 .5 25.7 .5 0 .5 0 .5 -9.1 .5 -16.2 .5 -13.2 .5 -10.5 .5 -8.2 .5 -6.2 .5 -4.5 .5 -2.9 .5 -1.5 .5 -.1 .5 1.4 .5 2.8 .5 4.3 .5 6 .5 8 .5 10.2 .5 13 .5 15.9 .5 10.8 .5 0 .5 0 .5 0 .5 0 .5 -9.2 .5 -11 .5 -9 .5 -7.3 .5 -5.6 .5 -4.1 .5 -2.7 .5 -1.3 .5 -47.9 .5 1.4 .5 3 .5 4.5 .5 6.5 .5 8.5 .5 11.2 .5 14.6 .5 19.1 .5 24.5 .5 4.8 .5 0 .5 0 .5 -12.2 .5 -16.4 .5 -13.3 .5 -10.7 .5 -8.5 .5 -6.9 .5 -5.4 .5 -4.5 .5 -3.8 .5 -3.3 .5 -3.1 .5 -3.1 .5 -3.1 .5 -3.1 .5 -2.9 .5 -2.6 .5 -2.1 .5 -1.4 .5 -.6 .5 .1 .5 .5 .5 -1.2 .5 -3.1 .5 -4.8 .5 -6 .5 -6.5 .5 -6.5 .5 -6.1 .5 -5.5 .5 -4.6 .5 -3.6 .5 -2.7 .5 -1.5 .5 -.3 .5 .8 .5 2.1 .5 3.4 .5 4.7 .5 5.6 .5 6.4 .5 6.1 .5 4.6 .5 1.6 .5 -1.3 .5 -3.8 .5 -5.4 .5 -6.1 .5 -5.9 .5 -5.1 .5 -4 .5 -2.9 .5 -1.5 .5 -.1 .5 1.2 .5 2.6 .5 4 .5 5.4 .5 6.9 .5 8.3 .5 9.9 .5 11.4 .5 12.9 .5 11.4 .5 -30.5 .5 -51.1 .5 -30.2 .5 -14.8 .5 -6.7" stroke="#ff7f0e"/><path d="M147.0 613.6l.5 -4.9 .5 -3.8 .5 -2.6 .5 -1.5 .5 -.3 .5 .9 .5 2 .5 3.1 .5 4.3 .5 5.1 .5 0 .5 0 .5 -50.2 .5 -83 .5 -47 .5 -23.9 .5 -11.2 .5 -4.8 .5 -1.9 .5 -.6 .5 -.1 .5 -.1 .5 0 .5 0 .5 0 .5 0 .5 0 .5 0 .5 0 .5 .1 .5 .4 .5 1.2 .5 3.3 .5 8.1 .5 17.8 .5 35 .5 53.5 .5 16.9 .5 -12.5 .5 -12.2 .5 -10.6 .5 -9.3 .5 -7.8 .5 -6.4 .5 -5 .5 -3.6 .5 -2.2 .5 -.8 .5 .6 .5 1.9 .5 3.2 .5 4.4 .5 5.4 .5 6.1 .5 6 .5 5.1 .5 2 .5 -2.3 .5 -5.4 .5 -6.8 .5 -6.7 .5 -5.8 .5 -4.5 .5 -3.1 .5 -1.7 .5 -.2 .5 1.2 .5 2.6 .5 4 .5 5.3 .5 6.2 .5 6.8 .5 6.2 .5 4.4 .5 1.1 .5 -2.3 .5 -4.5 .5 -4.4 .5 -3.6 .5 -2.5 .5 -1.1 .5 .3 .5 1.7 .5 3.2 .5 4.6 .5 6 .5 7.3 .5 8.6 .5 9.9 .5 11.1 .5 12.3 .5 13.5 .5 14.9 .5 16.3 .5 17.2 .5 12.4 .5 0 .5 0 .5 -7.2 .5 -16.6 .5 -13.8 .5 -11 .5 -8.4 .5 -6.2 .5 -4.4 .5 -2.6 .5 -1 .5 -20.3 .5 2.4 .5 4.1 .5 6.1 .5 8.3 .5 11.2 .5 14.7 .5 19.3 .5 24.7 .5 .7 .5 0 .5 0 .5 0 .5 -10.2 .5 -10.3 .5 -8.4 .5 -6.5 .5 -4.8 .5 -3.2 .5 -1.7 .5 -.2 .5 1.3 .5 2.7 .5 4.4 .5 6 .5 7.8 .5 9.8 .5 11.5 .5 1.8 .5 0 .5 0 .5 0 .5 0 .5 0 .5 -5.5 .5 -8.2 .5 -6.7 .5 -5.2 .5 -3.7 .5 -2.3 .5 -1 .5 .4 .5 1.8 .5 3.2 .5 4.6 .5 6.1 .5 7.7 .5 8.8 .5 0 .5 0 .5 0 .5 0 .5 0 .5 -9.9 .5 -15.6 .5 -12.6 .5 -9.8 .5 -7.5 .5 -5.5 .5 -3.7 .5 -2 .5 -.4 .5 1.2 .5 2.7 .5 4.5 .5 6.4 .5 8.5 .5 11.1 .5 13.6 .5 -20.7 .5 -82.5 .5 -52.2 .5 -26.9 .5 -12.7 .5 -5.6 .5 -2.2 .5 -.7 .5 -.2 .5 -.1 .5 0 .5 0 .5 0 .5 0 .5 0 .5 0 .5 0 .5 .1 .5 .3 .5 1 .5 2.8 .5 7 .5 15.7 .5 31.5 .5 51.8 .5 26.3 .5 -11.4 .5 -12.2 .5 -11 .5 -9.5 .5 -8.1 .5 -6.7 .5 -5.3 .5 -4 .5 -2.5 .5 -1.1 .5 .2 .5 1.6 .5 2.9 .5 4.1 .5 5.2 .5 5.9 .5 6 .5 5.5 .5 3.7 .5 1.2 .5 -1.4 .5 -3.3 .5 -4.1 .5 -4.1 .5 -3.4 .5 -2.3 .5 -1.2 .5 .1 .5 1.4 .5 2.7 .5 3.9 .5 5 .5 5.8 .5 6.1 .5 5.7 .5 4.3 .5 2.1 .5 -.2 .5 -2.2 .5 -3.2 .5 -3.3 .5 -2.7 .5 -1.8 .5 -.7 .5 .5 .5 1.8 .5 2.9 .5 4.1 .5 5.1 .5 6.1 .5 7 .5 8 .5 9.2 .5 10.4 .5 12.1 .5 14.2 .5 16.8 .5 18.9 .5 1.5 .5 0 .5 0 .5 -1 .5 -13.8 .5 -11.8 .5 -9.5 .5 -7.4 .5 -5.5 .5 -3.8 .5 -2.2 .5 -41.8 .5 .9 .5 2.6 .5 4.4 .5 6.3 .5 8.7 .5 11.5 .5 15.3 .5 20.3 .5 26.2 .5 .6 .5 0 .5 -17.6 .5 -25.1 .5 -18.6 .5 -13.9 .5 -10.5 .5 -7.7 .5 -5.6 .5 -3.6 .5 -1.9 .5 -.2 .5 1.4 .5 3.1 .5 4.9 .5 7.1 .5 9.6 .5 12.7 .5 17.1 .5 23 .5 25.8 .5 0 .5 0 .5 0 .5 -1.9 .5 -11.2 .5 -9.5 .5 -7.7 .5 -5.9 .5 -4.2 .5 -2.8 .5 -1.2 .5 .2 .5 1.6 .5 3.1 .5 4.7 .5 6.3 .5 8.2 .5 10 .5 10.3 .5 0 .5 0 .5 0 .5 0 .5 0 .5 -8.6 .5 -11.5 .5 -9.4 .5 -7.5 .5 -5.6 .5 -3.9 .5 -2.4 .5 -.9 .5 .6 .5 2 .5 3.6 .5 5.3 .5 7 .5 8.9 .5 11.1 .5 4.6 .5 -74.7 .5 -70.3 .5 -38.2 .5 -18.9 .5 -8.6 .5 -3.6 .5 -1.3 .5 -.4 .5 0 .5 -.1 .5 0 .5 0 .5 0 .5 0 .5 0 .5 0 .5 .1 .5 .1 .5 .5 .5 1.7 .5 4.5 .5 10.6 .5 22.6 .5 43.4 .5 58.7 .5 7.7 .5 -12.3 .5 -11.3 .5 -9.9 .5 -8.7 .5 -7.2 .5 -5.9 .5 -4.5 .5 -3.1 .5 -1.7 .5 -.4 .5 1 .5 2.2 .5 3.4 .5 4.4 .5 4.8 .5 4.8 .5 3.8 .5 1.9 .5 -1.3 .5 -4.8 .5 -6.8 .5 -7.1 .5 -6.5 .5 -5.5 .5 -4.1 .5 -2.7 .5 -1.2 .5 .1 .5 1.6 .5 3 .5 4.3 .5 5.8 .5 7.1 .5 8.4 .5 9.2 .5 9.4 .5 8.1 .5 5.1 .5 .7 .5 -1.5 .5 -1.5 .5 -1 .5 -.2 .5 1.1 .5 2.3 .5 3.5 .5 4.8 .5 6 .5 7.1 .5 7.9 .5 8.8 .5 9.3 .5 9.8 .5 10.2 .5 10.2 .5 10.3 .5 1.7 .5 0 .5 0 .5 0 .5 -6.1 .5 -28.4 .5 -21.2 .5 -15.7 .5 -11.8 .5 -8.9 .5 -6.5 .5 -4.5 .5 -2.7 .5 -1 .5 46.4 .5 2.1 .5 3.6 .5 5.4 .5 7.3 .5 9.5 .5 11.9 .5 14.5 .5 6.1 .5 0 .5 0 .5 0 .5 -10.3 .5 -16.3 .5 -13.1 .5 -10.3 .5 -7.9 .5 -5.8 .5 -4 .5 -2.4 .5 -.7 .5 .7 .5 2.4 .5 3.9 .5 5.8 .5 7.9 .5 10.2 .5 13.1 .5 16.3 .5 10.5 .5 0 .5 0 .5 -10.8 .5 -25.6 .5 -19.3 .5 -14.4 .5 -10.9 .5 -8.2 .5 -5.9 .5 -4 .5 -2.3 .5 -.6 .5 1 .5 2.6 .5 4.4 .5 6.3 .5 8.7 .5 11.5 .5 15.3 .5 20.5 .5 26.9 .5 4.8 .5 0 .5 0 .5 -1.7 .5 -12.8 .5 -10.9 .5 -8.8 .5 -6.8 .5 -5.1 .5 -3.4 .5 -1.9 .5 -.5 .5 1 .5 2.5 .5 4 .5 5.8 .5 7.5 .5 9.6 .5 11.6 .5 -.7 .5 -82 .5 -65.6 .5 -35 .5 -17.1 .5 -7.8 .5 -3.1 .5 -1.1 .5 -.4 .5 -.1 .5 0 .5 0 .5 0 .5 0 .5 0 .5 0 .5 0 .5 .1 .5 .1 .5 .7 .5 1.9 .5 5.1 .5 11.8 .5 24.8 .5 47.6 .5 62.6 .5 4.8 .5 -12.8 .5 -11.4 .5 -9.6 .5 -8.1 .5 -6.6 .5 -5.1 .5 -3.7 .5 -2.3 .5 -.9 .5 .5 .5 1.9 .5 3.3 .5 4.6 .5 5.9 .5 7 .5 7.5 .5 7.5 .5 6.1 .5 2.7 .5 -2.9 .5 -6.7 .5 -8 .5 -7.7 .5 -6.6 .5 -5.1 .5 -3.6 .5 -2.1 .5 -.7 .5 .8 .5 2.2 .5 3.6 .5 5.2 .5 6.7 .5 8.2 .5 9.8 .5 10.8 .5 10.9 .5 8.3 .5 2.6 .5 -2.1 .5 -1.9 .5 -1.1 .5 -.2 .5 .9 .5 2 .5 3 .5 3.8 .5 4.7 .5 5.2 .5 5.6 .5 6 .5 6.1 .5 6.3 .5 6.4 .5 6.4 .5 0 .5 0 .5 0 .5 0 .5 0 .5 0 .5 -11.8 .5 -22.3 .5 -17.1 .5 -13.1 .5 -10 .5 -7.5 .5 -5.3 .5 -3.6 .5 -1.9 .5 36.4 .5 1.2 .5 2.7 .5 4.3 .5 5.9 .5 7.9 .5 10 .5 12.3 .5 11.9 .5 0 .5 0 .5 0 .5 -14.1 .5 -23.3 .5 -17.7 .5 -13.3 .5 -10.2 .5 -7.6 .5 -5.5 .5 -3.6 .5 -2 .5 -.4 .5 1.2 .5 2.9 .5 4.6 .5 6.6 .5 8.8 .5 11.8 .5 15.4 .5 20.5 .5 25.9 .5 0 .5 0 .5 0 .5 0 .5 -11.9 .5 -10.2 .5 -8.4 .5 -6.5 .5 -4.9 .5 -3.3 .5 -1.8 .5 -.4 .5 1 .5 2.4 .5 3.9 .5 5.5 .5 7.3 .5 9.1 .5 10.9 .5 7.3 .5 0 .5 0 .5 0 .5 0 .5 0 .5 -1.9 .5 -8.9 .5 -7.5 .5 -6 .5 -4.5 .5 -3.2 .5 -1.8 .5 -.5 .5 .8 .5 2.1 .5 3.5 .5 4.9 .5 6.3 .5 7.9 .5 8.8 .5 0 .5 -70 .5 -75.3 .5 -41.3 .5 -20.6 .5 -9.5 .5 -4 .5 -1.5 .5 -.4 .5 -.1 .5 -.1 .5 0 .5 0 .5 0 .5 0 .5 0 .5 0 .5 .1 .5 .1 .5 .5 .5 1.5 .5 4 .5 9.7 .5 21 .5 42 .5 75.6 .5 60.1 .5 -11.2 .5 -12.3 .5 -9.9 .5 -7.6 .5 -5.7 .5 -4 .5 -2.5 .5 -.9 .5 .6 .5 2 .5 3.7 .5 5.2 .5 7.2 .5 9.3 .5 11.7 .5 14.3 .5 8.3 .5 0 .5 0 .5 -10.7 .5 -30.1 .5 -21.7 .5 -16 .5 -12 .5 -9 .5 -6.6 .5 -4.6 .5 -2.9 .5 -1.2 .5 .4 .5 1.9 .5 3.7 .5 5.5 .5 7.6 .5 10.3 .5 13.6 .5 18.4 .5 25.2 .5 28.2 .5 0 .5 0 .5 0 .5 -10 .5 -12.2 .5 -10.1 .5 -8 .5 -6.1 .5 -4.4 .5 -2.8 .5 -1.4 .5 .1 .5 1.5 .5 3 .5 4.6 .5 6.3 .5 8.2 .5 10.4 .5 12.5 .5 8.4 .5 0 .5 0 .5 0 .5 -23.2 .5 -23.1 .5 -17.2 .5 -13 .5 -9.8 .5 -7.3 .5 -5.3 .5 -3.4 .5 -1.8 .5 45.4 .5 1.2 .5 2.8 .5 4.3 .5 6 .5 8 .5 10.1 .5 12.5 .5 13.8 .5 0 .5 0 .5 0 .5 0 .5 -18.1 .5 -15.6 .5 -12.4 .5 -9.7 .5 -7.3 .5 -5.4 .5 -3.7 .5 -2 .5 -.6 .5 1 .5 2.5 .5 4.2 .5 5.9 .5 8 .5 10.4 .5 13.3 .5 16.7 .5 12.8 .5 0 .5 0 .5 0 .5 0 .5 -3.6 .5 -9.6 .5 -8.1 .5 -6.5 .5 -5 .5 -3.5 .5 -2.2 .5 -.7 .5 .5 .5 1.9 .5 3.2 .5 4.7 .5 6.3 .5 7.8 .5 9.3 .5 5.5 .5 0 .5 0 .5 0 .5 0 .5 -.7 .5 -14.8 .5 -12.6 .5 -10.1 .5 -8 .5 -6 .5 -4.3 .5 -2.7 .5 -1.3 .5 .2 .5 1.7 .5 3.2 .5 4.8 .5 6.6 .5 8.5 .5 10.9 .5 13.2 .5 -5.3 .5 -85 .5 -61.6 .5 -32.4 .5 -15.8 .5 -7.1 .5 -2.8 .5 -1 .5 -.3 .5 -.1 .5 0 .5 0 .5 0 .5 0 .5 0 .5 0 .5 0 .5 .1 .5 .2 .5 .7 .5 2.2 .5 5.6 .5 12.9 .5 27.2 .5 52.8 .5 88.1 .5 33 .5 -4.5 .5 -9.2 .5 -7.7 .5 -6.1 .5 -4.7 .5 -3.3 .5 -1.9 .5 -.5 .5 .7 .5 2.1 .5 3.4 .5 4.9 .5 6.3 .5 7.9 .5 9.3 .5 3.3 .5 0 .5 0 .5 0 .5 -32.1 .5 -33 .5 -22.4 .5 -16.2 .5 -12 .5 -8.9 .5 -6.6 .5 -4.6 .5 -2.8 .5 -1.3 .5 .4 .5 2 .5 3.6 .5 5.5 .5 7.7 .5 10.3 .5 13.7 .5 18.8 .5 26.6 .5 40.4 .5 10.9 .5 0 .5 0 .5 -5.4 .5 -11.7 .5 -9.9 .5 -7.9 .5 -6.1 .5 -4.5 .5 -3 .5 -1.6 .5 -.1 .5 1.2 .5 2.7 .5 4.1 .5 5.8 .5 7.5 .5 9.4 .5 11.3 .5 8.2 .5 0 .5 0 .5 0 .5 0 .5 -13.9 .5 -15.3 .5 -12.3 .5 -9.7 .5 -7.4 .5 -5.5 .5 -3.8 .5 -2.2 .5 29.2 .5 .7 .5 2 .5 3.4 .5 4.9 .5 6.4 .5 8 .5 9.6 .5 5.9 .5 0 .5 0 .5 0 .5 0 .5 0 .5 -14.2 .5 -12.2 .5 -9.9 .5 -7.8 .5 -5.9 .5 -4.3 .5 -2.7 .5 -1.2 .5 .1 .5 1.6 .5 3.1 .5 4.7 .5 6.4 .5 8.3 .5 10.4 .5 12.8 .5 10.8 .5 0 .5 0 .5 0 .5 0 .5 -17.1 .5 -14.5 .5 -11.7 .5 -9.1 .5 -7 .5 -5.1 .5 -3.5 .5 -1.9 .5 -.4 .5 1 .5 2.6 .5 4.1 .5 5.9 .5 7.8 .5 10.1 .5 12.9 .5 15.8 .5 10.1 .5 0 .5 0 .5 0 .5 0 .5 -2.6 .5 -9.5 .5 -8.1 .5 -6.6 .5 -5.1 .5 -3.6 .5 -2.3 .5 -.9 .5 .4 .5 1.6 .5 3 .5 4.4 .5 5.9 .5 7.4 .5 8.9 .5 7.1 .5 -7.7 .5 -89.4 .5 -63.7 .5 -33.7 .5 -16.4 .5 -7.4 .5 -3 .5 -1.1 .5 -.3 .5 -.1 .5 0 .5 0 .5 0 .5 0 .5 0 .5 0 .5 0 .5 .1 .5 .2 .5 .7 .5 2 .5 5.4 .5 12.3 .5 26 .5 50.2 .5 72.6 .5 11.7 .5 -13 .5 -11.6 .5 -10.1 .5 -8.5 .5 -7.1 .5 -5.6 .5 -4.2 .5 -2.8 .5 -1.5 .5 -.1 .5 1.3 .5 2.6 .5 3.8 .5 5.1 .5 5.9 .5 6.3 .5 5.9 .5 4.3 .5 1.5 .5 -5.4 .5 -11.3 .5 -12.4 .5 -11.2 .5 -9.4 .5 -7.3 .5 -5.6 .5 -3.9 .5 -2.4 .5 -.9 .5 .5 .5 1.9 .5 3.2 .5 4.6 .5 6 .5 7.2 .5 8.4 .5 9 .5 8.5 .5 6.1 .5 1.8 .5 -2.3 .5 -2 .5 -1 .5 .1 .5 1.1 .5 2.1 .5 3.1 .5 3.7 .5 4.3 .5 4.8 .5 5 .5 5.3 .5 5.6 .5 6.1 .5 6.8 .5 7.6 .5 8.9 .5 10.2 .5 11.5 .5 1.1 .5 0 .5 0 .5 0 .5 -6.3 .5 -18.6 .5 -15 .5 -11.8 .5 -9.2 .5 -7 .5 -5.1 .5 -3.4 .5 -1.8 .5 -10.2 .5 1.1 .5 2.7 .5 4.3 .5 6.1 .5 8.2 .5 10.8 .5 13.9 .5 18 .5 22.4 .5 .9 .5 0 .5 0 .5 -6.9 .5 -15.3 .5 -12.7 .5 -10 .5 -7.9 .5 -5.9 .5 -4.2 .5 -2.7 .5 -1.1 .5 .2 .5 1.7 .5 3.2 .5 4.8 .5 6.6 .5 8.6 .5 10.9 .5 13.7 .5 16.2 .5 .8 .5 0 .5 0 .5 -14.2 .5 -22.2 .5 -17 .5 -13.1 .5 -9.9 .5 -7.6 .5 -5.5 .5 -3.7 .5 -2.2 .5 -.6 .5 .9 .5 2.4 .5 4 .5 5.9 .5 7.9 .5 10.4 .5 13.6 .5 17.9 .5 23.1 .5 9.9 .5 0 .5 0 .5 0 .5 -5.4 .5 -11 .5 -9.1 .5 -7.5 .5 -5.7 .5 -4.2 .5 -2.7 .5 -1.4 .5 -.1 .5 1.3 .5 2.7 .5 4.1 .5 5.7 .5 7.2 .5 9.1 .5 10.8 .5 6.2 .5 -52.9 .5 -81.8 .5 -46.4 .5 -23.4 .5 -11 .5 -4.7 .5 -1.8 .5 -.6 .5 -.1 .5 -.1 .5 0 .5 0 .5 0 .5 0 .5 0 .5 0 .5 0 .5 .1 .5 .4 .5 1.3 .5 3.4 .5 8.3 .5 18.3 .5 36.7 .5 63 .5 37.2 .5 -11.5 .5 -12.5 .5 -10.9 .5 -9.3 .5 -7.9 .5 -6.3 .5 -5 .5 -3.5 .5 -2.2 .5 -.7 .5 .5 .5 1.9 .5 3.1 .5 4.2 .5 4.9 .5 5.2 .5 4.6 .5 2.9 .5 .3 .5 -2.5 .5 -4.6 .5 -5.7 .5 -5.7 .5 -5.1 .5 -4.1 .5 -2.9 .5 -1.7 .5 -.4 .5 .7 .5 1.9 .5 2.8 .5 3.2 .5 3.3 .5 2.7 .5 1.2 .5 -.6 .5 -2.5 .5 -3.7 .5 -4.2 .5 -4 .5 -3.4 .5 -2.3 .5 -1 .5 .4 .5 1.7 .5 3.1 .5 4.4 .5 5.7 .5 6.7 .5 7.7 .5 8.4 .5 8.8 .5 9 .5 9.1 .5 9.1 .5 9.2 .5 9.6 .5 10.4 .5 11.5 .5 12.7 .5 7.4 .5 0 .5 0 .5 0 .5 0 .5 -16.4 .5 -14.6 .5 -11.7 .5 -9.2 .5 -7.1 .5 -5.2 .5 -3.6 .5 -2.1 .5 19.7 .5 .7 .5 2.1 .5 3.5 .5 5 .5 6.6 .5 8.4 .5 10.3 .5 12 .5 1.6 .5 0 .5 0 .5 0 .5 0 .5 -13.6 .5 -12.9 .5 -10.4 .5 -8.3 .5 -6.4 .5 -4.7 .5 -3.1 .5 -1.7 .5 -.2 .5 1.1 .5 2.5 .5 4 .5 5.7 .5 7.4 .5 9.6 .5 11.8 .5 14.2 .5 5 .5 0 .5 0 .5 0 .5 0 .5 0 .5 -5.1 .5 -7.5 .5 -6.2 .5 -4.9 .5 -3.7 .5 -2.4 .5 -1.1 .5 0 .5 1.2 .5 2.4 .5 3.7 .5 5 .5 6.3 .5 7.5 .5 4.8 .5 0 .5 0 .5 0 .5 0 .5 0 .5 0 .5 0 .5 -4 .5 -6.8 .5 -5.7 .5 -4.5 .5 -3.3 .5 -2 .5 -.9 .5 .2 .5 1.4 .5 2.6 .5 3.8 .5 5 .5 6.3 .5 7.3 .5 .6 .5 0 .5 -59.2 .5 -79.8 .5 -44.3 .5 -22.3 .5 -10.4 .5 -4.4 .5 -1.7 .5 -.5 .5 -.1 .5 -.1 .5 0 .5 0 .5 0 .5 0 .5 0 .5 0 .5 .1 .5 .1 .5 .4 .5 1.3 .5 3.7 .5 8.8 .5 19.3 .5 38.4 .5 64.6 .5 32.8 .5 -12.1 .5 -12.3 .5 -10.8 .5 -9.1 .5 -7.7 .5 -6.2 .5 -4.7 .5 -3.4 .5 -2 .5 -.6 .5 .8 .5 2.1 .5 3.3 .5 4.4 .5 5.2 .5 5.5 .5 4.9 .5 3.3 .5 .7 .5 -2.1 .5 -4.2 .5 -5.2 .5 -5.3 .5 -4.7 .5 -3.8 .5 -2.6 .5 -1.3 .5 -.1 .5 1.1 .5 2.2 .5 3.1 .5 3.8 .5 4 .5 3.5 .5 2.4 .5 .7 .5 -1.1 .5 -2.5 .5 -3.3 .5 -3.3 .5 -2.8 .5 -1.8 .5 -.7 .5 .6 .5 2.1 .5 3.4 .5 4.7 .5 5.9 .5 6.9 .5 7.8 .5 8.4 .5 8.7 .5 8.7 .5 8.4 .5 8.1 .5 7.9 .5 7.9 .5 8.2 .5 8.7 .5 9.3 .5 .3 .5 0 .5 0 .5 0 .5 0 .5 -8.2 .5 -16.6 .5 -13.5 .5 -10.7 .5 -8.3 .5 -6.4 .5 -4.6 .5 -3.1 .5 -1.5 .5 11.7 .5 1.2 .5 2.6 .5 4.1 .5 5.8 .5 7.5 .5 9.5 .5 11.9 .5 14.1 .5 4.5 .5 0 .5 0 .5 0 .5 -10.5 .5 -16.5 .5 -13.4 .5 -10.6 .5 -8.2 .5 -6.3 .5 -4.5 .5 -3 .5 -1.4 .5 -.1 .5 1.3 .5 2.8 .5 4.4 .5 6.1 .5 8 .5 10.3 .5 13.1 .5 16.2 .5 12.3 .5 0 .5 0 .5 0 .5 -.8 .5 -13.8 .5 -11.7 .5 -9.5 .5 -7.6 .5 -5.8 .5 -4.3 .5 -2.7 .5 -1.4 .5 0 .5 1.3 .5 2.8 .5 4.2 .5 5.8 .5 7.5 .5 9.5 .5 11.7 .5 13.7 .5 1.1 .5 0 .5 0 .5 0 .5 0 .5 0 .5 -1.4 .5 -6.7 .5 -5.7 .5 -4.6 .5 -3.3 .5 -2.3 .5 -1.1 .5 0 .5 1.1 .5 2.3 .5 3.4 .5 4.6 .5 5.7 .5 6.8 .5 1.2 .5 0 .5 -20.3 .5 -92 .5 -56.8 .5 -29.6 .5 -14.2 .5 -6.2 .5 -2.5 .5 -.9 .5 -.2 .5 -.1 .5 0 .5 0 .5 0 .5 0 .5 0 .5 0 .5 0 .5 .1 .5 .2 .5 .9 .5 2.5 .5 6.2 .5 14.2 .5 29.1 .5 51.2 .5 38.4 .5 -9.4 .5 -12.8 .5 -11.4 .5 -9.9 .5 -8.4 .5 -6.9 .5 -5.5 .5 -4.2 .5 -2.7 .5 -1.3 .5 0 .5 1.3 .5 2.6 .5 3.6 .5 4.3 .5 4.6 .5 4 .5 2.4 .5 0 .5 -2.6 .5 -4.5 .5 -5.9 .5 -6.2 .5 -5.7" stroke="#2ca02c"/><path d="M147.0 496.7l.5 -8.6 .5 -6.1 .5 -4.1 .5 -2.2 .5 -.5 .5 1.3 .5 3.1 .5 4.9 .5 7.3 .5 9.8 .5 13.4 .5 18.4 .5 26.3 .5 40.5 .5 15.7 .5 0 .5 0 .5 -14.9 .5 -13.6 .5 -10.8 .5 -8.5 .5 -6.3 .5 -4.4 .5 -2.7 .5 -1.1 .5 4.4 .5 2 .5 3.7 .5 5.5 .5 7.4 .5 9.5 .5 11.8 .5 13.6 .5 4.4 .5 0 .5 0 .5 -15 .5 -19.1 .5 -17.5 .5 -15.4 .5 -13.7 .5 -12.1 .5 -10.9 .5 -9.6 .5 -8.3 .5 -7.1 .5 -5.9 .5 -4.4 .5 -3.1 .5 -1.7 .5 -.3 .5 1.2 .5 2.5 .5 3.8 .5 4.9 .5 5.5 .5 5.7 .5 5.2 .5 3.7 .5 1.5 .5 -.7 .5 -2.5 .5 -3.3 .5 -3.3 .5 -2.6 .5 -1.8 .5 -.6 .5 .4 .5 1.5 .5 2.2 .5 2.6 .5 2.2 .5 1 .5 -1.3 .5 -3.7 .5 -5.8 .5 -7 .5 -7.3 .5 -6.9 .5 -6 .5 -5 .5 -3.6 .5 -2.4 .5 -.9 .5 .4 .5 1.8 .5 3.2 .5 4.6 .5 6 .5 7.5 .5 8.8 .5 10.3 .5 11.7 .5 13.1 .5 1.6 .5 -45.5 .5 -40.8 .5 -21.9 .5 -10.3 .5 -4.4 .5 -1.6 .5 -.5 .5 -.2 .5 0 .5 0 .5 0 .5 0 .5 0 .5 0 .5 0 .5 0 .5 .1 .5 .4 .5 1.4 .5 3.6 .5 8.8 .5 19.2 .5 38.6 .5 64.8 .5 23.3 .5 -18.8 .5 -14.6 .5 -10.9 .5 -8.1 .5 -5.7 .5 -3.8 .5 -1.9 .5 -.3 .5 1.5 .5 3.2 .5 5.2 .5 7.3 .5 10 .5 13.5 .5 18.3 .5 25.9 .5 37.2 .5 2.9 .5 0 .5 0 .5 0 .5 -.5 .5 -7.3 .5 -6.2 .5 -4.8 .5 -3.5 .5 -2.2 .5 -.9 .5 .4 .5 1.7 .5 3 .5 4.3 .5 5.6 .5 6.9 .5 3.5 .5 0 .5 0 .5 0 .5 0 .5 -46.3 .5 -32.5 .5 -21.7 .5 -15.5 .5 -11.5 .5 -8.4 .5 -6.1 .5 -4 .5 -2.1 .5 -.5 .5 1.3 .5 3 .5 4.9 .5 7.1 .5 9.7 .5 13.2 .5 18 .5 25.8 .5 40.4 .5 25.2 .5 0 .5 0 .5 -12.4 .5 -13.6 .5 -11 .5 -8.6 .5 -6.5 .5 -4.6 .5 -3 .5 -1.3 .5 .7 .5 1.8 .5 3.4 .5 5.1 .5 7 .5 9.2 .5 11.5 .5 13.9 .5 8.4 .5 0 .5 0 .5 -6.9 .5 -22.6 .5 -19.2 .5 -15.9 .5 -13.3 .5 -11.4 .5 -9.8 .5 -8.7 .5 -7.5 .5 -6.5 .5 -5.4 .5 -4.4 .5 -3.2 .5 -2 .5 -.7 .5 .6 .5 1.7 .5 2.9 .5 3.7 .5 4.1 .5 3.8 .5 2.8 .5 1 .5 -1.3 .5 -3.4 .5 -4.7 .5 -5.1 .5 -4.8 .5 -4 .5 -2.9 .5 -1.8 .5 -.5 .5 .7 .5 1.9 .5 2.8 .5 3.4 .5 3.3 .5 2.5 .5 .8 .5 -1.8 .5 -4 .5 -5.9 .5 -6.6 .5 -6.6 .5 -5.8 .5 -4.7 .5 -3.5 .5 -2.2 .5 -.8 .5 .6 .5 1.9 .5 3.4 .5 4.8 .5 6.1 .5 7.7 .5 9.1 .5 10.7 .5 12.4 .5 13.8 .5 -2.1 .5 -46.3 .5 -37.1 .5 -19.5 .5 -9 .5 -3.8 .5 -1.3 .5 -.5 .5 -.1 .5 0 .5 0 .5 0 .5 0 .5 0 .5 0 .5 0 .5 0 .5 .2 .5 .5 .5 1.6 .5 4.2 .5 10 .5 21.7 .5 43.1 .5 74.9 .5 40.7 .5 -14.8 .5 -12.9 .5 -9.8 .5 -7.5 .5 -5.3 .5 -3.6 .5 -1.8 .5 -.2 .5 1.3 .5 3 .5 4.8 .5 6.8 .5 9.1 .5 11.9 .5 15.4 .5 19.4 .5 8.4 .5 0 .5 0 .5 0 .5 -2.7 .5 -11.4 .5 -9.6 .5 -7.8 .5 -5.9 .5 -4.3 .5 -2.7 .5 -1.3 .5 .2 .5 1.6 .5 3.2 .5 4.7 .5 6.4 .5 8.2 .5 10.1 .5 11.3 .5 0 .5 0 .5 0 .5 -22.8 .5 -34.3 .5 -23.2 .5 -16.6 .5 -12.3 .5 -9.1 .5 -6.7 .5 -4.5 .5 -2.8 .5 -1 .5 .7 .5 2.3 .5 4.2 .5 6.1 .5 8.5 .5 11.5 .5 15.6 .5 21.5 .5 31.3 .5 31.6 .5 0 .5 0 .5 0 .5 -6.9 .5 -10.2 .5 -8.5 .5 -6.6 .5 -5 .5 -3.5 .5 -1.9 .5 -46.5 .5 1 .5 2.7 .5 4.4 .5 6.4 .5 8.7 .5 11.4 .5 15 .5 19.4 .5 20.1 .5 0 .5 0 .5 -15.4 .5 -23.6 .5 -18.1 .5 -13.9 .5 -10.9 .5 -8.5 .5 -6.6 .5 -5.1 .5 -3.7 .5 -2.6 .5 -1.5 .5 -.5 .5 .6 .5 1.7 .5 2.7 .5 3.8 .5 4.7 .5 5.2 .5 5.1 .5 3.7 .5 1.6 .5 -.5 .5 -3 .5 -5.1 .5 -6.3 .5 -6.5 .5 -6.2 .5 -5.2 .5 -4.2 .5 -2.9 .5 -1.7 .5 -.3 .5 .9 .5 2.3 .5 3.4 .5 4.3 .5 4.8 .5 4.5 .5 3.2 .5 .9 .5 -2 .5 -4.2 .5 -5.4 .5 -5.7 .5 -5.3 .5 -4.4 .5 -3.4 .5 -2 .5 -.8 .5 .6 .5 2 .5 3.3 .5 4.7 .5 6.1 .5 7.5 .5 8.9 .5 10.2 .5 11.5 .5 12.4 .5 -10.5 .5 -61.7 .5 -43.7 .5 -22.7 .5 -10.6 .5 -4.6 .5 -1.7 .5 -.5 .5 -.2 .5 0 .5 0 .5 0 .5 0 .5 0 .5 0 .5 0 .5 0 .5 .1 .5 .4 .5 1.3 .5 3.6 .5 8.6 .5 18.8 .5 38.1 .5 69.8 .5 65.2 .5 -10.2 .5 -13 .5 -10.2 .5 -7.8 .5 -5.8 .5 -4 .5 -2.3 .5 -.8 .5 .7 .5 2.4 .5 3.9 .5 5.8 .5 7.8 .5 10.2 .5 12.9 .5 16.1 .5 9.5 .5 0 .5 0 .5 0 .5 0 .5 -3.3 .5 -9.4 .5 -8 .5 -6.3 .5 -4.8 .5 -3.3 .5 -1.9 .5 -.6 .5 .9 .5 2.2 .5 3.6 .5 5.1 .5 6.6 .5 8.3 .5 9.7 .5 1.2 .5 0 .5 0 .5 -8.4 .5 -52.6 .5 -31.4 .5 -21 .5 -15.1 .5 -11.2 .5 -8.2 .5 -6 .5 -3.9 .5 -2.2 .5 -.5 .5 1.1 .5 2.9 .5 4.7 .5 6.7 .5 9.3 .5 12.5 .5 17 .5 24.2 .5 37.6 .5 44.5 .5 0 .5 0 .5 -4.4 .5 -13.1 .5 -11 .5 -8.8 .5 -6.8 .5 -5 .5 -3.4 .5 -1.8 .5 -11 .5 1.1 .5 2.7 .5 4.4 .5 6.2 .5 8.2 .5 10.5 .5 13.3 .5 15.9 .5 3 .5 0 .5 0 .5 -19.9 .5 -24.4 .5 -18.2 .5 -13.8 .5 -10.6 .5 -8.1 .5 -6.2 .5 -4.4 .5 -3.1 .5 -1.7 .5 -.5 .5 .6 .5 1.8 .5 3 .5 4.3 .5 5.4 .5 6.6 .5 7.4 .5 7.5 .5 6 .5 3.9 .5 3.3 .5 1.9 .5 0 .5 -2.1 .5 -3.7 .5 -4.3 .5 -4.4 .5 -3.8 .5 -2.9 .5 -1.8 .5 -.6 .5 .6 .5 1.8 .5 3.1 .5 4 .5 4.8 .5 5 .5 4.3 .5 2.6 .5 .3 .5 -3.1 .5 -6.3 .5 -7.8 .5 -7.7 .5 -6.7 .5 -5.5 .5 -4.1 .5 -2.6 .5 -1.3 .5 .2 .5 1.5 .5 2.9 .5 4.4 .5 5.8 .5 7.6 .5 9.3 .5 11.4 .5 13.9 .5 8.7 .5 -61.2 .5 -62.1 .5 -33.7 .5 -16.5 .5 -7.4 .5 -3 .5 -1.1 .5 -.3 .5 -.1 .5 0 .5 0 .5 0 .5 0 .5 0 .5 0 .5 0 .5 .1 .5 .1 .5 .7 .5 2.1 .5 5.3 .5 12.3 .5 26 .5 50.3 .5 66.5 .5 -5.7 .5 -19.1 .5 -14.1 .5 -10.5 .5 -7.9 .5 -5.6 .5 -3.7 .5 -2 .5 -.4 .5 1.2 .5 2.9 .5 4.7 .5 6.8 .5 9.2 .5 12.3 .5 16.5 .5 22.9 .5 32.9 .5 17.3 .5 0 .5 0 .5 0 .5 0 .5 -6.1 .5 -6.8 .5 -5.5 .5 -4.2 .5 -2.8 .5 -1.7 .5 -.3 .5 .8 .5 2.2 .5 3.4 .5 4.7 .5 6 .5 7.2 .5 3.1 .5 0 .5 0 .5 0 .5 0 .5 -11 .5 -24.1 .5 -18.4 .5 -13.9 .5 -10.5 .5 -7.9 .5 -5.8 .5 -3.9 .5 -2.2 .5 -.6 .5 1 .5 2.6 .5 4.3 .5 6.2 .5 8.5 .5 11.2 .5 14.8 .5 19.5 .5 25.5 .5 4.7 .5 0 .5 0 .5 -4.5 .5 -14.1 .5 -11.8 .5 -9.4 .5 -7.3 .5 -5.4 .5 -3.8 .5 -2.2 .5 -18.5 .5 .8 .5 2.3 .5 4 .5 5.8 .5 7.8 .5 10.2 .5 13.2 .5 16.7 .5 16.2 .5 0 .5 0 .5 0 .5 -13.4 .5 -16.9 .5 -13.5 .5 -10.5 .5 -8 .5 -6 .5 -4.1 .5 -2.5 .5 -1 .5 .6 .5 2.1 .5 3.8 .5 5.5 .5 7.5 .5 9.8 .5 12.7 .5 16 .5 17.9 .5 0 .5 0 .5 0 .5 0 .5 -7.4 .5 -11.1 .5 -9.2 .5 -7.3 .5 -5.7 .5 -4 .5 -2.5 .5 -1.1 .5 .4 .5 1.7 .5 3.2 .5 4.7 .5 6.4 .5 8.2 .5 10.1 .5 11.9 .5 1.7 .5 0 .5 0 .5 0 .5 0 .5 -6.2 .5 -11.6 .5 -9.7 .5 -7.7 .5 -5.9 .5 -4.3 .5 -2.8 .5 -1.3 .5 .1 .5 1.5 .5 2.9 .5 4.5 .5 6.1 .5 8 .5 9.8 .5 11.7 .5 -8.5 .5 -86.3 .5 -61.7 .5 -32.6 .5 -15.8 .5 -7.1 .5 -2.8 .5 -1 .5 -.3 .5 -.1 .5 0 .5 0 .5 0 .5 0 .5 0 .5 0 .5 0 .5 .1 .5 .2 .5 .7 .5 2.2 .5 5.6 .5 12.9 .5 27 .5 52.5 .5 78.8 .5 8.2 .5 -17.2 .5 -13.3 .5 -10.2 .5 -7.7 .5 -5.6 .5 -3.7 .5 -2.2 .5 -.5 .5 1 .5 2.6 .5 4.3 .5 6.1 .5 8.4 .5 11 .5 14.4 .5 18.9 .5 24.1 .5 2.5 .5 0 .5 0 .5 0 .5 0 .5 -4.9 .5 -7.1 .5 -5.9 .5 -4.5 .5 -3.2 .5 -2 .5 -.7 .5 .5 .5 1.7 .5 3 .5 4.3 .5 5.6 .5 6.9 .5 6.3 .5 0 .5 0 .5 0 .5 0 .5 -26.3 .5 -34.7 .5 -23.3 .5 -16.8 .5 -12.3 .5 -9.3 .5 -6.8 .5 -4.8 .5 -3 .5 -1.4 .5 .3 .5 1.8 .5 3.5 .5 5.4 .5 7.5 .5 10.1 .5 13.5 .5 18.3 .5 26.1 .5 39.2 .5 13 .5 0 .5 0 .5 -.3 .5 -10.8 .5 -9.3 .5 -7.6 .5 -5.9 .5 -4.4 .5 -2.9 .5 -1.6 .5 8.6 .5 1.1 .5 2.4 .5 3.8 .5 5.2 .5 6.5 .5 8.1 .5 7.1 .5 0 .5 0 .5 0 .5 0 .5 -9.1 .5 -22.9 .5 -17.7 .5 -13.5 .5 -10.3 .5 -7.8 .5 -5.7 .5 -3.9 .5 -2.2 .5 -.7 .5 .9 .5 2.4 .5 4.1 .5 6 .5 8.1 .5 10.6 .5 14 .5 18.2 .5 23.5 .5 6 .5 0 .5 0 .5 0 .5 0 .5 -.1 .5 -6.6 .5 -5.6 .5 -4.5 .5 -3.2 .5 -2.1 .5 -.9 .5 .3 .5 1.5 .5 2.6 .5 3.8 .5 5 .5 6.1 .5 3.7 .5 0 .5 0 .5 0 .5 0 .5 0 .5 -10.4 .5 -19.4 .5 -15.4 .5 -11.9 .5 -9.2 .5 -6.9 .5 -4.9 .5 -3.3 .5 -1.7 .5 -.2 .5 1.4 .5 2.9 .5 4.6 .5 6.4 .5 8.6 .5 11.3 .5 14.5 .5 15.3 .5 -52.3 .5 -73.5 .5 -41 .5 -20.5 .5 -9.5 .5 -3.9 .5 -1.5 .5 -.4 .5 -.2 .5 0 .5 0 .5 0 .5 0 .5 0 .5 0 .5 0 .5 0 .5 .2 .5 .4 .5 1.6 .5 4.1 .5 9.7 .5 21.2 .5 42.2 .5 75.8 .5 59 .5 -12 .5 -12.9 .5 -10.3 .5 -8 .5 -6.1 .5 -4.4 .5 -2.7 .5 -1.3 .5 .2 .5 1.6 .5 3.2 .5 4.7 .5 6.6 .5 8.6 .5 10.9 .5 13.5 .5 15.3 .5 0 .5 0 .5 0 .5 0 .5 0 .5 -7.5 .5 -9 .5 -7.6 .5 -5.9 .5 -4.5 .5 -3 .5 -1.7 .5 -.4 .5 .9 .5 2.3 .5 3.6 .5 5.1 .5 6.6 .5 8.2 .5 9.6 .5 3.3 .5 0 .5 0 .5 0 .5 -13.6 .5 -27.4 .5 -20.2 .5 -15.1 .5 -11.3 .5 -8.6 .5 -6.3 .5 -4.4 .5 -2.7 .5 -1.1 .5 .4 .5 2 .5 3.6 .5 5.4 .5 7.5 .5 10 .5 13.2 .5 17.6 .5 23.8 .5 27.2 .5 0 .5 0 .5 -.5 .5 -16.6 .5 -13.9 .5 -11.2 .5 -8.7 .5 -6.7 .5 -4.9 .5 -3.3 .5 -1.7 .5 -10.7 .5 1.2 .5 2.7 .5 4.4 .5 6.1 .5 8.3 .5 10.6 .5 13.7 .5 17.2 .5 14 .5 0 .5 0 .5 0 .5 -18 .5 -16.9 .5 -13.4 .5 -10.5 .5 -8.1 .5 -6.3 .5 -4.6 .5 -3.3 .5 -2.1 .5 -1 .5 -.1 .5 .8 .5 1.5 .5 2.2 .5 2.7 .5 3.3 .5 3.6 .5 3.7 .5 3.3 .5 2.1 .5 .5 .5 -1.3 .5 -3.5 .5 -5.3 .5 -6.5 .5 -6.8 .5 -6.6 .5 -6 .5 -5.1 .5 -4.1 .5 -3 .5 -1.7 .5 -.6 .5 .7 .5 2.1 .5 3.2 .5 4.5 .5 5.3 .5 5.9 .5 5.4 .5 3.7 .5 1 .5 -2.1 .5 -4.5 .5 -5.8 .5 -6.1 .5 -5.6 .5 -4.6 .5 -3.5 .5 -2.1 .5 -.9 .5 .5 .5 1.9 .5 3.3 .5 4.6 .5 6.1 .5 7.6 .5 9.1 .5 10.6 .5 12.2 .5 9.6 .5 -46.4 .5 -61.4 .5 -34.7 .5 -17.1 .5 -7.8 .5 -3.1 .5 -1.2 .5 -.3 .5 -.1 .5 0 .5 0 .5 0 .5 0 .5 0 .5 0 .5 0 .5 .1 .5 .1 .5 .7 .5 1.9 .5 5.1 .5 11.8 .5 25 .5 49 .5 81.1 .5 24.8 .5 -17.5 .5 -14.1 .5 -10.9 .5 -8.3 .5 -6.2 .5 -4.4 .5 -2.8 .5 -1.2 .5 .3 .5 1.7 .5 3.4 .5 5 .5 6.9 .5 9.2 .5 12 .5 15.4 .5 19.6 .5 13.4 .5 0 .5 0 .5 0 .5 0 .5 -6.3 .5 -9 .5 -7.5 .5 -6 .5 -4.5 .5 -3.2 .5 -1.8 .5 -.6 .5 .8 .5 2.1 .5 3.3 .5 4.8 .5 6.3 .5 7.8 .5 9.2 .5 4.6 .5 0 .5 0 .5 0 .5 -42.9 .5 -37.3 .5 -24.1 .5 -17.1 .5 -12.7 .5 -9.4 .5 -7 .5 -5 .5 -3.2 .5 -1.6 .5 -.1 .5 1.5 .5 3.2 .5 4.8 .5 6.9 .5 9.3 .5 12.4 .5 16.7 .5 23.6 .5 36.1 .5 45.9 .5 0 .5 0 .5 0 .5 0 .5 0 .5 0 .5 0 .5 0 .5 -1.8 .5 -1.4 .5 -.5 .5 -103.9 .5 2 .5 3.6 .5 5.4 .5 7.5 .5 9.9 .5 13 .5 17.2 .5 23.2 .5 25.8 .5 0 .5 0 .5 -12.7 .5 -20.6 .5 -16.2 .5 -12.6 .5 -10 .5 -7.8 .5 -6.2 .5 -4.8 .5 -3.9 .5 -3.1 .5 -2.5 .5 -2.1 .5 -1.8 .5 -1.5 .5 -1.2 .5 -.8 .5 -.3 .5 .3 .5 1 .5 1.4 .5 1.7 .5 1.3 .5 .2 .5 -1.2 .5 -3 .5 -4.4 .5 -5.3 .5 -5.7 .5 -5.4 .5 -4.8 .5 -4 .5 -2.9 .5 -1.8 .5 -.6 .5 .6 .5 1.9 .5 3 .5 4 .5 4.5 .5 4.5 .5 3.2 .5 .7 .5 -2.3 .5 -4.7 .5 -6.2 .5 -6.7 .5 -6.4 .5 -5.7 .5 -4.6 .5 -3.4 .5 -2.1 .5 -.7 .5 .7 .5 2 .5 3.4 .5 4.9 .5 6.2 .5 7.7 .5 9 .5 10.5 .5 11.8 .5 12.8 .5 -6.4 .5 -50 .5 -37.6 .5 -19.6 .5 -9.1 .5 -3.7 .5 -1.4 .5 -.5 .5 -.1 .5 0 .5 0 .5 0 .5 0 .5 0 .5 0 .5 0 .5 0 .5 .2 .5 .5 .5 1.5 .5 4.3 .5 10 .5 21.5 .5 43.1 .5 73.7 .5 26.4 .5 -21.8 .5 -16.8 .5 -12.6 .5 -9.6 .5 -7.1 .5 -5.2 .5 -3.4 .5 -1.8 .5 -.3 .5 1.2 .5 2.7 .5 4.4 .5 6.3 .5 8.5 .5 11.3 .5 14.9 .5 20 .5 27.8 .5 21.4 .5 0 .5 0 .5 0 .5 0 .5 -2.1 .5 -7.1 .5 -5.9 .5 -4.7 .5 -3.5 .5 -2.3 .5 -1.2 .5 .1 .5 1.1 .5 2.4 .5 3.5 .5 4.8 .5 6 .5 7 .5 1.9 .5 0 .5 0 .5 0 .5 -4.9 .5 -52.4 .5 -31.7 .5 -21.3 .5 -15.4 .5 -11.4 .5 -8.7 .5 -6.3 .5 -4.4 .5 -2.8 .5 -1.2 .5 .4 .5 1.8 .5 3.5 .5 5.3 .5 7.3 .5 9.7 .5 13.1 .5 17.6 .5 25.1 .5 39 .5 37.7 .5 0 .5 0 .5 -6.6 .5 -13.3 .5 -11 .5 -8.9 .5 -7 .5 -5.3 .5 -3.6 .5 -2.2 .5 -.9 .5 -16.7 .5 2 .5 3.6 .5 5.1 .5 7.1 .5 9.1 .5 11.8 .5 14.8 .5 18 .5 4 .5 0 .5 0 .5 -7.8 .5 -19.5 .5 -15.7 .5 -12.4 .5 -9.8 .5 -7.7 .5 -6 .5 -4.7 .5 -3.7 .5 -2.9 .5 -2.3 .5 -1.9 .5 -1.7 .5 -1.6 .5 -1.3 .5 -1.1 .5 -.8 .5 -.2 .5 .3 .5 .8 .5 1.1 .5 1.1 .5 .5 .5 -.8 .5 -2.2 .5 -3.7 .5 -4.8 .5 -5.5 .5 -5.5 .5 -5.1 .5 -4.4 .5 -3.5 .5 -2.5 .5 -1.3 .5 -.1 .5 1.1 .5 2.3 .5 3.4 .5 4.3 .5 4.8 .5 4.4 .5 2.9 .5 .2 .5 -2.6 .5 -4.9 .5 -6.2 .5 -6.5 .5 -6.1 .5 -5.3 .5 -4.1 .5 -2.9 .5 -1.6 .5 -.2 .5 1.2 .5 2.6 .5 4 .5 5.4 .5 6.7 .5 8.3 .5 9.7 .5 11.1 .5 12.6 .5 11.1 .5 -30.6 .5 -52.2 .5 -31 .5 -15.4 .5 -6.8 .5 -2.8 .5 -.9 .5 -.3 .5 -.1 .5 0 .5 0 .5 0 .5 0 .5 0 .5 0 .5 0 .5 .1 .5 .2 .5 .7 .5 2.3 .5 5.7 .5 13.1 .5 27.5 .5 53.3 .5 74 .5 -6.3 .5 -21.4 .5 -15.8 .5 -11.9 .5 -9 .5 -6.8 .5 -4.8 .5 -3.1 .5 -1.5 .5 -.1 .5 1.4 .5 3 .5 4.6 .5 6.5 .5 8.8 .5 11.5 .5 15.4 .5 20.8 .5 29.3 .5 23.6 .5 0 .5 0 .5 0 .5 0 .5 -4.3 .5 -7.2 .5 -6.1 .5 -4.8 .5 -3.5 .5 -2.4 .5 -1.2 .5 0 .5 1.2 .5 2.3 .5 3.6 .5 4.8 .5 6 .5 7.2 .5 4.4 .5 0 .5 0 .5 0 .5 0 .5 0 .5 -9.5 .5 -15.8 .5 -12.9 .5 -10.2 .5 -8 .5 -6.1 .5 -4.3 .5 -2.8 .5 -1.4 .5 0 .5 1.4 .5 2.9 .5 4.4 .5 6 .5 8.1 .5 10.2 .5 13 .5 15.8 .5 9.2 .5 0 .5 0 .5 0 .5 0 .5 0 .5 -.4 .5 -6.6 .5 -5.6 .5 -4.4 .5 -3.3 .5 -2.3 .5 -1.1 .5 -40 .5 1.4 .5 2.7 .5 4.3 .5 6 .5 7.7 .5 9.9 .5 12.2 .5 14.7 .5 4.8 .5 0 .5 0 .5 0 .5 -2.8 .5 -14.3 .5 -12.5 .5 -10.5 .5 -9.1 .5 -8 .5 -7.4 .5 -7.2 .5 -7.3 .5 -7.5 .5 -7.8 .5 -7.9 .5 -7.6 .5 -7.1 .5 -6.3 .5 -5.3 .5 -4.1 .5 -2.9 .5 -1.6 .5 -.3 .5 .9 .5 2.1 .5 3 .5 3.5" stroke="#d62728"/><path d="M147.0 500.8l.5 -8.5 .5 -6.2 .5 -4 .5 -2.2 .5 -.5 .5 1.3 .5 3 .5 5 .5 7.2 .5 9.9 .5 13.3 .5 18.3 .5 26.1 .5 39.5 .5 12.9 .5 -.8 .5 -32.6 .5 -23.8 .5 -17.2 .5 -12.9 .5 -9.5 .5 -7 .5 -4.8 .5 -2.9 .5 -1.2 .5 .5 .5 2.2 .5 4.1 .5 6.1 .5 8.5 .5 11.4 .5 15.3 .5 21 .5 29 .5 14.6 .5 0 .5 -4.2 .5 -22.9 .5 -17.9 .5 -13.7 .5 -10.4 .5 -7.7 .5 -5.6 .5 -3.7 .5 -1.9 .5 -36 .5 1.4 .5 3.3 .5 5.2 .5 7.4 .5 10.1 .5 13.6 .5 18.5 .5 26.2 .5 37.5 .5 .8 .5 0 .5 -29.5 .5 -22.2 .5 -16.4 .5 -12.3 .5 -9.1 .5 -6.7 .5 -4.6 .5 -2.8 .5 -1 .5 .6 .5 2.4 .5 4.2 .5 6.2 .5 8.6 .5 11.4 .5 15.4 .5 20.7 .5 27.9 .5 7.2 .5 0 .5 -6.6 .5 -22.9 .5 -17.7 .5 -13.6 .5 -10.2 .5 -7.7 .5 -5.5 .5 -3.5 .5 -1.9 .5 -.1 .5 1.5 .5 3.2 .5 5 .5 7.2 .5 9.7 .5 12.8 .5 16.8 .5 21.9 .5 11.6 .5 0 .5 0 .5 -.5 .5 -15.8 .5 -13.1 .5 -10.5 .5 -8.2 .5 -6.1 .5 -4.2 .5 -2.5 .5 -1 .5 .6 .5 2.2 .5 3.8 .5 5.7 .5 7.7 .5 9.9 .5 12.5 .5 -2.8 .5 -82.1 .5 -61.8 .5 -32.7 .5 -15.9 .5 -7.1 .5 -2.9 .5 -1 .5 -.3 .5 0 .5 0 .5 0 .5 0 .5 0 .5 0 .5 0 .5 0 .5 0 .5 .2 .5 .7 .5 2.2 .5 5.6 .5 12.8 .5 27 .5 52 .5 74.8 .5 4.5 .5 -16.1 .5 -12.3 .5 -9.3 .5 -6.8 .5 -4.7 .5 -2.8 .5 -1.2 .5 .5 .5 2.2 .5 4 .5 5.9 .5 8.2 .5 11 .5 14.7 .5 19.5 .5 25.8 .5 7.7 .5 0 .5 -41.3 .5 -31.9 .5 -21.6 .5 -15.5 .5 -11.4 .5 -8.4 .5 -6 .5 -4 .5 -2.2 .5 -.4 .5 1.2 .5 3 .5 4.9 .5 7.1 .5 9.7 .5 13.1 .5 17.9 .5 25.6 .5 39.3 .5 20.9 .5 0 .5 -9.8 .5 -20.5 .5 -16 .5 -12.2 .5 -9.4 .5 -6.9 .5 -4.9 .5 -3.1 .5 -1.4 .5 .2 .5 1.9 .5 3.5 .5 5.5 .5 7.5 .5 10.1 .5 13.2 .5 17.2 .5 21.6 .5 3.5 .5 0 .5 0 .5 0 .5 -7.8 .5 -11 .5 -9 .5 -7.2 .5 -5.4 .5 -3.7 .5 -2.2 .5 -32.8 .5 .9 .5 2.5 .5 4.2 .5 6.1 .5 8.4 .5 10.9 .5 14.3 .5 18.1 .5 13.7 .5 0 .5 0 .5 0 .5 -17.8 .5 -15.8 .5 -12.5 .5 -9.6 .5 -7.3 .5 -5.2 .5 -3.5 .5 -1.8 .5 -.1 .5 1.4 .5 3 .5 4.9 .5 6.7 .5 9.1 .5 11.8 .5 15 .5 18.5 .5 3.2 .5 0 .5 0 .5 0 .5 -15.1 .5 -13.4 .5 -10.8 .5 -8.4 .5 -6.3 .5 -4.4 .5 -2.8 .5 -1.2 .5 .3 .5 2 .5 3.5 .5 5.3 .5 7.2 .5 9.4 .5 12 .5 14.7 .5 8 .5 0 .5 0 .5 0 .5 -3.7 .5 -14.9 .5 -12.4 .5 -9.9 .5 -7.6 .5 -5.6 .5 -3.9 .5 -2.2 .5 -.7 .5 .8 .5 2.4 .5 4.1 .5 5.8 .5 7.8 .5 10.1 .5 12.6 .5 -3.4 .5 -83.2 .5 -62.1 .5 -32.8 .5 -15.9 .5 -7.2 .5 -2.8 .5 -1.1 .5 -.3 .5 0 .5 0 .5 0 .5 0 .5 0 .5 0 .5 0 .5 0 .5 0 .5 .2 .5 .7 .5 2.2 .5 5.5 .5 12.8 .5 26.9 .5 52 .5 75.5 .5 5 .5 -16.7 .5 -12.7 .5 -9.5 .5 -7.1 .5 -4.9 .5 -3.2 .5 -1.4 .5 .2 .5 1.9 .5 3.6 .5 5.5 .5 7.6 .5 10.3 .5 13.7 .5 18.2 .5 24.3 .5 15.5 .5 0 .5 -29.3 .5 -35.6 .5 -23.6 .5 -16.8 .5 -12.4 .5 -9.1 .5 -6.7 .5 -4.6 .5 -2.7 .5 -1 .5 .6 .5 2.4 .5 4.1 .5 6.2 .5 8.6 .5 11.5 .5 15.7 .5 21.8 .5 32.3 .5 38.6 .5 0 .5 -11.8 .5 -26.6 .5 -19.7 .5 -14.7 .5 -11.1 .5 -8.2 .5 -6 .5 -4.1 .5 -2.2 .5 -.6 .5 1 .5 2.7 .5 4.5 .5 6.5 .5 8.9 .5 11.9 .5 15.8 .5 21.3 .5 28.4 .5 4 .5 0 .5 0 .5 0 .5 0 .5 0 .5 -5.4 .5 -4.7 .5 -3.7 .5 -2.5 .5 -1.3 .5 -121 .5 1.4 .5 3.2 .5 5 .5 7.1 .5 9.8 .5 13.2 .5 17.9 .5 25.4 .5 38.4 .5 17.2 .5 -1.8 .5 -35.7 .5 -25.2 .5 -18.1 .5 -13.3 .5 -10 .5 -7.3 .5 -5.2 .5 -3.3 .5 -1.6 .5 0 .5 1.7 .5 3.5 .5 5.3 .5 7.6 .5 10.2 .5 13.6 .5 18.5 .5 25.9 .5 35.2 .5 0 .5 0 .5 -2.8 .5 -16.6 .5 -13.8 .5 -10.9 .5 -8.5 .5 -6.3 .5 -4.5 .5 -2.8 .5 -1.2 .5 .3 .5 1.9 .5 3.5 .5 5.2 .5 7.2 .5 9.5 .5 12 .5 15 .5 12.8 .5 0 .5 0 .5 0 .5 -10.5 .5 -17.4 .5 -13.9 .5 -10.8 .5 -8.3 .5 -6.2 .5 -4.3 .5 -2.5 .5 -1 .5 .5 .5 2.2 .5 3.8 .5 5.6 .5 7.7 .5 10.1 .5 13 .5 13.3 .5 -54.5 .5 -74.6 .5 -41.7 .5 -20.8 .5 -9.7 .5 -4 .5 -1.5 .5 -.5 .5 -.1 .5 0 .5 0 .5 0 .5 0 .5 0 .5 0 .5 0 .5 0 .5 .1 .5 .5 .5 1.5 .5 4 .5 9.5 .5 20.8 .5 41.5 .5 72.8 .5 39.5 .5 -17 .5 -14.3 .5 -10.9 .5 -8.1 .5 -5.9 .5 -4 .5 -2.3 .5 -.6 .5 1 .5 2.6 .5 4.4 .5 6.3 .5 8.6 .5 11.5 .5 15.2 .5 20.1 .5 26.3 .5 3 .5 -1.4 .5 -48.6 .5 -30.5 .5 -20.8 .5 -15 .5 -11.1 .5 -8.2 .5 -5.9 .5 -4 .5 -2.2 .5 -.5 .5 1.2 .5 2.8 .5 4.7 .5 6.7 .5 9.2 .5 12.5 .5 16.9 .5 23.8 .5 36.2 .5 34.2 .5 0 .5 -34.3 .5 -27.7 .5 -19.6 .5 -14.3 .5 -10.8 .5 -7.9 .5 -5.7 .5 -3.8 .5 -2 .5 -.4 .5 1.2 .5 2.9 .5 4.8 .5 6.8 .5 9.3 .5 12.4 .5 16.7 .5 23.3 .5 33.5 .5 15.6 .5 0 .5 0 .5 0 .5 -.3 .5 -8.1 .5 -6.9 .5 -5.6 .5 -4.2 .5 -2.8 .5 -1.5 .5 -76.7 .5 1.3 .5 2.9 .5 4.8 .5 6.7 .5 9.2 .5 12.2 .5 16.2 .5 21.9 .5 29.1 .5 1.8 .5 -11.4 .5 -45.3 .5 -28.6 .5 -19.6 .5 -14.3 .5 -10.6 .5 -7.8 .5 -5.6 .5 -3.7 .5 -1.9 .5 -.3 .5 1.4 .5 3 .5 4.9 .5 7 .5 9.6 .5 12.8 .5 17.5 .5 24.7 .5 38.2 .5 30 .5 0 .5 -.3 .5 -18.6 .5 -15.3 .5 -12.1 .5 -9.4 .5 -7.2 .5 -5.1 .5 -3.4 .5 -1.9 .5 -.2 .5 1.2 .5 2.9 .5 4.5 .5 6.5 .5 8.5 .5 11.1 .5 14.2 .5 17.5 .5 7.1 .5 0 .5 0 .5 -9.5 .5 -21.7 .5 -16.9 .5 -13 .5 -9.9 .5 -7.4 .5 -5.3 .5 -3.6 .5 -1.9 .5 -.3 .5 1.3 .5 2.9 .5 4.6 .5 6.6 .5 8.9 .5 11.6 .5 15.2 .5 10.4 .5 -69 .5 -64.9 .5 -34.8 .5 -17.1 .5 -7.7 .5 -3.1 .5 -1.1 .5 -.3 .5 -.1 .5 0 .5 0 .5 0 .5 0 .5 0 .5 0 .5 0 .5 0 .5 .2 .5 .6 .5 2 .5 5.1 .5 11.9 .5 25.3 .5 49.5 .5 84.5 .5 40.6 .5 -12.3 .5 -11.1 .5 -8.9 .5 -6.9 .5 -5.1 .5 -3.4 .5 -1.9 .5 -.4 .5 1 .5 2.5 .5 4.1 .5 5.7 .5 7.7 .5 9.7 .5 12.1 .5 13.6 .5 0 .5 0 .5 0 .5 -19 .5 -26.1 .5 -19.2 .5 -14.2 .5 -10.8 .5 -8 .5 -5.9 .5 -3.9 .5 -2.2 .5 -.6 .5 1 .5 2.6 .5 4.3 .5 6.3 .5 8.6 .5 11.5 .5 15.2 .5 20.6 .5 28 .5 11.8 .5 0 .5 -47.1 .5 -31.8 .5 -21.4 .5 -15.4 .5 -11.5 .5 -8.5 .5 -6.2 .5 -4.2 .5 -2.4 .5 -.8 .5 .8 .5 2.5 .5 4.2 .5 6.2 .5 8.6 .5 11.5 .5 15.5 .5 21.5 .5 32 .5 46.5 .5 0 .5 0 .5 0 .5 0 .5 0 .5 -3.8 .5 -5.2 .5 -4.1 .5 -2.9 .5 -1.9 .5 -.7 .5 -67.9 .5 2.1 .5 3.9 .5 5.6 .5 7.7 .5 10.2 .5 13.3 .5 17.2 .5 21.8 .5 4.7 .5 0 .5 -27.8 .5 -34.3 .5 -23.1 .5 -16.6 .5 -12.3 .5 -9.2 .5 -6.7 .5 -4.7 .5 -2.9 .5 -1.2 .5 .4 .5 2 .5 3.7 .5 5.5 .5 7.8 .5 10.5 .5 14 .5 19.2 .5 27.5 .5 41.5 .5 6.7 .5 0 .5 0 .5 -3.6 .5 -11.1 .5 -9.3 .5 -7.5 .5 -5.8 .5 -4.2 .5 -2.7 .5 -1.3 .5 .1 .5 1.4 .5 2.9 .5 4.4 .5 6 .5 7.7 .5 9.5 .5 11.2 .5 2.3 .5 0 .5 0 .5 0 .5 0 .5 -6.4 .5 -12.5 .5 -10.3 .5 -8.3 .5 -6.4 .5 -4.6 .5 -3.1 .5 -1.7 .5 -.2 .5 1.3 .5 2.7 .5 4.2 .5 5.9 .5 7.7 .5 9.8 .5 11.9 .5 3.5 .5 -79.6 .5 -70 .5 -37.7 .5 -18.6 .5 -8.5 .5 -3.5 .5 -1.2 .5 -.4 .5 -.1 .5 0 .5 0 .5 0 .5 0 .5 0 .5 0 .5 0 .5 0 .5 .1 .5 .6 .5 1.8 .5 4.6 .5 10.8 .5 23.2 .5 45.9 .5 77.7 .5 29.2 .5 -18 .5 -14.3 .5 -10.9 .5 -8.3 .5 -6.1 .5 -4.2 .5 -2.5 .5 -.9 .5 .6 .5 2.2 .5 3.9 .5 5.7 .5 7.9 .5 10.4 .5 13.6 .5 18 .5 23.5 .5 11.6 .5 0 .5 -6.2 .5 -28.9 .5 -21.4 .5 -15.9 .5 -12 .5 -9.1 .5 -6.6 .5 -4.8 .5 -2.9 .5 -1.3 .5 .2 .5 1.8 .5 3.5 .5 5.2 .5 7.4 .5 9.8 .5 13 .5 17.3 .5 23.5 .5 27.4 .5 0 .5 -23.3 .5 -41.5 .5 -26.5 .5 -18.5 .5 -13.5 .5 -10.1 .5 -7.5 .5 -5.3 .5 -3.5 .5 -1.8 .5 -.3 .5 1.4 .5 3.1 .5 4.8 .5 6.9 .5 9.3 .5 12.5 .5 17 .5 23.8 .5 36.4 .5 36.6 .5 0 .5 0 .5 0 .5 0 .5 -2.5 .5 -6.4 .5 -5.3 .5 -4 .5 -2.9 .5 -1.7 .5 -70.6 .5 .9 .5 2.4 .5 4.1 .5 5.9 .5 8.1 .5 10.7 .5 13.9 .5 18.2 .5 23.4 .5 5.8 .5 0 .5 0 .5 -22.3 .5 -18.8 .5 -14.4 .5 -11.2 .5 -8.5 .5 -6.2 .5 -4.5 .5 -2.7 .5 -1.2 .5 .4 .5 1.9 .5 3.5 .5 5.3 .5 7.3 .5 9.6 .5 12.6 .5 16.4 .5 21.1 .5 11.7 .5 0 .5 0 .5 0 .5 0 .5 -6.5 .5 -8.5 .5 -7.1 .5 -5.5 .5 -4.2 .5 -2.7 .5 -1.5 .5 -.1 .5 1.1 .5 2.5 .5 3.8 .5 5.3 .5 6.7 .5 8.1 .5 8.6 .5 0 .5 0 .5 0 .5 0 .5 0 .5 0 .5 -10.1 .5 -10.1 .5 -8.3 .5 -6.6 .5 -5 .5 -3.5 .5 -2 .5 -.7 .5 .7 .5 2.1 .5 3.5 .5 5.1 .5 6.6 .5 8.4 .5 10.2 .5 9.7 .5 -36.1 .5 -88.3 .5 -52.8 .5 -27.2 .5 -12.9 .5 -5.6 .5 -2.2 .5 -.8 .5 -.2 .5 0 .5 0 .5 0 .5 0 .5 0 .5 0 .5 0 .5 0 .5 0 .5 .3 .5 1 .5 2.8 .5 7.1 .5 15.7 .5 32.5 .5 61.6 .5 81.6 .5 -1.2 .5 -15.6 .5 -12.2 .5 -9.5 .5 -7.1 .5 -5.3 .5 -3.5 .5 -1.9 .5 -.5 .5 1.1 .5 2.6 .5 4.2 .5 6 .5 8.1 .5 10.6 .5 13.5 .5 17.2 .5 17 .5 0 .5 0 .5 -30.7 .5 -31.1 .5 -21.5 .5 -15.6 .5 -11.6 .5 -8.7 .5 -6.5 .5 -4.4 .5 -2.8 .5 -1.1 .5 .4 .5 2 .5 3.7 .5 5.5 .5 7.6 .5 10.2 .5 13.6 .5 18.5 .5 26.1 .5 38.4 .5 8 .5 -6.6 .5 -34.9 .5 -24.5 .5 -17.7 .5 -13.1 .5 -9.9 .5 -7.4 .5 -5.3 .5 -3.5 .5 -1.8 .5 -.3 .5 1.2 .5 2.9 .5 4.6 .5 6.6 .5 8.8 .5 11.8 .5 15.8 .5 21.6 .5 30.6 .5 21.1 .5 0 .5 0 .5 -16.3 .5 -16.5 .5 -13.2 .5 -10.3 .5 -7.8 .5 -5.9 .5 -4.1 .5 -2.5 .5 -1 .5 -10.7 .5 2 .5 3.6 .5 5.4 .5 7.3 .5 9.7 .5 12.7 .5 16.3 .5 20.9 .5 10.4 .5 0 .5 0 .5 -25.1 .5 -22.2 .5 -16.6 .5 -12.5 .5 -9.6 .5 -7.2 .5 -5.1 .5 -3.4 .5 -1.8 .5 -.3 .5 1.3 .5 2.8 .5 4.6 .5 6.4 .5 8.7 .5 11.4 .5 15 .5 20 .5 26.5 .5 7.1 .5 0 .5 0 .5 -4.6 .5 -14.1 .5 -11.8 .5 -9.5 .5 -7.5 .5 -5.6 .5 -3.9 .5 -2.5 .5 -.9 .5 .4 .5 1.8 .5 3.4 .5 4.9 .5 6.7 .5 8.6 .5 10.9 .5 13.2 .5 10.5 .5 0 .5 0 .5 0 .5 0 .5 0 .5 -1.1 .5 -7.7 .5 -6.6 .5 -5.3 .5 -4 .5 -2.7 .5 -1.5 .5 -.3 .5 .9 .5 2.1 .5 3.4 .5 4.6 .5 5.9 .5 7.2 .5 5.1 .5 0 .5 -40.3 .5 -87.9 .5 -51.1 .5 -26.1 .5 -12.4 .5 -5.3 .5 -2.1 .5 -.7 .5 -.2 .5 0 .5 0 .5 0 .5 0 .5 0 .5 0 .5 0 .5 0 .5 0 .5 .4 .5 1 .5 3 .5 7.4 .5 16.4 .5 33.7 .5 63.6 .5 77.9 .5 -6.9 .5 -16.3 .5 -12.7 .5 -9.8 .5 -7.4 .5 -5.4 .5 -3.7 .5 -2.2 .5 -.6 .5 .9 .5 2.4 .5 4 .5 5.7 .5 7.8 .5 10.3 .5 13.2 .5 17.1 .5 21.5 .5 4.8 .5 0 .5 0 .5 -12.2 .5 -18 .5 -14.3 .5 -11.1 .5 -8.7 .5 -6.5 .5 -4.7 .5 -3 .5 -1.5 .5 -.1 .5 1.5 .5 2.9 .5 4.6 .5 6.4 .5 8.5 .5 11 .5 14 .5 17.7 .5 13.5 .5 0 .5 0 .5 -26.6 .5 -27.8 .5 -19.9 .5 -14.7 .5 -11 .5 -8.4 .5 -6.1 .5 -4.3 .5 -2.5 .5 -1.1 .5 .5 .5 2.1 .5 3.7 .5 5.4 .5 7.6 .5 10 .5 13.3 .5 17.9 .5 24.6 .5 34.6 .5 2.7 .5 0 .5 0 .5 -5.5 .5 -12.1 .5 -10.2 .5 -8.2 .5 -6.4 .5 -4.8 .5 -3.2 .5 -1.8 .5 -57.1 .5 1 .5 2.6 .5 4.2 .5 6 .5 8.2 .5 10.9 .5 14.3 .5 19 .5 25.7 .5 17.4 .5 0 .5 -45 .5 -36.4 .5 -23.7 .5 -16.8 .5 -12.5 .5 -9.3 .5 -7 .5 -4.9 .5 -3.2 .5 -1.5 .5 -.1 .5 1.6 .5 3.1 .5 4.8 .5 6.9 .5 9.3 .5 12.3 .5 16.7 .5 23.4 .5 35.7 .5 46.6 .5 0 .5 0 .5 0 .5 -3.4 .5 -9.3 .5 -7.9 .5 -6.3 .5 -5 .5 -3.5 .5 -2.2 .5 -.9 .5 .4 .5 1.6 .5 2.9 .5 4.3 .5 5.7 .5 7.2 .5 8.7 .5 7.7 .5 0 .5 0 .5 0 .5 0 .5 0 .5 0 .5 -10 .5 -9.5 .5 -7.8 .5 -6.2 .5 -4.7 .5 -3.3 .5 -1.9 .5 -.6 .5 .7 .5 2.1 .5 3.3 .5 4.9 .5 6.3 .5 8 .5 9.7 .5 9 .5 -8 .5 -90.8 .5 -64.5 .5 -34.1 .5 -16.7 .5 -7.5 .5 -3 .5 -1.1 .5 -.4 .5 0 .5 0 .5 0 .5 0 .5 0 .5 0 .5 0 .5 0 .5 0 .5 .2 .5 .7 .5 2 .5 5.3 .5 12.2 .5 25.8 .5 50.4 .5 80.7 .5 13.8 .5 -20 .5 -15.2 .5 -11.6 .5 -8.9 .5 -6.5 .5 -4.7 .5 -3.1 .5 -1.4 .5 0 .5 1.5 .5 3.1 .5 4.8 .5 6.6 .5 9 .5 11.7 .5 15.4 .5 20.5 .5 27.3 .5 6.5 .5 0 .5 -22.5 .5 -27.5 .5 -19.9 .5 -14.7 .5 -11.2 .5 -8.4 .5 -6.2 .5 -4.4 .5 -2.7 .5 -1.2 .5 .4 .5 1.8 .5 3.4 .5 5.2 .5 7.1 .5 9.6 .5 12.6 .5 16.7 .5 22.9 .5 31.6 .5 7.4 .5 0 .5 -19.2 .5 -24.2 .5 -18.1 .5 -13.6 .5 -10.4 .5 -7.9 .5 -5.8 .5 -4 .5 -2.4 .5 -.9 .5 .6 .5 2.1 .5 3.7 .5 5.4 .5 7.4 .5 9.9 .5 12.9 .5 17 .5 22.8 .5 24.7 .5 0 .5 0 .5 0 .5 0 .5 0 .5 0 .5 -4.8 .5 -4.6 .5 -3.6 .5 -2.5 .5 -1.5 .5 -70.9 .5 .8 .5 2.3 .5 3.9 .5 5.6 .5 7.5 .5 9.9 .5 12.7 .5 16.4 .5 20.8 .5 8 .5 0 .5 -12.5 .5 -35 .5 -24.2 .5 -17.4 .5 -13 .5 -9.8 .5 -7.4 .5 -5.3 .5 -3.6 .5 -1.9 .5 -.5 .5 1 .5 2.6 .5 4.2 .5 6.1 .5 8.2 .5 10.9 .5 14.5 .5 19.6 .5 27.6 .5 35.9 .5 0 .5 0 .5 0 .5 -11.8 .5 -12.3 .5 -10 .5 -8 .5 -6.2 .5 -4.6 .5 -3 .5 -1.6 .5 -.3 .5 1.1 .5 2.4 .5 4 .5 5.5 .5 7.2 .5 9.2 .5 11.4 .5 13.4 .5 3.6 .5 0 .5 0 .5 0 .5 -10.9 .5 -17.2 .5 -13.8 .5 -10.9 .5 -8.5 .5 -6.4 .5 -4.7 .5 -3.1 .5 -1.5 .5 -.2 .5 1.3 .5 2.7 .5 4.3 .5 6 .5 8 .5 10.3 .5 13.1 .5 16.2 .5 -8.9 .5 -87.3 .5 -58.8 .5 -30.6 .5 -14.8 .5 -6.6 .5 -2.6 .5 -.9 .5 -.3 .5 0 .5 0 .5 0 .5 0 .5 0 .5 0 .5 0 .5 0 .5 0 .5 .2 .5 .9 .5 2.3 .5 6.1 .5 13.8 .5 28.8 .5 55.5 .5 78.1 .5 -4.1 .5 -20.5 .5 -15.4 .5 -11.6 .5 -8.8 .5 -6.6 .5 -4.7 .5 -3 .5 -1.5 .5 0 .5 1.4 .5 3 .5 4.7 .5 6.6 .5 8.7 .5 11.6 .5 15.2 .5 20.6 .5 28.3 .5 16.5 .5 0 .5 -6.2 .5 -25 .5 -19.3 .5 -14.6 .5 -11.2 .5 -8.6 .5 -6.4 .5 -4.6 .5 -3 .5 -1.4 .5 0 .5 1.5 .5 3 .5 4.6 .5 6.4 .5 8.7 .5 11.2 .5 14.7 .5 19.3 .5 25.1 .5 5.8 .5 0 .5 -32.3 .5 -31.1 .5 -21.4 .5 -15.7 .5 -11.8 .5 -8.8 .5 -6.6 .5 -4.7 .5 -3.1 .5 -1.5 .5 .1 .5 1.4 .5 3.1 .5 4.7 .5 6.6 .5 8.9 .5 11.8 .5 15.7 .5 21.5 .5 31.2 .5 32 .5 0 .5 0 .5 -3.7 .5 -14.4 .5 -12.1 .5 -9.9 .5 -7.7 .5 -5.9 .5 -4.3 .5 -2.8 .5 -1.4 .5 -71.3 .5 1.4 .5 3 .5 4.7 .5 6.5 .5 8.8 .5 11.6 .5 15.4 .5 21.1 .5 30.3 .5 30.7 .5 0 .5 -19.2 .5 -29.6 .5 -21.2" stroke="#9467bd"/><path d="M147.0 582.8l.5 -7.1 .5 -5.2 .5 -3.6 .5 -1.9 .5 -.4 .5 1.1 .5 2.7 .5 4.3 .5 6.1 .5 8 .5 10.2 .5 12.3 .5 6.6 .5 0 .5 0 .5 0 .5 -9 .5 -19.4 .5 -15.2 .5 -11.8 .5 -9 .5 -6.6 .5 -4.7 .5 -2.8 .5 -1.1 .5 .5 .5 2.1 .5 3.9 .5 5.9 .5 8 .5 10.6 .5 13.8 .5 5.1 .5 -71.9 .5 -61.3 .5 -32.6 .5 -15.9 .5 -7.1 .5 -2.9 .5 -1 .5 -.3 .5 -.1 .5 0 .5 0 .5 0 .5 0 .5 0 .5 0 .5 0 .5 .1 .5 .2 .5 .7 .5 2.2 .5 5.6 .5 12.8 .5 26.9 .5 52.5 .5 88.1 .5 33.7 .5 0 .5 -4.9 .5 -5.7 .5 -4.5 .5 -3.2 .5 -2 .5 -.8 .5 .5 .5 1.7 .5 3 .5 4.2 .5 5.5 .5 6.2 .5 0 .5 0 .5 0 .5 0 .5 0 .5 -4.6 .5 -22.3 .5 -17.4 .5 -13.4 .5 -10.2 .5 -7.6 .5 -5.4 .5 -3.6 .5 -1.8 .5 -.2 .5 1.5 .5 3.2 .5 5 .5 7.2 .5 9.6 .5 12.7 .5 16.5 .5 21.3 .5 9.5 .5 0 .5 0 .5 -16.9 .5 -20 .5 -15.4 .5 -11.7 .5 -8.8 .5 -6.5 .5 -4.5 .5 -2.7 .5 -1 .5 .6 .5 2.3 .5 4.1 .5 6 .5 8.3 .5 11 .5 14.5 .5 18.9 .5 21.8 .5 0 .5 0 .5 0 .5 0 .5 -4.3 .5 -9.3 .5 -7.7 .5 -6.2 .5 -4.5 .5 -3.1 .5 -1.6 .5 -59.2 .5 1.4 .5 3.1 .5 5.1 .5 7.1 .5 9.6 .5 12.8 .5 17 .5 22.4 .5 17.4 .5 0 .5 -20.5 .5 -38.4 .5 -25.2 .5 -17.8 .5 -13 .5 -9.6 .5 -7 .5 -4.8 .5 -3 .5 -1.1 .5 .5 .5 2.2 .5 4.1 .5 6.1 .5 8.5 .5 11.6 .5 15.6 .5 21.9 .5 32.3 .5 37.6 .5 0 .5 0 .5 -11.4 .5 -15.9 .5 -12.8 .5 -9.9 .5 -7.6 .5 -5.5 .5 -3.7 .5 -2 .5 -.4 .5 1.1 .5 2.8 .5 4.5 .5 6.5 .5 8.6 .5 11.2 .5 14.1 .5 17.3 .5 3.1 .5 0 .5 0 .5 -2.1 .5 -18 .5 -14.8 .5 -11.7 .5 -9 .5 -6.7 .5 -4.8 .5 -3 .5 -1.4 .5 .3 .5 1.8 .5 3.5 .5 5.2 .5 7.4 .5 9.6 .5 12.5 .5 12.4 .5 -54.2 .5 -73.2 .5 -40.8 .5 -20.4 .5 -9.4 .5 -3.9 .5 -1.5 .5 -.4 .5 -.1 .5 -.1 .5 0 .5 0 .5 0 .5 0 .5 0 .5 0 .5 .1 .5 .1 .5 .5 .5 1.5 .5 4.1 .5 9.8 .5 21.2 .5 42.4 .5 76.8 .5 66.3 .5 0 .5 -7.7 .5 -6.9 .5 -5.6 .5 -4.1 .5 -2.8 .5 -1.5 .5 -.1 .5 1.1 .5 2.5 .5 3.9 .5 5.2 .5 6.6 .5 7.9 .5 1.5 .5 0 .5 0 .5 0 .5 0 .5 -8.8 .5 -18.9 .5 -15.1 .5 -11.6 .5 -8.9 .5 -6.6 .5 -4.7 .5 -2.9 .5 -1.2 .5 .4 .5 1.9 .5 3.7 .5 5.5 .5 7.7 .5 10.1 .5 13.1 .5 16.8 .5 19.5 .5 0 .5 0 .5 0 .5 -10.8 .5 -16.6 .5 -13.4 .5 -10.4 .5 -7.9 .5 -5.9 .5 -4 .5 -2.3 .5 -.7 .5 .9 .5 2.4 .5 4.2 .5 6.1 .5 8.2 .5 10.6 .5 13.7 .5 17 .5 8.9 .5 0 .5 0 .5 0 .5 -19.3 .5 -16.2 .5 -12.6 .5 -9.7 .5 -7.4 .5 -5.3 .5 -3.5 .5 -1.8 .5 27.6 .5 1.2 .5 2.8 .5 4.3 .5 6 .5 7.9 .5 9.8 .5 11.8 .5 4.4 .5 0 .5 0 .5 0 .5 -23.2 .5 -22.7 .5 -16.9 .5 -12.7 .5 -9.6 .5 -7.1 .5 -4.9 .5 -3.2 .5 -1.4 .5 .2 .5 1.9 .5 3.6 .5 5.5 .5 7.7 .5 10.3 .5 13.7 .5 18.2 .5 24.4 .5 16.2 .5 0 .5 0 .5 0 .5 0 .5 0 .5 0 .5 -3.9 .5 -3.9 .5 -2.8 .5 -1.8 .5 -.6 .5 .4 .5 1.5 .5 2.6 .5 3.6 .5 4.7 .5 .2 .5 0 .5 0 .5 0 .5 0 .5 0 .5 0 .5 0 .5 0 .5 -.4 .5 -6.4 .5 -5.3 .5 -4.1 .5 -2.9 .5 -1.6 .5 -.5 .5 .8 .5 1.9 .5 3.2 .5 4.4 .5 5.6 .5 5.3 .5 0 .5 -8.6 .5 -91 .5 -62.6 .5 -33 .5 -16.1 .5 -7.2 .5 -2.9 .5 -1 .5 -.3 .5 -.1 .5 0 .5 0 .5 0 .5 0 .5 0 .5 0 .5 0 .5 .1 .5 .2 .5 .7 .5 2.1 .5 5.5 .5 12.7 .5 26.7 .5 52 .5 88.1 .5 34.7 .5 0 .5 -2.1 .5 -5.8 .5 -4.7 .5 -3.5 .5 -2.4 .5 -1.1 .5 .1 .5 1.2 .5 2.4 .5 3.6 .5 4.8 .5 5.8 .5 1.7 .5 0 .5 0 .5 0 .5 0 .5 -10.2 .5 -34.1 .5 -23.8 .5 -17.1 .5 -12.7 .5 -9.5 .5 -6.9 .5 -4.9 .5 -3 .5 -1.3 .5 .4 .5 2 .5 3.8 .5 5.7 .5 7.9 .5 10.7 .5 14.4 .5 19.5 .5 27.6 .5 31.5 .5 0 .5 0 .5 0 .5 -7.7 .5 -11.2 .5 -9.3 .5 -7.3 .5 -5.6 .5 -3.9 .5 -2.4 .5 -.9 .5 .5 .5 2 .5 3.5 .5 5.1 .5 6.8 .5 8.7 .5 10.7 .5 11 .5 0 .5 0 .5 0 .5 -8.7 .5 -27 .5 -20.1 .5 -15 .5 -11.4 .5 -8.4 .5 -6.2 .5 -4.3 .5 -2.4 .5 -.8 .5 77.3 .5 1.9 .5 3.2 .5 4.5 .5 5.9 .5 7.1 .5 4.4 .5 0 .5 0 .5 0 .5 0 .5 -28.1 .5 -29.6 .5 -20.7 .5 -15.1 .5 -11.3 .5 -8.3 .5 -6.1 .5 -4.1 .5 -2.3 .5 -.6 .5 1 .5 2.6 .5 4.5 .5 6.5 .5 8.9 .5 11.9 .5 16.1 .5 22.2 .5 31.9 .5 20.6 .5 0 .5 0 .5 0 .5 0 .5 -7.9 .5 -7.1 .5 -5.8 .5 -4.4 .5 -3 .5 -1.7 .5 -.4 .5 .9 .5 2.2 .5 3.6 .5 4.9 .5 6.3 .5 7.6 .5 4.8 .5 0 .5 0 .5 0 .5 0 .5 -9.5 .5 -22.8 .5 -17.5 .5 -13.4 .5 -10.2 .5 -7.7 .5 -5.5 .5 -3.7 .5 -2 .5 -.4 .5 1.2 .5 2.9 .5 4.6 .5 6.6 .5 8.8 .5 11.8 .5 15.3 .5 10.9 .5 -66.5 .5 -63.2 .5 -33.9 .5 -16.6 .5 -7.5 .5 -3 .5 -1.1 .5 -.3 .5 -.1 .5 0 .5 0 .5 0 .5 0 .5 0 .5 0 .5 0 .5 .1 .5 .2 .5 .6 .5 2.1 .5 5.3 .5 12.3 .5 25.9 .5 50.6 .5 87.3 .5 38.4 .5 0 .5 0 .5 -2.9 .5 -4.4 .5 -3.5 .5 -2.3 .5 -1.3 .5 -.2 .5 .9 .5 2 .5 3 .5 4.2 .5 4.5 .5 0 .5 0 .5 0 .5 0 .5 0 .5 0 .5 -10 .5 -21.7 .5 -16.8 .5 -13 .5 -9.8 .5 -7.4 .5 -5.4 .5 -3.5 .5 -1.8 .5 -.3 .5 1.3 .5 2.9 .5 4.7 .5 6.6 .5 9 .5 11.8 .5 15.3 .5 20 .5 18.1 .5 0 .5 0 .5 0 .5 -16.5 .5 -15.1 .5 -11.9 .5 -9.4 .5 -7 .5 -5.2 .5 -3.4 .5 -1.9 .5 -.2 .5 1.2 .5 2.8 .5 4.4 .5 6.3 .5 8.5 .5 10.8 .5 13.8 .5 16.9 .5 5.9 .5 0 .5 0 .5 0 .5 0 .5 -9.2 .5 -9.6 .5 -8 .5 -6.2 .5 -4.7 .5 -3.1 .5 -1.7 .5 22.2 .5 .9 .5 2 .5 3.3 .5 4.4 .5 5.5 .5 4.2 .5 0 .5 0 .5 0 .5 0 .5 0 .5 -21.5 .5 -25.5 .5 -18.8 .5 -14 .5 -10.5 .5 -7.8 .5 -5.7 .5 -3.8 .5 -2.1 .5 -.5 .5 1.2 .5 2.7 .5 4.5 .5 6.5 .5 8.9 .5 11.8 .5 15.7 .5 21.1 .5 28.9 .5 8.9 .5 0 .5 0 .5 -.7 .5 -12.5 .5 -10.7 .5 -8.7 .5 -6.8 .5 -5 .5 -3.5 .5 -2 .5 -.5 .5 .8 .5 2.4 .5 3.8 .5 5.5 .5 7.2 .5 9.1 .5 11.1 .5 10.5 .5 0 .5 0 .5 0 .5 0 .5 -14.9 .5 -16.3 .5 -13 .5 -10.1 .5 -7.8 .5 -5.7 .5 -3.9 .5 -2.3 .5 -.7 .5 .7 .5 2.4 .5 3.9 .5 5.8 .5 7.7 .5 10.2 .5 13 .5 14.8 .5 -43.5 .5 -78.1 .5 -44.9 .5 -22.6 .5 -10.6 .5 -4.5 .5 -1.6 .5 -.6 .5 -.1 .5 -.1 .5 0 .5 0 .5 0 .5 0 .5 0 .5 0 .5 .1 .5 .1 .5 .4 .5 1.3 .5 3.6 .5 8.7 .5 19.1 .5 38.6 .5 71.4 .5 79.5 .5 0 .5 -.3 .5 -6.9 .5 -5.8 .5 -4.5 .5 -3.4 .5 -2.1 .5 -.9 .5 .3 .5 1.4 .5 2.7 .5 3.9 .5 5.1 .5 6.3 .5 4.2 .5 0 .5 0 .5 0 .5 0 .5 -21.2 .5 -36.9 .5 -24.6 .5 -17.5 .5 -12.8 .5 -9.7 .5 -7 .5 -5.1 .5 -3.1 .5 -1.6 .5 .1 .5 1.7 .5 3.4 .5 5.3 .5 7.3 .5 10 .5 13.3 .5 18.1 .5 25.6 .5 38.7 .5 16 .5 0 .5 -3.1 .5 -18.2 .5 -14.9 .5 -11.8 .5 -9.1 .5 -6.9 .5 -5 .5 -3.3 .5 -1.7 .5 -.2 .5 1.3 .5 2.8 .5 4.5 .5 6.4 .5 8.5 .5 11 .5 14 .5 17.3 .5 8.4 .5 0 .5 0 .5 0 .5 -2.9 .5 -12.7 .5 -10.6 .5 -8.7 .5 -6.7 .5 -5 .5 -3.4 .5 -1.9 .5 9.5 .5 .9 .5 2.2 .5 3.7 .5 5.2 .5 6.8 .5 8.4 .5 10.2 .5 5 .5 0 .5 0 .5 0 .5 -10.6 .5 -26 .5 -19.5 .5 -14.6 .5 -11 .5 -8.4 .5 -6.1 .5 -4.2 .5 -2.5 .5 -1 .5 .7 .5 2.2 .5 3.9 .5 5.8 .5 7.9 .5 10.5 .5 13.9 .5 18.4 .5 24.7 .5 15.9 .5 0 .5 0 .5 0 .5 -11.7 .5 -12 .5 -9.8 .5 -7.7 .5 -5.9 .5 -4.2 .5 -2.7 .5 -1.2 .5 .2 .5 1.7 .5 3.1 .5 4.7 .5 6.4 .5 8.3 .5 10.5 .5 12.6 .5 7.7 .5 0 .5 0 .5 0 .5 -15.6 .5 -21.1 .5 -16.3 .5 -12.4 .5 -9.5 .5 -7.2 .5 -5.1 .5 -3.4 .5 -1.7 .5 -.2 .5 1.3 .5 2.9 .5 4.7 .5 6.6 .5 8.8 .5 11.5 .5 15.2 .5 16.3 .5 -51.4 .5 -71.7 .5 -39.8 .5 -19.8 .5 -9.1 .5 -3.8 .5 -1.4 .5 -.4 .5 -.1 .5 -.1 .5 0 .5 0 .5 0 .5 0 .5 0 .5 0 .5 .1 .5 .1 .5 .5 .5 1.6 .5 4.3 .5 10.1 .5 21.8 .5 43.5 .5 78.8 .5 62 .5 0 .5 0 .5 0 .5 -2.4 .5 -3.7 .5 -2.7 .5 -1.8 .5 -.8 .5 .3 .5 1.2 .5 2.3 .5 3.2 .5 4.1 .5 .3 .5 0 .5 0 .5 0 .5 0 .5 0 .5 0 .5 -10.5 .5 -19.4 .5 -15.4 .5 -11.9 .5 -9.2 .5 -6.9 .5 -5 .5 -3.2 .5 -1.7 .5 -.2 .5 1.4 .5 2.9 .5 4.6 .5 6.4 .5 8.6 .5 11.3 .5 14.5 .5 18.5 .5 15.2 .5 0 .5 0 .5 -10.2 .5 -23.3 .5 -17.9 .5 -13.7 .5 -10.4 .5 -7.9 .5 -5.8 .5 -3.9 .5 -2.3 .5 -.7 .5 .7 .5 2.4 .5 4 .5 5.8 .5 8 .5 10.5 .5 13.8 .5 18.1 .5 23.5 .5 9.3 .5 0 .5 0 .5 -.9 .5 -14.7 .5 -12.4 .5 -10 .5 -7.9 .5 -6 .5 -4.2 .5 -2.8 .5 -1.2 .5 20.5 .5 1.5 .5 2.8 .5 4.3 .5 5.7 .5 7.3 .5 8.8 .5 9.2 .5 0 .5 0 .5 0 .5 0 .5 -22 .5 -23.4 .5 -17.5 .5 -13.2 .5 -10 .5 -7.5 .5 -5.4 .5 -3.6 .5 -2 .5 -.5 .5 1.1 .5 2.7 .5 4.4 .5 6.2 .5 8.5 .5 11.2 .5 14.8 .5 19.7 .5 26.3 .5 10.2 .5 0 .5 0 .5 0 .5 -2.5 .5 -9.5 .5 -8.1 .5 -6.5 .5 -5.1 .5 -3.6 .5 -2.3 .5 -.9 .5 .3 .5 1.7 .5 3 .5 4.4 .5 5.8 .5 7.4 .5 8.9 .5 7 .5 0 .5 0 .5 0 .5 0 .5 0 .5 -6.1 .5 -12 .5 -10 .5 -8.1 .5 -6.3 .5 -4.6 .5 -3.1 .5 -1.6 .5 -.3 .5 1.2 .5 2.5 .5 4 .5 5.6 .5 7.4 .5 9.3 .5 11.3 .5 10.8 .5 -53.3 .5 -81.5 .5 -46.3 .5 -23.5 .5 -10.9 .5 -4.7 .5 -1.8 .5 -.6 .5 -.1 .5 -.1 .5 0 .5 0 .5 0 .5 0 .5 0 .5 0 .5 0 .5 .1 .5 .4 .5 1.3 .5 3.4 .5 8.4 .5 18.4 .5 37.3 .5 69.7 .5 83.8 .5 0 .5 0 .5 0 .5 0 .5 -1.2 .5 -2.9 .5 -1.9 .5 -1.1 .5 -.2 .5 .8 .5 1.7 .5 2.5 .5 2.3 .5 0 .5 0 .5 0 .5 0 .5 0 .5 0 .5 0 .5 -16.5 .5 -27 .5 -19.8 .5 -14.8 .5 -11.1 .5 -8.5 .5 -6.2 .5 -4.3 .5 -2.6 .5 -1.1 .5 .4 .5 2 .5 3.7 .5 5.4 .5 7.5 .5 10 .5 13.2 .5 17.5 .5 23.9 .5 28.3 .5 0 .5 0 .5 0 .5 -5.8 .5 -12.1 .5 -10 .5 -8.2 .5 -6.3 .5 -4.6 .5 -3.2 .5 -1.7 .5 -.4 .5 1.1 .5 2.4 .5 3.9 .5 5.5 .5 7.2 .5 9.1 .5 11.1 .5 12 .5 0 .5 0 .5 0 .5 0 .5 0 .5 -10.7 .5 -11.1 .5 -9.2 .5 -7.3 .5 -5.5 .5 -4 .5 -2.5 .5 -1.1 .5 31 .5 1.3 .5 2.4 .5 3.6 .5 4.6 .5 5.7 .5 2.8 .5 0 .5 0 .5 0 .5 0 .5 0 .5 -5.1 .5 -19.7 .5 -15.8 .5 -12.4 .5 -9.7 .5 -7.3 .5 -5.4 .5 -3.6 .5 -2.1 .5 -.7 .5 .9 .5 2.4 .5 3.9 .5 5.7 .5 7.7 .5 10.1 .5 12.9 .5 16.5 .5 20.2 .5 1.5 .5 0 .5 0 .5 -5.5 .5 -16.4 .5 -13.4 .5 -10.7 .5 -8.4 .5 -6.3 .5 -4.6 .5 -2.9 .5 -1.5 .5 -.1 .5 1.4 .5 2.9 .5 4.5 .5 6.2 .5 8.2 .5 10.6 .5 13.2 .5 16.2 .5 6.6 .5 0 .5 0 .5 0 .5 -1.8 .5 -12.9 .5 -11 .5 -9 .5 -7 .5 -5.4 .5 -3.8 .5 -2.3 .5 -.9 .5 .5 .5 1.8 .5 3.3 .5 4.8 .5 6.4 .5 8.3 .5 10.3 .5 12.3 .5 2.7 .5 -81 .5 -69.1 .5 -37.2 .5 -18.3 .5 -8.3 .5 -3.4 .5 -1.3 .5 -.4 .5 -.1 .5 0 .5 0 .5 0 .5 0 .5 0 .5 0 .5 0 .5 .1 .5 .1 .5 .6 .5 1.8 .5 4.7 .5 11 .5 23.6 .5 46.6 .5 82.6 .5 51.7 .5 0 .5 -3 .5 -7.4 .5 -6.1 .5 -4.9 .5 -3.7 .5 -2.4 .5 -1.2 .5 0 .5 1.2 .5 2.3 .5 3.6 .5 4.9 .5 6.1 .5 7.3 .5 3.3 .5 0 .5 0 .5 0 .5 0 .5 -8.1 .5 -23.7 .5 -18.3 .5 -13.9 .5 -10.7 .5 -8.2 .5 -6 .5 -4.3 .5 -2.6 .5 -1 .5 .4 .5 1.9 .5 3.5 .5 5.2 .5 7.1 .5 9.5 .5 12.4 .5 16.2 .5 21.2 .5 19.4 .5 0 .5 0 .5 0 .5 -17.6 .5 -14.8 .5 -11.8 .5 -9.3 .5 -7.1 .5 -5.2 .5 -3.7 .5 -2 .5 -.7 .5 .8 .5 2.2 .5 3.8 .5 5.4 .5 7.3 .5 9.5 .5 12.1 .5 15 .5 16.1 .5 0 .5 0 .5 0 .5 -14.1 .5 -19.3 .5 -15.2 .5 -11.7 .5 -9.1 .5 -6.8 .5 -5 .5 -3.3 .5 -1.8 .5 40.2 .5 1.1 .5 2.4 .5 3.7 .5 5.3 .5 6.9 .5 8.5 .5 10.3 .5 7.9 .5 0 .5 0 .5 0 .5 0 .5 -13.1 .5 -17.1 .5 -13.7 .5 -10.8 .5 -8.3 .5 -6.3 .5 -4.5 .5 -2.9 .5 -1.5 .5 .1 .5 1.4 .5 3 .5 4.6 .5 6.3 .5 8.5 .5 10.8 .5 13.8 .5 17.3 .5 12.4 .5 0 .5 0 .5 0 .5 0 .5 -11.9 .5 -10.8 .5 -8.8 .5 -7 .5 -5.4 .5 -3.8 .5 -2.4 .5 -1.1 .5 .3 .5 1.7 .5 3 .5 4.5 .5 6.1 .5 7.8 .5 9.6 .5 11.6 .5 6.6 .5 0 .5 0 .5 0 .5 0 .5 0 .5 -3.4 .5 -8.8 .5 -7.4 .5 -6 .5 -4.6 .5 -3.3 .5 -2 .5 -.7 .5 .5 .5 1.7 .5 3.1 .5 4.3 .5 5.7 .5 7.1 .5 8.6 .5 5.2 .5 0 .5 -74.3 .5 -73.6 .5 -40 .5 -19.9 .5 -9.2 .5 -3.8 .5 -1.4 .5 -.4 .5 -.1 .5 -.1 .5 0 .5 0 .5 0 .5 0 .5 0 .5 0 .5 .1 .5 .1 .5 .5 .5 1.6 .5 4.2 .5 10.1 .5 21.7 .5 43.3 .5 78.3 .5 62.9 .5 -3.8 .5 -11.3 .5 -9.5 .5 -7.8 .5 -6 .5 -4.6 .5 -3.1 .5 -1.7 .5 -.4 .5 .9 .5 2.2 .5 3.7 .5 5.1 .5 6.7 .5 8.4 .5 10.2 .5 11 .5 0 .5 0 .5 0 .5 0 .5 -13.6 .5 -18.6 .5 -14.7 .5 -11.4 .5 -8.9 .5 -6.7 .5 -4.9 .5 -3.2 .5 -1.8 .5 -.2 .5 1.1 .5 2.6 .5 4.2 .5 6 .5 7.9 .5 10.4 .5 13.3 .5 16.9 .5 20.8 .5 .8 .5 0 .5 0 .5 0 .5 0 .5 -7.1 .5 -7.9 .5 -6.6 .5 -5.2 .5 -3.9 .5 -2.6 .5 -1.3 .5 -.2 .5 1.1 .5 2.3 .5 3.6 .5 4.9 .5 6.3 .5 7.6 .5 8.9 .5 .1 .5 0 .5 0 .5 0 .5 0 .5 -.7 .5 -14 .5 -11.9 .5 -9.7 .5 -7.8 .5 -5.9 .5 -4.3 .5 -2.8 .5 -1.4 .5 37.9 .5 1 .5 2.1 .5 3.2 .5 4.3 .5 5.3 .5 4.7 .5 0 .5 0 .5 0 .5 0 .5 0 .5 -27.9 .5 -31.1 .5 -21.6 .5 -15.7 .5 -11.8 .5 -9 .5 -6.6 .5 -4.8 .5 -3 .5 -1.5 .5 0 .5 1.5 .5 3 .5 4.7 .5 6.6 .5 8.9 .5 11.8 .5 15.6 .5 21.4 .5 30.8 .5 28.7 .5 0 .5 0 .5 0 .5 0 .5 0 .5 -5.6 .5 -5.5 .5 -4.4 .5 -3.2 .5 -2.2 .5 -1.1 .5 0 .5 1.1 .5 2.2 .5 3.3 .5 4.4 .5 5.5 .5 5.5 .5 0 .5 0 .5 0 .5 0 .5 0 .5 -20.7 .5 -29 .5 -20.7 .5 -15.4 .5 -11.5 .5 -8.8 .5 -6.6 .5 -4.6 .5 -3 .5 -1.5 .5 0 .5 1.5 .5 3 .5 4.7 .5 6.5 .5 8.8 .5 11.7 .5 15.3 .5 20.8 .5 11.8 .5 -72.6 .5 -57.7 .5 -30.1 .5 -14.5 .5 -6.4 .5 -2.6 .5 -.9 .5 -.2 .5 -.1 .5 0 .5 0 .5 0 .5 0 .5 0 .5 0 .5 0 .5 .1 .5 .2 .5 .9 .5 2.4 .5 6.2 .5 14.1 .5 29.2 .5 56.5 .5 92.8 .5 20.4 .5 0" stroke="#8c564b"/><path d="M147.0 607.1l.5 -5.5 .5 -4.2 .5 -2.9 .5 -1.6 .5 -65.9 .5 1.3 .5 2.9 .5 4.8 .5 6.8 .5 9.3 .5 12.4 .5 16.1 .5 21.1 .5 14.2 .5 0 .5 0 .5 0 .5 -1.1 .5 -10.9 .5 -9.2 .5 -7.4 .5 -5.7 .5 -4.1 .5 -2.5 .5 -1 .5 .5 .5 1.9 .5 3.4 .5 5 .5 6.8 .5 8.5 .5 10.3 .5 5.5 .5 0 .5 0 .5 0 .5 0 .5 -7.2 .5 -14.6 .5 -11.9 .5 -9.4 .5 -7.2 .5 -5.2 .5 -3.4 .5 -1.8 .5 -.2 .5 1.3 .5 3 .5 4.7 .5 6.5 .5 8.8 .5 11.1 .5 13.8 .5 11.7 .5 0 .5 0 .5 0 .5 0 .5 0 .5 0 .5 -5.2 .5 -5.7 .5 -4.6 .5 -3.2 .5 -2 .5 -.8 .5 .5 .5 1.7 .5 3 .5 4.3 .5 5.4 .5 6.6 .5 0 .5 -15.7 .5 -92.5 .5 -60.7 .5 -31.8 .5 -15.4 .5 -6.8 .5 -2.8 .5 -.9 .5 -.3 .5 -.1 .5 0 .5 0 .5 0 .5 0 .5 0 .5 0 .5 0 .5 .1 .5 .2 .5 .7 .5 2.3 .5 5.8 .5 13.2 .5 27.8 .5 53.8 .5 88.2 .5 32.2 .5 -10.2 .5 -8.9 .5 -7.2 .5 -5.5 .5 -3.9 .5 -2.3 .5 -.9 .5 .6 .5 2 .5 3.5 .5 5.1 .5 6.8 .5 8.6 .5 10.3 .5 4.7 .5 0 .5 0 .5 0 .5 0 .5 -15.5 .5 -16 .5 -12.6 .5 -9.8 .5 -7.4 .5 -5.4 .5 -3.5 .5 -1.8 .5 -.2 .5 1.3 .5 3.1 .5 4.8 .5 6.8 .5 9 .5 11.8 .5 15 .5 18.3 .5 2.1 .5 0 .5 0 .5 -30.3 .5 -22.8 .5 -16.7 .5 -12.5 .5 -9.3 .5 -6.9 .5 -4.7 .5 -2.9 .5 -1.2 .5 .5 .5 2.3 .5 3.9 .5 6 .5 8.3 .5 11.2 .5 14.9 .5 20.1 .5 27.4 .5 12.7 .5 0 .5 0 .5 0 .5 -2.8 .5 -9.4 .5 -7.9 .5 -6.3 .5 -4.7 .5 -3.2 .5 -1.8 .5 -58.6 .5 1.2 .5 2.9 .5 4.8 .5 6.8 .5 9.2 .5 12.2 .5 16.2 .5 21.4 .5 20 .5 0 .5 0 .5 0 .5 0 .5 -10.6 .5 -9.4 .5 -7.5 .5 -5.9 .5 -4.2 .5 -2.7 .5 -1.2 .5 .2 .5 1.6 .5 3.1 .5 4.7 .5 6.3 .5 8 .5 9.8 .5 7.8 .5 0 .5 0 .5 0 .5 0 .5 0 .5 0 .5 -.5 .5 -6.8 .5 -5.6 .5 -4.4 .5 -3.1 .5 -1.8 .5 -.6 .5 .7 .5 1.9 .5 3.1 .5 4.5 .5 5.6 .5 6.8 .5 .2 .5 0 .5 0 .5 0 .5 0 .5 0 .5 0 .5 0 .5 -4.1 .5 -6.5 .5 -5.2 .5 -4 .5 -2.7 .5 -1.4 .5 -.1 .5 1.1 .5 2.4 .5 3.7 .5 4.9 .5 6.2 .5 5.7 .5 0 .5 -46.5 .5 -86 .5 -49.4 .5 -25.2 .5 -11.9 .5 -5.1 .5 -2 .5 -.7 .5 -.1 .5 -.1 .5 0 .5 0 .5 0 .5 0 .5 0 .5 0 .5 0 .5 .1 .5 .3 .5 1.2 .5 3.1 .5 7.7 .5 17.1 .5 34.8 .5 65.9 .5 92.6 .5 4.2 .5 0 .5 -2.1 .5 -4.9 .5 -3.9 .5 -2.8 .5 -1.7 .5 -.5 .5 .6 .5 1.8 .5 2.9 .5 4 .5 5.1 .5 1.5 .5 0 .5 0 .5 0 .5 0 .5 0 .5 -16.6 .5 -25 .5 -18.5 .5 -13.8 .5 -10.4 .5 -7.8 .5 -5.5 .5 -3.7 .5 -1.9 .5 -.2 .5 1.4 .5 3.1 .5 5 .5 7 .5 9.6 .5 12.7 .5 17 .5 22.8 .5 24.8 .5 0 .5 0 .5 -14.3 .5 -20.9 .5 -16.1 .5 -12.3 .5 -9.4 .5 -6.9 .5 -4.9 .5 -3.1 .5 -1.4 .5 .2 .5 1.9 .5 3.5 .5 5.4 .5 7.6 .5 10 .5 13.2 .5 17.3 .5 22.2 .5 8 .5 0 .5 0 .5 0 .5 -6.1 .5 -11 .5 -9.1 .5 -7.3 .5 -5.5 .5 -3.9 .5 -2.3 .5 -.9 .5 -36.7 .5 2.2 .5 4 .5 5.8 .5 8 .5 10.6 .5 13.8 .5 17.8 .5 20.6 .5 0 .5 0 .5 0 .5 0 .5 -2.7 .5 -9.5 .5 -7.9 .5 -6.3 .5 -4.8 .5 -3.3 .5 -1.9 .5 -.5 .5 .8 .5 2.3 .5 3.6 .5 5.2 .5 6.8 .5 8.3 .5 9.8 .5 .1 .5 0 .5 0 .5 0 .5 0 .5 0 .5 -7.6 .5 -9.6 .5 -7.9 .5 -6.1 .5 -4.6 .5 -3.1 .5 -1.6 .5 -.2 .5 1.1 .5 2.7 .5 4.1 .5 5.6 .5 7.4 .5 9 .5 10.6 .5 .2 .5 0 .5 0 .5 0 .5 0 .5 -3.6 .5 -11.9 .5 -10 .5 -8 .5 -6.1 .5 -4.5 .5 -2.9 .5 -1.4 .5 .1 .5 1.5 .5 3 .5 4.6 .5 6.3 .5 8.1 .5 10.1 .5 11 .5 -42.3 .5 -85.2 .5 -50 .5 -25.6 .5 -12.1 .5 -5.2 .5 -2 .5 -.7 .5 -.1 .5 -.1 .5 0 .5 0 .5 0 .5 0 .5 0 .5 0 .5 0 .5 .1 .5 .3 .5 1.1 .5 3.1 .5 7.6 .5 16.8 .5 34.4 .5 64.7 .5 77.6 .5 -4.1 .5 -13.6 .5 -10.7 .5 -8.2 .5 -6.1 .5 -4.3 .5 -2.5 .5 -1 .5 .6 .5 2.1 .5 3.8 .5 5.5 .5 7.7 .5 9.9 .5 12.8 .5 16 .5 13.4 .5 0 .5 0 .5 -6.8 .5 -26.3 .5 -19.8 .5 -14.9 .5 -11.3 .5 -8.4 .5 -6.2 .5 -4.2 .5 -2.5 .5 -.8 .5 .8 .5 2.5 .5 4.2 .5 6.1 .5 8.4 .5 11.2 .5 14.8 .5 19.8 .5 26.2 .5 7.2 .5 0 .5 -22.3 .5 -28.5 .5 -20.4 .5 -14.9 .5 -11.2 .5 -8.3 .5 -6 .5 -4.1 .5 -2.3 .5 -.6 .5 .9 .5 2.7 .5 4.4 .5 6.5 .5 8.8 .5 11.9 .5 15.9 .5 21.7 .5 30.6 .5 15.2 .5 0 .5 0 .5 0 .5 0 .5 -5.1 .5 -6.8 .5 -5.5 .5 -4.2 .5 -3 .5 -1.6 .5 -55.5 .5 1.1 .5 2.7 .5 4.4 .5 6.3 .5 8.6 .5 11.1 .5 14.5 .5 18.5 .5 14.5 .5 0 .5 0 .5 0 .5 0 .5 -10.3 .5 -10 .5 -8.2 .5 -6.4 .5 -4.8 .5 -3.2 .5 -1.8 .5 -.3 .5 1.1 .5 2.5 .5 4 .5 5.6 .5 7.3 .5 9.1 .5 10.9 .5 4.5 .5 0 .5 0 .5 0 .5 0 .5 -12.6 .5 -14.6 .5 -11.7 .5 -9.2 .5 -7.1 .5 -5.1 .5 -3.4 .5 -1.8 .5 -.3 .5 1.2 .5 2.8 .5 4.4 .5 6.2 .5 8.3 .5 10.7 .5 13.4 .5 16.2 .5 2.6 .5 0 .5 0 .5 0 .5 -1 .5 -11.8 .5 -10.1 .5 -8.2 .5 -6.3 .5 -4.7 .5 -3.2 .5 -1.6 .5 -.3 .5 1.2 .5 2.6 .5 4.1 .5 5.8 .5 7.5 .5 9.4 .5 11.2 .5 -8.6 .5 -88.4 .5 -63.2 .5 -33.4 .5 -16.3 .5 -7.3 .5 -2.9 .5 -1.1 .5 -.3 .5 -.1 .5 0 .5 0 .5 0 .5 0 .5 0 .5 0 .5 0 .5 .1 .5 .2 .5 .7 .5 2.1 .5 5.4 .5 12.5 .5 26.4 .5 51.4 .5 86.4 .5 36.5 .5 -12 .5 -10.7 .5 -8.5 .5 -6.6 .5 -4.8 .5 -3.3 .5 -1.7 .5 -.3 .5 1.2 .5 2.6 .5 4.2 .5 5.9 .5 7.8 .5 9.8 .5 11.9 .5 9.8 .5 0 .5 0 .5 0 .5 -24.9 .5 -25.5 .5 -18.6 .5 -13.8 .5 -10.4 .5 -7.8 .5 -5.5 .5 -3.7 .5 -2 .5 -.4 .5 1.2 .5 2.9 .5 4.7 .5 6.6 .5 9.1 .5 12.1 .5 16.1 .5 21.9 .5 30 .5 8 .5 0 .5 -6.1 .5 -21.6 .5 -17.1 .5 -13.1 .5 -10.1 .5 -7.6 .5 -5.5 .5 -3.7 .5 -2.1 .5 -.4 .5 1.1 .5 2.7 .5 4.4 .5 6.3 .5 8.5 .5 11.2 .5 14.6 .5 18.9 .5 19.6 .5 0 .5 0 .5 0 .5 0 .5 0 .5 -5.2 .5 -6.8 .5 -5.6 .5 -4.3 .5 -2.9 .5 -1.7 .5 -30.2 .5 .9 .5 2.4 .5 3.9 .5 5.6 .5 7.5 .5 9.5 .5 11.9 .5 13.9 .5 1.1 .5 0 .5 0 .5 0 .5 0 .5 -.8 .5 -8.9 .5 -7.6 .5 -6.1 .5 -4.7 .5 -3.3 .5 -2 .5 -.6 .5 .7 .5 1.9 .5 3.4 .5 4.7 .5 6.1 .5 7.7 .5 8.9 .5 .6 .5 0 .5 0 .5 0 .5 0 .5 0 .5 -11.1 .5 -11.2 .5 -9.1 .5 -7.2 .5 -5.5 .5 -3.8 .5 -2.4 .5 -.8 .5 .5 .5 2 .5 3.4 .5 5.1 .5 6.8 .5 8.7 .5 10.6 .5 12.6 .5 1.4 .5 0 .5 0 .5 0 .5 -3.9 .5 -15.6 .5 -13 .5 -10.3 .5 -8.1 .5 -6 .5 -4.3 .5 -2.6 .5 -1.2 .5 .4 .5 1.8 .5 3.4 .5 5.1 .5 6.9 .5 9 .5 11.5 .5 13.9 .5 -20.6 .5 -86.9 .5 -55 .5 -28.4 .5 -13.7 .5 -5.9 .5 -2.4 .5 -.8 .5 -.2 .5 -.1 .5 0 .5 0 .5 0 .5 0 .5 0 .5 0 .5 0 .5 .1 .5 .3 .5 .9 .5 2.6 .5 6.7 .5 14.9 .5 31 .5 59.3 .5 87.1 .5 10.5 .5 -13.7 .5 -11.1 .5 -8.8 .5 -6.6 .5 -4.9 .5 -3.2 .5 -1.7 .5 -.2 .5 1.3 .5 2.8 .5 4.4 .5 6.1 .5 8.2 .5 10.4 .5 13 .5 15.6 .5 2 .5 0 .5 0 .5 0 .5 -18 .5 -15.6 .5 -12.4 .5 -9.7 .5 -7.3 .5 -5.4 .5 -3.7 .5 -2 .5 -.5 .5 .9 .5 2.6 .5 4.1 .5 5.9 .5 8 .5 10.4 .5 13.3 .5 16.6 .5 12.8 .5 0 .5 0 .5 -10.7 .5 -26.1 .5 -19.4 .5 -14.7 .5 -11 .5 -8.4 .5 -6.1 .5 -4.2 .5 -2.6 .5 -.9 .5 .7 .5 2.2 .5 3.9 .5 5.7 .5 8 .5 10.5 .5 13.9 .5 18.4 .5 24.7 .5 16.1 .5 0 .5 0 .5 0 .5 0 .5 -9 .5 -8.2 .5 -6.8 .5 -5.2 .5 -3.8 .5 -2.5 .5 -1.1 .5 -58.9 .5 1.8 .5 3.4 .5 5.2 .5 7.2 .5 9.7 .5 12.6 .5 16.6 .5 21.7 .5 17.3 .5 0 .5 0 .5 0 .5 0 .5 -9.8 .5 -9.1 .5 -7.5 .5 -5.9 .5 -4.3 .5 -2.9 .5 -1.5 .5 -.2 .5 1.1 .5 2.6 .5 3.9 .5 5.5 .5 7 .5 8.7 .5 10.2 .5 2.2 .5 0 .5 0 .5 0 .5 0 .5 0 .5 -11.5 .5 -10.3 .5 -8.4 .5 -6.7 .5 -5 .5 -3.4 .5 -2 .5 -.6 .5 .8 .5 2.2 .5 3.6 .5 5.2 .5 6.8 .5 8.7 .5 10.5 .5 10.1 .5 0 .5 0 .5 0 .5 0 .5 0 .5 0 .5 0 .5 0 .5 0 .5 -1.7 .5 -2.5 .5 -1.6 .5 -.7 .5 .2 .5 1.1 .5 2.1 .5 2.9 .5 .2 .5 0 .5 0 .5 0 .5 -12 .5 -95.3 .5 -61.1 .5 -32 .5 -15.5 .5 -7 .5 -2.7 .5 -1 .5 -.3 .5 -.1 .5 0 .5 0 .5 0 .5 0 .5 0 .5 0 .5 0 .5 .1 .5 .2 .5 .7 .5 2.3 .5 5.7 .5 13.1 .5 27.6 .5 53.5 .5 87.9 .5 30 .5 -13.1 .5 -11.3 .5 -9.1 .5 -7 .5 -5.3 .5 -3.6 .5 -2.2 .5 -.6 .5 .7 .5 2.2 .5 3.7 .5 5.3 .5 7.1 .5 9.1 .5 11.4 .5 13.6 .5 5 .5 0 .5 0 .5 -35.3 .5 -35.2 .5 -23.4 .5 -16.7 .5 -12.3 .5 -9.2 .5 -6.8 .5 -4.8 .5 -3 .5 -1.4 .5 .2 .5 1.8 .5 3.4 .5 5.3 .5 7.3 .5 9.9 .5 13.3 .5 18.1 .5 25.6 .5 39.5 .5 23.7 .5 -3.9 .5 -37.5 .5 -26 .5 -18.5 .5 -13.7 .5 -10.3 .5 -7.6 .5 -5.6 .5 -3.7 .5 -2 .5 -.4 .5 1.1 .5 2.7 .5 4.4 .5 6.4 .5 8.7 .5 11.5 .5 15.5 .5 21.2 .5 30.3 .5 27.4 .5 0 .5 0 .5 0 .5 0 .5 0 .5 0 .5 0 .5 -2.6 .5 -2.5 .5 -1.6 .5 -.7 .5 -134.4 .5 2 .5 3.7 .5 5.5 .5 7.7 .5 10.2 .5 13.8 .5 18.6 .5 26.6 .5 40.5 .5 13.2 .5 0 .5 0 .5 0 .5 0 .5 -3.1 .5 -5.9 .5 -4.7 .5 -3.7 .5 -2.5 .5 -1.3 .5 -.2 .5 .9 .5 2.1 .5 3.2 .5 4.3 .5 5.5 .5 5.4 .5 0 .5 0 .5 0 .5 0 .5 0 .5 0 .5 -18.7 .5 -16.9 .5 -13.4 .5 -10.4 .5 -7.9 .5 -5.9 .5 -4.1 .5 -2.6 .5 -1 .5 .5 .5 2 .5 3.6 .5 5.3 .5 7.2 .5 9.5 .5 12.3 .5 15.7 .5 19.4 .5 5.4 .5 0 .5 0 .5 0 .5 -5.3 .5 -11.8 .5 -9.8 .5 -7.9 .5 -6.2 .5 -4.5 .5 -3 .5 -1.6 .5 -.3 .5 1.2 .5 2.5 .5 4 .5 5.6 .5 7.3 .5 9.1 .5 11.1 .5 9.6 .5 -53.8 .5 -83.2 .5 -47.3 .5 -24 .5 -11.2 .5 -4.8 .5 -1.9 .5 -.6 .5 -.1 .5 -.1 .5 0 .5 0 .5 0 .5 0 .5 0 .5 0 .5 0 .5 .1 .5 .4 .5 1.2 .5 3.3 .5 8.2 .5 18 .5 36.6 .5 68.3 .5 78.7 .5 -6.3 .5 -14.2 .5 -11.4 .5 -8.9 .5 -6.8 .5 -4.9 .5 -3.4 .5 -1.8 .5 -.3 .5 1 .5 2.6 .5 4.2 .5 5.8 .5 7.8 .5 10.1 .5 12.8 .5 15.7 .5 10.2 .5 0 .5 0 .5 -12.1 .5 -27.4 .5 -20.3 .5 -15.1 .5 -11.5 .5 -8.6 .5 -6.5 .5 -4.5 .5 -2.8 .5 -1.2 .5 .2 .5 1.8 .5 3.4 .5 5.2 .5 7.2 .5 9.6 .5 12.6 .5 16.8 .5 22.6 .5 30.1 .5 .5 .5 -21.9 .5 -45.8 .5 -28.2 .5 -19.5 .5 -14.2 .5 -10.6 .5 -7.9 .5 -5.7 .5 -3.9 .5 -2.2 .5 -.6 .5 .9 .5 2.5 .5 4.1 .5 6.1 .5 8.4 .5 11.1 .5 14.9 .5 20.6 .5 30.4 .5 50.1 .5 11.4 .5 0 .5 0 .5 0 .5 0 .5 -1.7 .5 -5.3 .5 -4.4 .5 -3.2 .5 -2.2 .5 -1.1 .5 -127.6 .5 1.5 .5 3.1 .5 4.9 .5 6.8 .5 9.3 .5 12.3 .5 16.5 .5 23.1 .5 34.5 .5 33.5 .5 0 .5 0 .5 0 .5 -1.6 .5 -8.8 .5 -7.6 .5 -6.2 .5 -4.7 .5 -3.4 .5 -2.1 .5 -.8 .5 .4 .5 1.6 .5 3 .5 4.3 .5 5.6 .5 7.1 .5 8.5 .5 4.7 .5 0 .5 0 .5 0 .5 0 .5 0 .5 0 .5 -2 .5 -7.9 .5 -6.8 .5 -5.4 .5 -4.2 .5 -2.8 .5 -1.6 .5 -.4 .5 .8 .5 2 .5 3.3 .5 4.6 .5 5.8 .5 7.2 .5 7.4 .5 0 .5 0 .5 0 .5 0 .5 0 .5 0 .5 0 .5 -2.9 .5 -7.3 .5 -6.1 .5 -4.9 .5 -3.6 .5 -2.5 .5 -1.2 .5 0 .5 1.2 .5 2.4 .5 3.6 .5 4.8 .5 6.1 .5 7.3 .5 3.1 .5 0 .5 -50.7 .5 -84.8 .5 -48 .5 -24.4 .5 -11.5 .5 -4.9 .5 -1.9 .5 -.6 .5 -.1 .5 -.1 .5 0 .5 0 .5 0 .5 0 .5 0 .5 0 .5 0 .5 .1 .5 .4 .5 1.1 .5 3.3 .5 8 .5 17.7 .5 36 .5 67.6 .5 85.8 .5 .2 .5 -12.8 .5 -10.7 .5 -8.5 .5 -6.7 .5 -5 .5 -3.5 .5 -2 .5 -.6 .5 .7 .5 2.2 .5 3.6 .5 5.1 .5 6.9 .5 8.8 .5 10.8 .5 13 .5 5.5 .5 0 .5 0 .5 0 .5 -8.5 .5 -17.9 .5 -14.5 .5 -11.4 .5 -8.9 .5 -6.7 .5 -4.9 .5 -3.2 .5 -1.8 .5 -.3 .5 1.2 .5 2.6 .5 4.2 .5 5.9 .5 8 .5 10.3 .5 13.1 .5 16.5 .5 16.3 .5 0 .5 0 .5 0 .5 -14.6 .5 -17.5 .5 -13.9 .5 -10.8 .5 -8.4 .5 -6.3 .5 -4.6 .5 -2.9 .5 -1.4 .5 0 .5 1.5 .5 3 .5 4.6 .5 6.4 .5 8.4 .5 11 .5 14 .5 17.6 .5 13.9 .5 0 .5 0 .5 0 .5 0 .5 -2.7 .5 -9.3 .5 -7.8 .5 -6.4 .5 -4.9 .5 -3.6 .5 -2.2 .5 -1 .5 -90.9 .5 1.9 .5 3.4 .5 5.2 .5 7.2 .5 9.6 .5 12.8 .5 17.1 .5 23.6 .5 33.9 .5 14.1 .5 0 .5 -11.9 .5 -22.5 .5 -17.4 .5 -13.3 .5 -10.2 .5 -7.7 .5 -5.8 .5 -3.9 .5 -2.4 .5 -.9 .5 .6 .5 2.1 .5 3.6 .5 5.4 .5 7.3 .5 9.7 .5 12.6 .5 16.4 .5 21.4 .5 16.9 .5 0 .5 0 .5 0 .5 -1.4 .5 -11.3 .5 -9.7 .5 -7.9 .5 -6.3 .5 -4.7 .5 -3.3 .5 -1.9 .5 -.5 .5 .7 .5 2 .5 3.5 .5 4.8 .5 6.5 .5 8.1 .5 9.9 .5 11.4 .5 .1 .5 0 .5 0 .5 0 .5 0 .5 0 .5 0 .5 -3.1 .5 -5.8 .5 -4.7 .5 -3.7 .5 -2.5 .5 -1.4 .5 -.4 .5 .8 .5 1.8 .5 3 .5 4 .5 5.2 .5 6.1 .5 .7 .5 0 .5 -5.4 .5 -94.6 .5 -64.4 .5 -34 .5 -16.6 .5 -7.5 .5 -3 .5 -1.1 .5 -.3 .5 -.1 .5 0 .5 0 .5 0 .5 0 .5 0 .5 0 .5 0 .5 .1 .5 .1 .5 .7 .5 2.1 .5 5.3 .5 12.2 .5 25.9 .5 50.6 .5 84.8 .5 28.6 .5 -17.6 .5 -14.4 .5 -11.2 .5 -8.6 .5 -6.6 .5 -4.7 .5 -3.1 .5 -1.6 .5 -.2 .5 1.3 .5 2.8 .5 4.3 .5 6.1 .5 8.2 .5 10.5 .5 13.6 .5 17.3 .5 20.5 .5 0 .5 0 .5 0 .5 -5.2 .5 -15.3 .5 -12.7 .5 -10.2 .5 -8 .5 -6.1 .5 -4.4 .5 -2.9 .5 -1.4 .5 -.1 .5 1.3 .5 2.8 .5 4.2 .5 6 .5 7.7 .5 10 .5 12.4 .5 15.1 .5 6.8 .5 0 .5 0 .5 -1.6 .5 -23.6 .5 -18.8 .5 -14.4 .5 -11.1 .5 -8.6 .5 -6.4 .5 -4.6 .5 -2.9 .5 -1.5 .5 0 .5 1.4 .5 3 .5 4.6 .5 6.3 .5 8.5 .5 11.1 .5 14.3 .5 18.7 .5 23.5 .5 2.1 .5 0 .5 0 .5 0 .5 -9.3 .5 -10.8 .5 -9 .5 -7.2 .5 -5.5 .5 -4.1 .5 -2.6 .5 -1.3 .5 -63.9 .5 1.5 .5 3 .5 4.7 .5 6.6 .5 8.7 .5 11.6 .5 15.2 .5 20.3 .5 27.8 .5 14.3 .5 0 .5 0 .5 0 .5 -3.6 .5 -9.8 .5 -8.4 .5 -6.7 .5 -5.3 .5 -3.9 .5 -2.5 .5 -1.3 .5 .1 .5 1.2 .5 2.6 .5 3.8 .5 5.3 .5 6.8 .5 8.3 .5 9.8 .5 3.6 .5 0 .5 0 .5 0 .5 0 .5 0 .5 0 .5 -7.7 .5 -7.7 .5 -6.4 .5 -5 .5 -3.7 .5 -2.4 .5 -1.3 .5 0 .5 1.2 .5 2.4 .5 3.6 .5 5 .5 6.3 .5 7.6 .5 8.1 .5 0 .5 0 .5 0 .5 0 .5 0 .5 0 .5 -5.7" stroke="#e377c2"/><path d="M147.0 392.4l.5 -.1 .5 0 .5 0 .5 0 .5 0 .5 0 .5 0 .5 0 .5 0 .5 .2 .5 .6 .5 1.9 .5 5 .5 11.6 .5 24.7 .5 48.4 .5 81.7 .5 36.2 .5 -12.2 .5 -10.6 .5 -8.3 .5 -6.2 .5 -4.4 .5 -2.6 .5 -1.1 .5 .4 .5 2.1 .5 3.7 .5 5.5 .5 7.4 .5 9.7 .5 12.1 .5 14.6 .5 3.2 .5 0 .5 0 .5 0 .5 -19.8 .5 -16.9 .5 -13.2 .5 -10.1 .5 -7.6 .5 -5.5 .5 -3.6 .5 -1.8 .5 -.3 .5 1.4 .5 3.1 .5 4.9 .5 7 .5 9.3 .5 12.3 .5 15.8 .5 19.7 .5 5.3 .5 0 .5 0 .5 -8.1 .5 -18.1 .5 -14.5 .5 -11.3 .5 -8.6 .5 -6.3 .5 -4.4 .5 -2.7 .5 -1 .5 .7 .5 2.2 .5 4 .5 5.9 .5 8.1 .5 10.6 .5 13.7 .5 17.4 .5 12.4 .5 0 .5 0 .5 -24.9 .5 -27.5 .5 -19.6 .5 -14.4 .5 -10.8 .5 -7.9 .5 -5.6 .5 -3.7 .5 -1.9 .5 74.1 .5 1.3 .5 2.8 .5 4.3 .5 6 .5 7.8 .5 9.5 .5 10.5 .5 0 .5 0 .5 0 .5 0 .5 -23.1 .5 -21.1 .5 -15.9 .5 -12 .5 -9 .5 -6.6 .5 -4.5 .5 -2.7 .5 -1 .5 .6 .5 2.3 .5 4.2 .5 6.1 .5 8.4 .5 11.2 .5 14.9 .5 19.8 .5 25.7 .5 2.7 .5 0 .5 0 .5 -19.1 .5 -16.6 .5 -12.9 .5 -10 .5 -7.5 .5 -5.4 .5 -3.6 .5 -1.8 .5 -.3 .5 1.4 .5 3.1 .5 4.9 .5 6.8 .5 9.2 .5 12.1 .5 15.4 .5 19.3 .5 5 .5 0 .5 -.5 .5 -30.8 .5 -22.8 .5 -16.8 .5 -12.5 .5 -9.4 .5 -6.8 .5 -4.8 .5 -2.9 .5 -1.1 .5 .5 .5 2.2 .5 4 .5 6 .5 8.3 .5 11.2 .5 14.9 .5 15.8 .5 -48.2 .5 -64.2 .5 -35.5 .5 -17.5 .5 -7.9 .5 -3.2 .5 -1.2 .5 -.3 .5 -.1 .5 0 .5 0 .5 0 .5 0 .5 0 .5 0 .5 0 .5 0 .5 .2 .5 .6 .5 1.9 .5 5 .5 11.6 .5 24.7 .5 48.5 .5 85.1 .5 46 .5 0 .5 0 .5 -.2 .5 -3.9 .5 -3 .5 -1.9 .5 -.9 .5 .1 .5 1.2 .5 2.2 .5 3.3 .5 3.1 .5 0 .5 0 .5 0 .5 0 .5 0 .5 0 .5 -17.8 .5 -31.6 .5 -22.1 .5 -16 .5 -11.9 .5 -8.8 .5 -6.4 .5 -4.3 .5 -2.5 .5 -.8 .5 .9 .5 2.5 .5 4.5 .5 6.5 .5 8.9 .5 12 .5 16.3 .5 22.4 .5 32 .5 16.2 .5 0 .5 0 .5 -7.6 .5 -13.9 .5 -11.5 .5 -9 .5 -6.9 .5 -5 .5 -3.3 .5 -1.7 .5 -.2 .5 1.3 .5 3 .5 4.6 .5 6.5 .5 8.5 .5 10.9 .5 13.3 .5 11 .5 0 .5 0 .5 0 .5 -25.2 .5 -22.3 .5 -16.6 .5 -12.4 .5 -9.4 .5 -6.9 .5 -4.8 .5 -3 .5 -1.2 .5 39.8 .5 1.9 .5 3.6 .5 5.3 .5 7.2 .5 9.4 .5 12 .5 14.6 .5 8 .5 0 .5 0 .5 0 .5 -22 .5 -18.7 .5 -14.4 .5 -11 .5 -8.2 .5 -6.1 .5 -4.1 .5 -2.4 .5 -.7 .5 .9 .5 2.5 .5 4.3 .5 6.3 .5 8.5 .5 11.3 .5 14.8 .5 19.2 .5 19.8 .5 0 .5 0 .5 -11.5 .5 -23.6 .5 -18 .5 -13.6 .5 -10.2 .5 -7.7 .5 -5.5 .5 -3.6 .5 -1.9 .5 -.2 .5 1.4 .5 3 .5 5 .5 7 .5 9.4 .5 12.5 .5 16.5 .5 21.9 .5 19.1 .5 0 .5 0 .5 -14.9 .5 -21.1 .5 -16.2 .5 -12.4 .5 -9.3 .5 -7 .5 -4.9 .5 -3 .5 -1.4 .5 .2 .5 1.8 .5 3.6 .5 5.4 .5 7.5 .5 10.1 .5 13.2 .5 16.3 .5 -31.8 .5 -75.5 .5 -44.4 .5 -22.5 .5 -10.5 .5 -4.4 .5 -1.7 .5 -.5 .5 -.2 .5 0 .5 0 .5 0 .5 0 .5 0 .5 0 .5 0 .5 0 .5 .1 .5 .4 .5 1.4 .5 3.6 .5 8.8 .5 19.2 .5 38.9 .5 71.9 .5 79.3 .5 0 .5 0 .5 -4.9 .5 -5.1 .5 -4 .5 -2.8 .5 -1.6 .5 -.4 .5 .7 .5 1.9 .5 3.1 .5 4.3 .5 5.3 .5 3.5 .5 0 .5 0 .5 0 .5 0 .5 0 .5 0 .5 -18.6 .5 -15.8 .5 -12.5 .5 -9.6 .5 -7.3 .5 -5.2 .5 -3.5 .5 -1.8 .5 -.3 .5 1.4 .5 2.9 .5 4.7 .5 6.6 .5 8.8 .5 11.5 .5 14.7 .5 18.2 .5 5.8 .5 0 .5 0 .5 -4 .5 -18.6 .5 -15.2 .5 -11.8 .5 -9.2 .5 -6.8 .5 -4.9 .5 -3.2 .5 -1.5 .5 .1 .5 1.6 .5 3.3 .5 5 .5 7 .5 9.4 .5 12 .5 15.4 .5 18.9 .5 2.5 .5 0 .5 -13.3 .5 -35.1 .5 -24.1 .5 -17.3 .5 -12.7 .5 -9.5 .5 -7 .5 -4.9 .5 -3 .5 -1.3 .5 49.2 .5 1.9 .5 3.6 .5 5.4 .5 7.5 .5 9.9 .5 12.8 .5 16.4 .5 20.2 .5 1.3 .5 0 .5 0 .5 0 .5 0 .5 -8.4 .5 -8.1 .5 -6.6 .5 -5 .5 -3.6 .5 -2.3 .5 -.8 .5 .5 .5 1.8 .5 3.2 .5 4.7 .5 6.1 .5 7.7 .5 9.1 .5 1.7 .5 0 .5 0 .5 0 .5 -18.1 .5 -29.8 .5 -21.1 .5 -15.5 .5 -11.5 .5 -8.6 .5 -6.3 .5 -4.3 .5 -2.5 .5 -.8 .5 .8 .5 2.5 .5 4.2 .5 6.3 .5 8.6 .5 11.5 .5 15.4 .5 21 .5 29.5 .5 18.7 .5 0 .5 0 .5 -13.3 .5 -16.1 .5 -12.8 .5 -10.1 .5 -7.6 .5 -5.6 .5 -3.9 .5 -2.1 .5 -.7 .5 1 .5 2.5 .5 4.2 .5 6 .5 8.1 .5 10.6 .5 13.4 .5 8.6 .5 -70.3 .5 -67.7 .5 -36.6 .5 -18 .5 -8.2 .5 -3.3 .5 -1.2 .5 -.4 .5 -.1 .5 0 .5 0 .5 0 .5 0 .5 0 .5 0 .5 0 .5 0 .5 .2 .5 .6 .5 1.8 .5 4.8 .5 11.2 .5 24 .5 47.2 .5 82.3 .5 49.7 .5 -10.4 .5 -10.3 .5 -8.3 .5 -6.6 .5 -4.8 .5 -3.3 .5 -1.7 .5 -.4 .5 1.1 .5 2.5 .5 4.1 .5 5.7 .5 7.4 .5 9.4 .5 11.2 .5 6.2 .5 0 .5 0 .5 0 .5 -1.7 .5 -19.5 .5 -15.9 .5 -12.5 .5 -9.7 .5 -7.3 .5 -5.3 .5 -3.5 .5 -1.8 .5 -.3 .5 1.2 .5 2.9 .5 4.5 .5 6.5 .5 8.6 .5 11.3 .5 14.5 .5 18.1 .5 9.9 .5 0 .5 0 .5 0 .5 -3.9 .5 -12.6 .5 -10.5 .5 -8.5 .5 -6.6 .5 -4.8 .5 -3.2 .5 -1.7 .5 -.2 .5 1.1 .5 2.7 .5 4.3 .5 5.9 .5 7.8 .5 9.8 .5 11.8 .5 8.6 .5 0 .5 0 .5 -19.8 .5 -47.7 .5 -28.9 .5 -19.8 .5 -14.3 .5 -10.6 .5 -7.9 .5 -5.6 .5 -3.6 .5 -2 .5 126.5 .5 1.1 .5 2.4 .5 3.8 .5 5.2 .5 6.7 .5 8.1 .5 6.4 .5 0 .5 0 .5 0 .5 0 .5 -3.2 .5 -19.7 .5 -16 .5 -12.4 .5 -9.6 .5 -7.3 .5 -5.2 .5 -3.5 .5 -1.9 .5 -.3 .5 1.3 .5 2.8 .5 4.6 .5 6.4 .5 8.6 .5 11.3 .5 14.5 .5 18.3 .5 11.3 .5 0 .5 0 .5 -4.5 .5 -20.5 .5 -16.4 .5 -12.7 .5 -9.8 .5 -7.4 .5 -5.4 .5 -3.6 .5 -1.9 .5 -.4 .5 1.2 .5 2.8 .5 4.5 .5 6.4 .5 8.6 .5 11.3 .5 14.5 .5 18.6 .5 14.7 .5 0 .5 0 .5 -42.8 .5 -28.6 .5 -19.8 .5 -14.5 .5 -10.8 .5 -8 .5 -5.8 .5 -3.9 .5 -2.1 .5 -.5 .5 1.2 .5 2.8 .5 4.6 .5 6.6 .5 9 .5 12.2 .5 16.3 .5 21.3 .5 -23.7 .5 -65.5 .5 -38.4 .5 -19.1 .5 -8.7 .5 -3.6 .5 -1.3 .5 -.4 .5 -.1 .5 0 .5 0 .5 0 .5 0 .5 0 .5 0 .5 0 .5 0 .5 .2 .5 .5 .5 1.7 .5 4.5 .5 10.6 .5 22.6 .5 45.1 .5 81 .5 57.4 .5 0 .5 0 .5 0 .5 0 .5 0 .5 0 .5 -.1 .5 -.4 .5 .4 .5 .1 .5 0 .5 0 .5 0 .5 0 .5 0 .5 0 .5 0 .5 0 .5 0 .5 -2.2 .5 -24.3 .5 -19 .5 -14.5 .5 -11 .5 -8.4 .5 -6.2 .5 -4.3 .5 -2.5 .5 -1 .5 .6 .5 2.2 .5 3.8 .5 5.7 .5 7.8 .5 10.4 .5 13.6 .5 17.8 .5 23 .5 8.5 .5 0 .5 0 .5 -16.8 .5 -18.6 .5 -14.5 .5 -11.2 .5 -8.6 .5 -6.3 .5 -4.5 .5 -2.8 .5 -1.1 .5 .3 .5 1.9 .5 3.6 .5 5.3 .5 7.3 .5 9.7 .5 12.6 .5 16.3 .5 20.6 .5 6.8 .5 0 .5 0 .5 -27.4 .5 -21.7 .5 -16.3 .5 -12.3 .5 -9.3 .5 -6.9 .5 -4.9 .5 -3.1 .5 -1.5 .5 50.9 .5 1.6 .5 2.9 .5 4.6 .5 6.2 .5 8.1 .5 10.1 .5 12.2 .5 6.8 .5 0 .5 0 .5 0 .5 -13.5 .5 -21.2 .5 -16.3 .5 -12.6 .5 -9.5 .5 -7.2 .5 -5.2 .5 -3.4 .5 -1.7 .5 -.3 .5 1.4 .5 2.9 .5 4.7 .5 6.6 .5 8.9 .5 11.6 .5 15.2 .5 19.7 .5 19.9 .5 0 .5 0 .5 -10.5 .5 -22.7 .5 -17.5 .5 -13.4 .5 -10.2 .5 -7.7 .5 -5.6 .5 -3.7 .5 -2.1 .5 -.6 .5 1 .5 2.6 .5 4.3 .5 6.2 .5 8.3 .5 11.1 .5 14.4 .5 19 .5 24.2 .5 2.9 .5 0 .5 -12 .5 -26.4 .5 -19.7 .5 -14.7 .5 -11.1 .5 -8.3 .5 -6.2 .5 -4.2 .5 -2.5 .5 -1 .5 .7 .5 2.2 .5 3.9 .5 5.8 .5 7.9 .5 10.6 .5 13.9 .5 18.4 .5 -4.6 .5 -76.5 .5 -51.8 .5 -26.7 .5 -12.7 .5 -5.5 .5 -2.1 .5 -.8 .5 -.2 .5 0 .5 0 .5 0 .5 0 .5 0 .5 0 .5 0 .5 0 .5 .1 .5 .3 .5 1 .5 2.9 .5 7.2 .5 16 .5 33 .5 62.7 .5 92 .5 8.4 .5 0 .5 -5.8 .5 -6.2 .5 -5 .5 -3.8 .5 -2.5 .5 -1.4 .5 -.1 .5 1 .5 2.2 .5 3.5 .5 4.7 .5 5.9 .5 7 .5 .5 .5 0 .5 0 .5 0 .5 0 .5 -2.1 .5 -20.5 .5 -16.5 .5 -13 .5 -10 .5 -7.6 .5 -5.6 .5 -3.8 .5 -2.2 .5 -.7 .5 .9 .5 2.4 .5 4 .5 5.8 .5 7.9 .5 10.4 .5 13.3 .5 17.1 .5 20.2 .5 0 .5 0 .5 0 .5 -1.9 .5 -14.5 .5 -12.1 .5 -9.8 .5 -7.7 .5 -5.8 .5 -4.1 .5 -2.6 .5 -1.1 .5 .3 .5 1.8 .5 3.3 .5 4.9 .5 6.7 .5 8.6 .5 10.9 .5 13.3 .5 9.8 .5 0 .5 0 .5 0 .5 -28.8 .5 -22.9 .5 -16.9 .5 -12.7 .5 -9.7 .5 -7.2 .5 -5.1 .5 -3.4 .5 -1.7 .5 85.5 .5 1.1 .5 2.2 .5 3.4 .5 4.5 .5 5.7 .5 6 .5 0 .5 0 .5 0 .5 0 .5 0 .5 -9.4 .5 -23.1 .5 -17.8 .5 -13.6 .5 -10.4 .5 -7.9 .5 -5.7 .5 -4 .5 -2.3 .5 -.7 .5 .8 .5 2.4 .5 4 .5 5.8 .5 7.9 .5 10.5 .5 13.7 .5 18 .5 23.2 .5 8.6 .5 0 .5 -1.7 .5 -26.1 .5 -20.2 .5 -15.3 .5 -11.7 .5 -8.8 .5 -6.6 .5 -4.6 .5 -3 .5 -1.3 .5 .2 .5 1.7 .5 3.4 .5 5.1 .5 7.1 .5 9.4 .5 12.5 .5 16.4 .5 21.6 .5 21.9 .5 0 .5 0 .5 0 .5 -9.2 .5 -13.2 .5 -10.9 .5 -8.7 .5 -6.7 .5 -4.9 .5 -3.3 .5 -1.9 .5 -.4 .5 1 .5 2.5 .5 4 .5 5.6 .5 7.5 .5 9.6 .5 11.8 .5 12.9 .5 -44.6 .5 -83 .5 -48.1 .5 -24.4 .5 -11.6 .5 -4.9 .5 -1.9 .5 -.6 .5 -.2 .5 0 .5 0 .5 0 .5 0 .5 0 .5 0 .5 0 .5 0 .5 .1 .5 .3 .5 1.2 .5 3.3 .5 7.9 .5 17.7 .5 35.8 .5 67.4 .5 88.6 .5 1.3 .5 -3.2 .5 -8.1 .5 -6.8 .5 -5.4 .5 -4 .5 -2.8 .5 -1.4 .5 -.3 .5 1 .5 2.3 .5 3.6 .5 4.9 .5 6.2 .5 7.6 .5 6.4 .5 0 .5 0 .5 0 .5 0 .5 0 .5 -18.1 .5 -16.9 .5 -13.3 .5 -10.4 .5 -7.9 .5 -5.9 .5 -4.1 .5 -2.5 .5 -1 .5 .5 .5 2 .5 3.5 .5 5.3 .5 7.2 .5 9.5 .5 12.2 .5 15.6 .5 19.3 .5 5 .5 0 .5 0 .5 -4.2 .5 -17.5 .5 -14.4 .5 -11.4 .5 -8.9 .5 -6.7 .5 -4.9 .5 -3.3 .5 -1.7 .5 -.3 .5 1.3 .5 2.7 .5 4.3 .5 6.1 .5 8.1 .5 10.4 .5 13.3 .5 16.5 .5 10.6 .5 0 .5 0 .5 -29.3 .5 -29.6 .5 -20.8 .5 -15.2 .5 -11.4 .5 -8.5 .5 -6.3 .5 -4.4 .5 -2.7 .5 -1 .5 94.7 .5 1.7 .5 2.9 .5 4.3 .5 5.7 .5 7.1 .5 8.4 .5 4.4 .5 0 .5 0 .5 0 .5 0 .5 0 .5 -8.3 .5 -12.6 .5 -10.4 .5 -8.3 .5 -6.4 .5 -4.8 .5 -3.2 .5 -1.7 .5 -.4 .5 1.1 .5 2.5 .5 3.9 .5 5.6 .5 7.3 .5 9.4 .5 11.5 .5 13.5 .5 1.3 .5 0 .5 0 .5 -4.8 .5 -24.9 .5 -19.3 .5 -14.7 .5 -11.2 .5 -8.5 .5 -6.3 .5 -4.5 .5 -2.8 .5 -1.2 .5 .3 .5 1.7 .5 3.4 .5 5.1 .5 7.1 .5 9.4 .5 12.3 .5 16.2 .5 21.2 .5 21.5 .5 0 .5 0 .5 -9.7 .5 -21.1 .5 -16.5 .5 -12.8 .5 -9.8 .5 -7.5 .5 -5.4 .5 -3.7 .5 -2.1 .5 -.7 .5 .9 .5 2.4 .5 4 .5 5.8 .5 7.8 .5 10.3 .5 13.3 .5 17.1 .5 -1.5 .5 -81.4 .5 -57.9 .5 -30.3 .5 -14.6 .5 -6.4 .5 -2.6 .5 -.9 .5 -.2 .5 -.1 .5 0 .5 0 .5 0 .5 0 .5 0 .5 0 .5 0 .5 0 .5 .3 .5 .8 .5 2.4 .5 6.2 .5 14 .5 29.1 .5 56.3 .5 88.1 .5 20 .5 -13.8 .5 -11.7 .5 -9.4 .5 -7.3 .5 -5.5 .5 -3.9 .5 -2.4 .5 -.9 .5 .5 .5 1.8 .5 3.4 .5 4.9 .5 6.7 .5 8.6 .5 10.9 .5 13.3 .5 11.2 .5 0 .5 0 .5 0 .5 0 .5 -9.5 .5 -12.9 .5 -10.7 .5 -8.5 .5 -6.6 .5 -4.9 .5 -3.3 .5 -1.8 .5 -.5 .5 .9 .5 2.4 .5 3.8 .5 5.4 .5 7.2 .5 9.2 .5 11.5 .5 13.6 .5 4.7 .5 0 .5 0 .5 0 .5 0 .5 0 .5 -5.2 .5 -7.7 .5 -6.4 .5 -5 .5 -3.8 .5 -2.5 .5 -1.2 .5 0 .5 1.2 .5 2.4 .5 3.7 .5 5 .5 6.4 .5 7.6 .5 5.5 .5 0 .5 0 .5 0 .5 0 .5 -37.1 .5 -29.6 .5 -20.5 .5 -15.1 .5 -11.3 .5 -8.4 .5 -6.3 .5 -4.3 .5 -2.7 .5 -1.1 .5 112.7 .5 1.4 .5 2.6 .5 3.8 .5 4.9 .5 6.1 .5 4.9 .5 0 .5 0 .5 0 .5 0 .5 0 .5 -4.8 .5 -19.3 .5 -15.6 .5 -12.3 .5 -9.5 .5 -7.3 .5 -5.4 .5 -3.6 .5 -2.2 .5 -.6 .5 .8 .5 2.2 .5 3.9 .5 5.5 .5 7.5 .5 9.8 .5 12.5 .5 16 .5 19.5 .5 2.9 .5 0 .5 0 .5 -2 .5 -16.1 .5 -13.5 .5 -10.8 .5 -8.5 .5 -6.5 .5 -4.8 .5 -3.2 .5 -1.7 .5 -.3 .5 1.2 .5 2.5 .5 4.1 .5 5.8 .5 7.7 .5 9.8 .5 12.3 .5 15.1 .5 8.9 .5 0 .5 0 .5 -4.6 .5 -25.9 .5 -19.9 .5 -15 .5 -11.5 .5 -8.8 .5 -6.5 .5 -4.7 .5 -3 .5 -1.4 .5 0 .5 1.5 .5 3.1 .5 4.7 .5 6.6 .5 8.9 .5 11.6 .5 15.2 .5 19.6 .5 -17.8 .5 -80.7 .5 -49.6 .5 -25.4 .5 -12 .5 -5.1 .5 -2 .5 -.7 .5 -.2 .5 0 .5 0 .5 0 .5 0 .5 0 .5 0 .5 0 .5 0 .5 .1 .5 .3 .5 1.1 .5 3.1 .5 7.7 .5 16.9 .5 34.7 .5 65.4 .5 88.2 .5 5.7 .5 -11.7 .5 -10.1 .5 -8.3 .5 -6.6 .5 -5 .5 -3.5 .5 -2.2 .5 -.8 .5 .6 .5 1.8 .5 3.3 .5 4.7 .5 6.2 .5 8 .5 9.7 .5 11.5 .5 2.8 .5 0 .5 0 .5 0 .5 -8.4 .5 -19.7 .5 -15.7 .5 -12.3 .5 -9.5 .5 -7.3 .5 -5.3 .5 -3.6 .5 -2.2 .5 -.6 .5 .8 .5 2.3 .5 3.8 .5 5.6 .5 7.4 .5 9.8 .5 12.6 .5 16.1 .5 20.2 .5 6 .5 0 .5 0 .5 -1.1 .5 -16.3 .5 -13.6 .5 -11 .5 -8.6 .5 -6.7 .5 -4.9 .5 -3.3 .5 -1.8 .5 -.5 .5 1 .5 2.4 .5 3.9 .5 5.5 .5 7.4 .5 9.5 .5 11.9 .5 14.7 .5 11.5 .5 0 .5 0 .5 -10.2 .5 -31.2 .5 -22.4 .5 -16.5 .5 -12.4 .5 -9.4 .5 -7.1 .5 -5 .5 -3.4 .5 -1.8 .5 61.8 .5 1.1 .5 2.4 .5 4 .5 5.5 .5 7.2 .5 9.2 .5 11.3 .5 13.5 .5 3.4 .5 0 .5 0 .5 0 .5 -5.4 .5 -15.9 .5 -13.1 .5 -10.5 .5 -8.2 .5 -6.3 .5 -4.6 .5 -3 .5 -1.5 .5 -.2 .5 1.3 .5 2.6 .5 4.2 .5 5.9 .5 7.8 .5 9.9 .5 12.5 .5 15.2 .5 9.3 .5 0 .5 0 .5 -3 .5 -25 .5 -19.5 .5 -14.9 .5 -11.4 .5 -8.7 .5 -6.6 .5 -4.7 .5 -3 .5 -1.6 .5 0 .5 1.3 .5 3 .5 4.5 .5 6.3 .5 8.5 .5 11.1 .5 14.5 .5 19 .5 24.5 .5 5.7 .5 0 .5 0 .5 -17.2 .5 -17.4 .5 -13.9 .5 -10.7 .5 -8.4 .5 -6.3 .5 -4.5 .5 -2.9 .5 -1.4 .5 -.1 .5 1.5 .5 2.9 .5 4.5 .5 6.2 .5 8.3 .5 10.7 .5 13.8 .5 17.2 .5 -10.1 .5 -85.8 .5 -56.6 .5 -29.4 .5 -14.2 .5 -6.2 .5 -2.5 .5 -.8 .5 -.3 .5 0 .5 0 .5 0 .5 0 .5 0 .5 0 .5 0 .5 0 .5 .1 .5 .2 .5 .9 .5 2.5 .5 6.4 .5 14.4 .5 30 .5 57.7 .5 92.6 .5 18.8 .5 0 .5 -3 .5 -7 .5 -5.8 .5 -4.7 .5 -3.4 .5 -2.3 .5 -1.2 .5 0 .5 1.2 .5 2.3 .5 3.5 .5 4.6 .5 5.9 .5 7 .5 2.9 .5 0 .5 0 .5 0 .5 0 .5 0 .5 -11.3 .5 -16.3 .5 -13.1 .5 -10.4 .5 -8.1 .5 -6.2 .5 -4.4 .5 -2.9 .5 -1.4 .5 0 .5 1.3 .5 2.8 .5 4.4 .5 6.1 .5 7.9 .5 10.3 .5 13 .5 16.1 .5 12.2 .5 0 .5 0 .5 0 .5 0 .5 0" stroke="#7f7f7f"/></g><line x1="147.0" y1="388.1" x2="162.0" y2="388.1" stroke="#000" stroke-width="3.5"/><text x="139" y="398.6" text-anchor="end" font-family='"Liberation Sans", sans-serif' font-size="30" fill="#000">0</text><line x1="147.0" y1="472.5" x2="162.0" y2="472.5" stroke="#000" stroke-width="3.5"/><text x="139" y="483.0" text-anchor="end" font-family='"Liberation Sans", sans-serif' font-size="30" fill="#000">−10</text><line x1="147.0" y1="556.8" x2="162.0" y2="556.8" stroke="#000" stroke-width="3.5"/><text x="139" y="567.3" text-anchor="end" font-family='"Liberation Sans", sans-serif' font-size="30" fill="#000">−20</text><text x="147.0" y="629.0" text-anchor="middle" font-family='"Liberation Sans", sans-serif' font-size="30" fill="#000">1.52</text><text x="279.4" y="629.0" text-anchor="middle" font-family='"Liberation Sans", sans-serif' font-size="30" fill="#000">1.53</text><text x="411.8" y="629.0" text-anchor="middle" font-family='"Liberation Sans", sans-serif' font-size="30" fill="#000">1.54</text><text x="544.2" y="629.0" text-anchor="middle" font-family='"Liberation Sans", sans-serif' font-size="30" fill="#000">1.55</text><text x="676.7" y="629.0" text-anchor="middle" font-family='"Liberation Sans", sans-serif' font-size="30" fill="#000">1.56</text><text x="809.1" y="629.0" text-anchor="middle" font-family='"Liberation Sans", sans-serif' font-size="30" fill="#000">1.57</text><text x="941.5" y="629.0" text-anchor="middle" font-family='"Liberation Sans", sans-serif' font-size="30" fill="#000">1.58</text><rect x="147.0" y="380.1" width="794.5" height="218.88824999999997" fill="none" stroke="#000" stroke-width="3.6"/><text x="543.2" y="367.2" text-anchor="middle" font-family='"Liberation Sans", sans-serif' font-size="34.6" fill="#000">8-channel DWDM interleaver</text><line x1="147.0" y1="905.28825" x2="147.0" y2="890.28825" stroke="#000" stroke-width="3.5"/><line x1="279.4" y1="905.28825" x2="279.4" y2="890.28825" stroke="#000" stroke-width="3.5"/><line x1="411.8" y1="905.28825" x2="411.8" y2="890.28825" stroke="#000" stroke-width="3.5"/><line x1="544.2" y1="905.28825" x2="544.2" y2="890.28825" stroke="#000" stroke-width="3.5"/><line x1="676.7" y1="905.28825" x2="676.7" y2="890.28825" stroke="#000" stroke-width="3.5"/><line x1="809.1" y1="905.28825" x2="809.1" y2="890.28825" stroke="#000" stroke-width="3.5"/><line x1="941.5" y1="905.28825" x2="941.5" y2="890.28825" stroke="#000" stroke-width="3.5"/><g clip-path="url(#c2)" fill="none" stroke-width="1.5" stroke-linejoin="round"><path d="M147.0 781.0l.5 16.8 .5 18.9 .5 21 .5 22.4 .5 20.6 .5 8 .5 -11.7 .5 -20 .5 -17.6 .5 -12 .5 -8.1 .5 -7.4 .5 -8.2 .5 -9 .5 -9.2 .5 -9.2 .5 -7.7 .5 -4.2 .5 -.4 .5 2 .5 3.1 .5 4.4 .5 6.7 .5 9.6 .5 -2.9 .5 -12.9 .5 -9.1 .5 -3.9 .5 -.1 .5 1.2 .5 2.3 .5 4.2 .5 6 .5 7.9 .5 9.5 .5 8.2 .5 5.9 .5 6.1 .5 10.8 .5 16.8 .5 20 .5 19 .5 12.2 .5 -3.8 .5 -18.4 .5 -22.5 .5 -21.6 .5 -19.6 .5 -17.6 .5 -15.7 .5 -13.7 .5 -12 .5 -10.4 .5 -8.9 .5 -7.4 .5 -6.2 .5 -5.1 .5 -3.9 .5 -3.1 .5 -2.3 .5 -1.6 .5 -1 .5 -.6 .5 -.3 .5 0 .5 -.1 .5 .1 .5 .2 .5 .5 .5 .9 .5 1.5 .5 2.1 .5 2.9 .5 3.7 .5 4.8 .5 5.9 .5 7.2 .5 8.5 .5 10.1 .5 11.7 .5 13.4 .5 15.3 .5 17.2 .5 19.3 .5 21.2 .5 22.4 .5 19.2 .5 3.3 .5 -16.9 .5 -22.1 .5 -18.5 .5 -12.8 .5 -8.2 .5 -6.5 .5 -8 .5 -10.6 .5 -12.1 .5 -10.7 .5 -6.8 .5 -2.1 .5 1.3 .5 3.1 .5 4.5 .5 6.6 .5 8.2 .5 8.7 .5 9.7 .5 -17 .5 -13.4 .5 -9.2 .5 -4.7 .5 -.4 .5 3.5 .5 7.1 .5 9.8 .5 9.9 .5 7.7 .5 4.6 .5 2.3 .5 2.2 .5 4.5 .5 8.2 .5 11.4 .5 14.3 .5 18.2 .5 18.4 .5 2.2 .5 -16.7 .5 -21.5 .5 -20.5 .5 -18.6 .5 -16.5 .5 -14.7 .5 -12.8 .5 -11.2 .5 -9.6 .5 -8.1 .5 -6.8 .5 -5.6 .5 -4.4 .5 -3.5 .5 -2.7 .5 -1.9 .5 -1.3 .5 -.8 .5 -.4 .5 -.1 .5 -.1 .5 .1 .5 .1 .5 .3 .5 .7 .5 1.2 .5 1.8 .5 2.5 .5 3.3 .5 4.3 .5 5.3 .5 6.6 .5 7.8 .5 9.3 .5 10.9 .5 12.6 .5 14.3 .5 16.3 .5 18.3 .5 20.3 .5 21.9 .5 20.6 .5 8.6 .5 -11.2 .5 -16.9 .5 -12.9 .5 -8.8 .5 -5.7 .5 -3.8 .5 -3.6 .5 -5.2 .5 -7.3 .5 -7.7 .5 -7.2 .5 -6.4 .5 -4.3 .5 -.6 .5 1.8 .5 1.5 .5 2.1 .5 6.4 .5 12 .5 -18.2 .5 -8.2 .5 -6.4 .5 -6.8 .5 -6.4 .5 -3.9 .5 -.8 .5 2.5 .5 6.9 .5 11.6 .5 14.8 .5 14.1 .5 10.3 .5 6 .5 4.9 .5 8.9 .5 15.5 .5 20 .5 17.5 .5 5.9 .5 -11.1 .5 -20.8 .5 -22.4 .5 -20.9 .5 -18.9 .5 -16.9 .5 -15 .5 -13.1 .5 -11.4 .5 -9.9 .5 -8.3 .5 -7 .5 -5.8 .5 -4.6 .5 -3.6 .5 -2.8 .5 -2 .5 -1.4 .5 -.9 .5 -.4 .5 -.2 .5 -.1 .5 .1 .5 .1 .5 .3 .5 .6 .5 1.1 .5 1.7 .5 2.3 .5 3.2 .5 4.1 .5 5.2 .5 6.3 .5 7.7 .5 9.1 .5 10.6 .5 12.3 .5 14 .5 16 .5 17.9 .5 20 .5 21.8 .5 21.9 .5 15 .5 -2 .5 -15.7 .5 -20.6 .5 -19 .5 -12.3 .5 -5.6 .5 -2.7 .5 -3.9 .5 -6.8 .5 -9.9 .5 -11.8 .5 -10.4 .5 -6.5 .5 -1.6 .5 2.4 .5 4.5 .5 5.3 .5 6.9 .5 10.3 .5 13.5 .5 -10.8 .5 -13.6 .5 -10 .5 -6.1 .5 -3.2 .5 -1.1 .5 1 .5 4.6 .5 8.6 .5 11.1 .5 12.3 .5 14.6 .5 17.8 .5 18 .5 12.9 .5 7.9 .5 8.9 .5 13 .5 12.5 .5 -.8 .5 -17.5 .5 -23.1 .5 -22.6 .5 -20.6 .5 -18.6 .5 -16.6 .5 -14.6 .5 -12.9 .5 -11.2 .5 -9.5 .5 -8.2 .5 -6.8 .5 -5.5 .5 -4.5 .5 -3.5 .5 -2.7 .5 -1.9 .5 -1.3 .5 -.7 .5 -.5 .5 -.1 .5 -.1 .5 .1 .5 .1 .5 .3 .5 .7 .5 1.2 .5 1.8 .5 2.5 .5 3.3 .5 4.2 .5 5.4 .5 6.5 .5 7.9 .5 9.3 .5 10.9 .5 12.5 .5 14.4 .5 16.2 .5 18.3 .5 20.3 .5 22.2 .5 22.5 .5 15.5 .5 -5.2 .5 -20.5 .5 -19.5 .5 -14.5 .5 -10.1 .5 -5.1 .5 -.3 .5 .4 .5 -4.1 .5 -9.7 .5 -11.3 .5 -9.3 .5 -6.4 .5 -3.4 .5 .5 .5 5 .5 9.2 .5 10.7 .5 10.8 .5 12.2 .5 -31.8 .5 -14.4 .5 -11.6 .5 -8 .5 -3.8 .5 0 .5 2.1 .5 3.9 .5 7.7 .5 11.8 .5 13.5 .5 11.2 .5 7.3 .5 4.5 .5 4.6 .5 7.9 .5 12.4 .5 15 .5 16.7 .5 15.4 .5 1.1 .5 -16.9 .5 -22.4 .5 -21.7 .5 -19.7 .5 -17.6 .5 -15.7 .5 -13.8 .5 -12.1 .5 -10.4 .5 -8.9 .5 -7.5 .5 -6.2 .5 -5 .5 -4.1 .5 -3 .5 -2.3 .5 -1.6 .5 -1.1 .5 -.6 .5 -.3 .5 0 .5 -.1 .5 .1 .5 .2 .5 .5 .5 .9 .5 1.4 .5 2.1 .5 2.9 .5 3.7 .5 4.8 .5 5.9 .5 7.1 .5 8.5 .5 10 .5 11.7 .5 13.3 .5 15.2 .5 17.2 .5 19.2 .5 21.1 .5 21.5 .5 14.2 .5 -6.1 .5 -20.1 .5 -21.3 .5 -16.8 .5 -9.4 .5 -1.6 .5 3.9 .5 6.9 .5 5.6 .5 -.4 .5 -5.8 .5 -5.3 .5 -1.4 .5 1.5 .5 1.1 .5 1 .5 4.5 .5 9.9 .5 14.6 .5 16.7 .5 16 .5 -49.3 .5 -18.1 .5 -14.9 .5 -11.7 .5 -8.4 .5 -6.1 .5 -4.2 .5 -1.4 .5 3.3 .5 8.4 .5 11 .5 9.8 .5 6.7 .5 3.9 .5 3.1 .5 4.7 .5 8.7 .5 14.5 .5 20.1 .5 21.5 .5 10.6 .5 -10 .5 -20.5 .5 -21.7 .5 -20.1 .5 -18.1 .5 -16.2 .5 -14.2 .5 -12.5 .5 -10.8 .5 -9.3 .5 -7.8 .5 -6.5 .5 -5.3 .5 -4.3 .5 -3.3 .5 -2.4 .5 -1.8 .5 -1.2 .5 -.7 .5 -.3 .5 -.1 .5 -.1 .5 .1 .5 .1 .5 .5 .5 .8 .5 1.2 .5 2 .5 2.6 .5 3.5 .5 4.5 .5 5.6 .5 6.9 .5 8.1 .5 9.7 .5 11.2 .5 12.9 .5 14.8 .5 16.7 .5 18.7 .5 20.7 .5 21.9 .5 17.5 .5 -2.2 .5 -21.5 .5 -23.2 .5 -17.7 .5 -10.3 .5 -3.3 .5 .9 .5 2.1 .5 .5 .5 -2.1 .5 -3.8 .5 -4.3 .5 -5.1 .5 -5.2 .5 -2.3 .5 2.6 .5 6.6 .5 9 .5 11.5 .5 14.3 .5 15.6 .5 -25.4 .5 -19 .5 -14.3 .5 -9.2 .5 -5.8 .5 -3.7 .5 -2.1 .5 -.2 .5 1.3 .5 1.9 .5 2.7 .5 3.8 .5 4 .5 1.7 .5 -.1 .5 .9 .5 4.1 .5 8.1 .5 13.7 .5 20.9 .5 26.9 .5 21.8 .5 -1 .5 -18 .5 -21.2 .5 -20 .5 -18 .5 -16 .5 -14.2 .5 -12.4 .5 -10.7 .5 -9.2 .5 -7.7 .5 -6.5 .5 -5.3 .5 -4.2 .5 -3.2 .5 -2.4 .5 -1.8 .5 -1.1 .5 -.7 .5 -.3 .5 -.1 .5 -.1 .5 .1 .5 .2 .5 .4 .5 .8 .5 1.3 .5 2 .5 2.7 .5 3.5 .5 4.6 .5 5.6 .5 6.9 .5 8.3 .5 9.7 .5 11.3 .5 13 .5 14.9 .5 16.8 .5 18.8 .5 20.9 .5 22.5 .5 21.8 .5 12.9 .5 -5.9 .5 -15.7 .5 -14.4 .5 -11.4 .5 -8.3 .5 -5.3 .5 -4.2 .5 -5.8 .5 -8.1 .5 -10.7 .5 -12.4 .5 -11.1 .5 -6.8 .5 -1.7 .5 2.8 .5 6.4 .5 9.1 .5 11.4 .5 14.4 .5 19.5 .5 24.8 .5 -36.9 .5 -12.3 .5 -15.1 .5 -16.2 .5 -14.9 .5 -11.5 .5 -6.3 .5 -.3 .5 4.9 .5 7.8 .5 9.9 .5 12.2 .5 12.9 .5 10 .5 6.6 .5 6.7 .5 10.1 .5 12.9 .5 14.7 .5 17 .5 13.9 .5 -2.9 .5 -18.2 .5 -22.1 .5 -21.3 .5 -19.4 .5 -17.4 .5 -15.4 .5 -13.6 .5 -11.8 .5 -10.2 .5 -8.7 .5 -7.3 .5 -6.1 .5 -4.9 .5 -3.8 .5 -3 .5 -2.2 .5 -1.5 .5 -1 .5 -.5 .5 -.3 .5 -.1 .5 0 .5 .1 .5 .3 .5 .5 .5 1 .5 1.5 .5 2.2 .5 2.9 .5 3.9 .5 4.9 .5 6.1 .5 7.3 .5 8.7 .5 10.2 .5 11.9 .5 13.6 .5 15.5 .5 17.4 .5 19.6 .5 21.5 .5 23.3 .5 22.8 .5 14.9 .5 -2.6 .5 -14 .5 -13.4 .5 -9.5 .5 -7.7 .5 -9.7 .5 -13.4 .5 -15.3 .5 -14.2 .5 -11.1 .5 -7.1 .5 -2.4 .5 2.1 .5 4.1 .5 3.7 .5 4 .5 5.2 .5 7.5 .5 11.1 .5 14.6 .5 16.8 .5 -37.6 .5 -18.7 .5 -13.8 .5 -9.5 .5 -7.3 .5 -6.5 .5 -5.1 .5 -2.7 .5 .2 .5 3.8 .5 8.1 .5 11.5 .5 13.5 .5 13.9 .5 12.4 .5 10.1 .5 9.1 .5 10.4 .5 13.3 .5 15.9 .5 13.7 .5 .9 .5 -15.1 .5 -21.8 .5 -22 .5 -20.2 .5 -18.2 .5 -16.2 .5 -14.3 .5 -12.5 .5 -10.8 .5 -9.3 .5 -7.8 .5 -6.6 .5 -5.3 .5 -4.3 .5 -3.3 .5 -2.5 .5 -1.8 .5 -1.2 .5 -.7 .5 -.3 .5 -.1 .5 -.1 .5 .1 .5 .1 .5 .4 .5 .8 .5 1.3 .5 1.9 .5 2.6 .5 3.5 .5 4.5 .5 5.6 .5 6.8 .5 8.1 .5 9.7 .5 11.1 .5 12.9 .5 14.8 .5 16.6 .5 18.7 .5 20.8 .5 22.6 .5 22.8 .5 15.5 .5 -3.1 .5 -15.6 .5 -15.3 .5 -10.1 .5 -5.7 .5 -5.5 .5 -8.4 .5 -10.7 .5 -11 .5 -10.3 .5 -9.3 .5 -6.7 .5 -2.4 .5 1.2 .5 2.5 .5 3.8 .5 6.6 .5 10.2 .5 12.4 .5 13.5 .5 15.8 .5 5.6 .5 -17.3 .5 -14 .5 -13.4 .5 -13.1 .5 -10.6 .5 -8 .5 -5.4 .5 -2.4 .5 .8 .5 1.8 .5 2.1 .5 4.8 .5 9.3 .5 12.4 .5 11.5 .5 6.9 .5 3.2 .5 4 .5 9.1 .5 16.3 .5 21.9 .5 13.7 .5 -10 .5 -21.6 .5 -22.2 .5 -20.5 .5 -18.5 .5 -16.4 .5 -14.6 .5 -12.7 .5 -11.1 .5 -9.5 .5 -8 .5 -6.8 .5 -5.5 .5 -4.4 .5 -3.4 .5 -2.6 .5 -1.9 .5 -1.2 .5 -.8 .5 -.4 .5 -.1 .5 -.1 .5 .1 .5 .1 .5 .4 .5 .7 .5 1.2 .5 1.8 .5 2.5 .5 3.4 .5 4.3 .5 5.5 .5 6.6 .5 7.9 .5 9.4 .5 11 .5 12.7 .5 14.4 .5 16.4 .5 18.4 .5 20.4 .5 21.9 .5 19.5 .5 4.8 .5 -16.2 .5 -22 .5 -17.1 .5 -10 .5 -4.1 .5 -.1 .5 1.7 .5 .3 .5 -3.9 .5 -7.6 .5 -8.3 .5 -6.9 .5 -4 .5 .1 .5 4.4 .5 6.9 .5 7.5 .5 7.9 .5 10.5 .5 15.2 .5 20.3 .5 24.2 .5 -39.6 .5 -19.1 .5 -18.4 .5 -15.2 .5 -10.9 .5 -7.8 .5 -6.5 .5 -4.7 .5 -2.2 .5 -.6 .5 1.3 .5 5.5 .5 10.3 .5 13.3 .5 12.7 .5 9.1 .5 6.1 .5 6.6 .5 10.5 .5 15.5 .5 19.3 .5 19 .5 7.1 .5 -13.4 .5 -22 .5 -22.1 .5 -20.2 .5 -18.3 .5 -16.2 .5 -14.3 .5 -12.6 .5 -10.9 .5 -9.3 .5 -7.9 .5 -6.5 .5 -5.4 .5 -4.3 .5 -3.3 .5 -2.6 .5 -1.7 .5 -1.2 .5 -.7 .5 -.4 .5 -.1 .5 -.1 .5 .1 .5 .1 .5 .4 .5 .8 .5 1.3 .5 1.9 .5 2.6 .5 3.4 .5 4.5 .5 5.6 .5 6.7 .5 8.1 .5 9.6 .5 11.2 .5 12.8 .5 14.7 .5 16.6 .5 18.6 .5 20.7 .5 22.5 .5 22.3 .5 13.2 .5 -7.7 .5 -18.2 .5 -16.4 .5 -12.7 .5 -9.6 .5 -7.2 .5 -6.8 .5 -8.6 .5 -10.8 .5 -11.3 .5 -10.7 .5 -8.7 .5 -5.2 .5 -1.1 .5 2.3 .5 4.8 .5 6.6 .5 9.1 .5 12.8 .5 17.7 .5 23.9 .5 29.6 .5 13.3 .5 -23.2 .5 -26.9 .5 -22.3 .5 -15.6 .5 -10.8 .5 -8 .5 -6.1 .5 -4.1 .5 -2.2 .5 -.5 .5 1.9 .5 4.7 .5 7 .5 8.7 .5 10.2 .5 11.5 .5 12.9 .5 14.9 .5 17 .5 17.3 .5 16.6 .5 11.2 .5 -5.2 .5 -19.3 .5 -22.5 .5 -21.5 .5 -19.5 .5 -17.5 .5 -15.5 .5 -13.7 .5 -12 .5 -10.3 .5 -8.8 .5 -7.4 .5 -6.1 .5 -5 .5 -3.9 .5 -3 .5 -2.3 .5 -1.5 .5 -1 .5 -.6 .5 -.3 .5 0 .5 -.1 .5 .1 .5 .2 .5 .6 .5 .9 .5 1.5 .5 2.1 .5 2.9 .5 3.8 .5 4.9 .5 5.9 .5 7.3 .5 8.6 .5 10.1 .5 11.8 .5 13.5 .5 15.3 .5 17.3 .5 19.4 .5 21.4 .5 22.8 .5 21 .5 10.1 .5 -5 .5 -13.8 .5 -17.6 .5 -15.7 .5 -10.2 .5 -6.7 .5 -6.6 .5 -7.4 .5 -6.9 .5 -6.3 .5 -5.6 .5 -2.9 .5 .8 .5 2.4 .5 .6 .5 .9 .5 5.6 .5 12 .5 16.4 .5 16.8 .5 16 .5 18.1 .5 -26.4 .5 -20.9 .5 -18.6 .5 -18.4 .5 -17.9 .5 -15 .5 -10.5 .5 -6.3 .5 -4 .5 -2.2 .5 1.4 .5 5.7 .5 9 .5 11.2 .5 13.1 .5 13.7 .5 11 .5 6.1 .5 3.6 .5 6.4 .5 13.4 .5 20.9 .5 22.5 .5 8.5 .5 -12.4 .5 -21.3 .5 -21.9 .5 -20.3 .5 -18.4 .5 -16.3 .5 -14.4 .5 -12.7 .5 -10.9 .5 -9.4 .5 -8 .5 -6.6 .5 -5.5 .5 -4.3 .5 -3.4 .5 -2.5 .5 -1.9 .5 -1.2 .5 -.7 .5 -.4 .5 -.1 .5 -.1 .5 .1 .5 .1 .5 .4 .5 .8 .5 1.2 .5 1.8 .5 2.6 .5 3.4 .5 4.4 .5 5.5 .5 6.7 .5 8.1 .5 9.5 .5 11 .5 12.8 .5 14.6 .5 16.5 .5 18.5 .5 20.6 .5 22.3 .5 22.3 .5 15.3 .5 -1.2 .5 -14.4 .5 -15.8 .5 -11.4 .5 -6.5 .5 -3.2 .5 -2.1 .5 -4.7 .5 -8.7 .5 -10.4 .5 -8.4 .5 -4.2 .5 -.7 .5 .3 .5 -.3 .5 -.7 .5 1.7 .5 6 .5 10.2 .5 13.9 .5 18.4 .5 22.5 .5 24.9 .5 -9.1 .5 -19.5 .5 -18.5 .5 -19.1 .5 -17.9 .5 -13.4 .5 -8 .5 -5.1 .5 -5.5 .5 -5.7 .5 -2.7 .5 2.2 .5 7.1 .5 10.1 .5 9.9 .5 6.7 .5 2.5 .5 .7 .5 3.1 .5 8 .5 12.9 .5 15.7 .5 16.6 .5 12.4 .5 -4.5 .5 -19.4 .5 -22.1 .5 -20.7 .5 -18.7 .5 -16.7 .5 -14.8 .5 -13 .5 -11.2 .5 -9.7 .5 -8.2 .5 -6.9 .5 -5.6 .5 -4.6 .5 -3.5 .5 -2.7 .5 -2 .5 -1.3 .5 -.8 .5 -.4 .5 -.2 .5 -.1 .5 .1 .5 .1 .5 .3 .5 .7 .5 1.1 .5 1.7 .5 2.5 .5 3.2 .5 4.2 .5 5.3 .5 6.5 .5 7.8 .5 9.2 .5 10.8 .5 12.4 .5 14.2 .5 16.2 .5 18.1 .5 20.1 .5 21.4 .5 18.6 .5 5.6 .5 -9.9 .5 -19.6 .5 -23.5 .5 -18.5 .5 -8.9 .5 -.2 .5 3.2 .5 -.1 .5 -6.9 .5 -11.3 .5 -11.6 .5 -9.2 .5 -5.6 .5 -1.7 .5 1.8 .5 5.6 .5 10.4 .5 15.2 .5 16.4 .5 13.6 .5 12.3 .5 15.1 .5 19.4 .5 23 .5 -15.8 .5 -24.8 .5 -22.4 .5 -17.7 .5 -11.6 .5 -6.7 .5 -3.8 .5 -3.1 .5 -3.1 .5 -3 .5 -1.9 .5 .7 .5 4.8 .5 8.7 .5 10.3 .5 9.4 .5 8.1 .5 8.3 .5 9.4 .5 10.2 .5 11.3 .5 14.9 .5 17.1 .5 8 .5 -11.9 .5 -21.6 .5 -22.4 .5 -20.6 .5 -18.7 .5 -16.6 .5 -14.8 .5 -12.9 .5 -11.2 .5 -9.6 .5 -8.2 .5 -6.9 .5 -5.6 .5 -4.5 .5 -3.5 .5 -2.7 .5 -1.9 .5 -1.3 .5 -.8 .5 -.5 .5 -.1 .5 -.1 .5 .1 .5 .1 .5 .3 .5 .7 .5 1.2 .5 1.7 .5 2.5 .5 3.2 .5 4.3 .5 5.3 .5 6.5 .5 7.8 .5 9.3 .5 10.8 .5 12.5 .5 14.3 .5 16.2 .5 18.1 .5 20.3 .5 21.9 .5 21.7 .5 14.1 .5 -2.6 .5 -13.3 .5 -15.4 .5 -14 .5 -8.3 .5 -1.2 .5 2 .5 -.6 .5 -5.9 .5 -9.5 .5 -9.6 .5 -7.5 .5 -3.9 .5 0 .5 3.3 .5 5.2 .5 6.5 .5 8.9 .5 12.7 .5 17 .5 20.1 .5 20.6 .5 20.1 .5 9.5 .5 -43.5 .5 -26.7 .5 -23.4 .5 -20.3 .5 -18 .5 -15.3 .5 -11.2 .5 -6.8 .5 -3.7 .5 -2.3 .5 -1.6 .5 -.2 .5 3.6 .5 9.5 .5 14 .5 13.5 .5 8.9 .5 4.1 .5 .6 .5 -.3 .5 2.6 .5 8.4 .5 15.7 .5 21.8 .5 18.9 .5 -.7 .5 -17.8 .5 -21.3 .5 -20.1 .5 -18.2 .5 -16.2 .5 -14.3 .5 -12.5 .5 -10.9 .5 -9.3 .5 -7.8 .5 -6.6 .5 -5.3 .5 -4.3 .5 -3.3 .5 -2.5 .5 -1.8 .5 -1.1 .5 -.8 .5 -.3 .5 -.1 .5 -.1 .5 .1 .5 .1 .5 .4 .5 .8 .5 1.3 .5 1.9 .5 2.6 .5 3.5 .5 4.5 .5 5.6 .5 6.8 .5 8.1 .5 9.6 .5 11.2 .5 12.9 .5 14.7 .5 16.7 .5 18.6 .5 20.8 .5 22.5 .5 22.3 .5 13.6 .5 -8.2 .5 -21.3 .5 -19.8 .5 -13.4 .5 -7.6 .5 -4.4 .5 -4.1 .5 -6.2 .5 -8.7 .5 -10 .5 -8.6 .5 -5.3 .5 -2.7 .5 -.9 .5 2.2 .5 6.4 .5 10.1 .5 13.2 .5 17 .5 19.3 .5 18.1 .5 16.6 .5 18.7 .5 23.3 .5 3.5 .5 -21 .5 -22.2 .5 -24 .5 -23.2 .5 -20.3 .5 -16.7 .5 -12.4 .5 -7.2 .5 -1.7 .5 3 .5 5.1 .5 3.7 .5 2.3 .5 4.4 .5 8.1 .5 10.2 .5 7.9 .5 2.4 .5 -1.4 .5 .8 .5 7.4 .5 15.6 .5 21.9 .5 19.4 .5 .3 .5 -17.8 .5 -22.3 .5 -21.3 .5 -19.4 .5 -17.3 .5 -15.4 .5 -13.5 .5 -11.8 .5 -10.2 .5 -8.7 .5 -7.2 .5 -6.1 .5 -4.8 .5 -3.9 .5 -3 .5 -2.1 .5 -1.5 .5 -1 .5 -.5 .5 -.3 .5 -.1 .5 .1 .5 0 .5 .3 .5 .5 .5 1 .5 1.5 .5 2.2 .5 3 .5 3.9 .5 4.9 .5 6.1 .5 7.3 .5 8.8 .5 10.3 .5 11.8 .5 13.7 .5 15.5 .5 17.5 .5 19.6 .5 21.5 .5 23 .5 20.6 .5 5.4 .5 -15.1 .5 -19.6 .5 -15.4 .5 -11.2 .5 -8.7 .5 -8.6 .5 -11.2 .5 -14.2 .5 -13.9 .5 -10.9 .5 -7.6 .5 -4.5 .5 -1.1 .5 3.1 .5 6.8 .5 8.1 .5 7.6 .5 8.8 .5 13.1 .5 18.6 .5 21.9 .5 21.5 .5 19.5 .5 20.3 .5 21.2 .5 -23.8 .5 -23.1 .5 -19.9 .5 -17.4 .5 -14.9 .5 -11.8 .5 -9.4 .5 -9.2 .5 -8.1 .5 -4.1 .5 0 .5 1.1 .5 1.3 .5 3.9 .5 7.9 .5 10.5 .5 9.6 .5 6.5 .5 3.4 .5 1.2 .5 1.8 .5 7.6 .5 16 .5 20.8 .5 11.3 .5 -10.3 .5 -21.1 .5 -21.8 .5 -20.2 .5 -18.1 .5 -16.1 .5 -14.3 .5 -12.4 .5 -10.8 .5 -9.3 .5 -7.8 .5 -6.5 .5 -5.3 .5 -4.3 .5 -3.3 .5 -2.5 .5 -1.7 .5 -1.2 .5 -.7 .5 -.3 .5 -.1 .5 -.1 .5 .1 .5 .1 .5 .5 .5 .8 .5 1.3 .5 1.9 .5 2.6 .5 3.5 .5 4.5 .5 5.6 .5 6.9 .5 8.2 .5 9.6 .5 11.2 .5 13 .5 14.8 .5 16.7 .5 18.7 .5 20.8 .5 22.6 .5 23.1 .5 17.4 .5 .4" stroke="#1f77b4"/><path d="M147.0 873.6l.5 14.9 .5 8.4 .5 -7 .5 -19.4 .5 -22.5 .5 -21.5 .5 -19.6 .5 -17.6 .5 -15.6 .5 -13.8 .5 -12 .5 -10.4 .5 -8.9 .5 -7.5 .5 -6.2 .5 -5 .5 -4 .5 -3.1 .5 -2.3 .5 -1.6 .5 -1 .5 -.6 .5 -.3 .5 -.1 .5 0 .5 .1 .5 .2 .5 .5 .5 .9 .5 1.5 .5 2 .5 2.9 .5 3.8 .5 4.7 .5 5.9 .5 7.2 .5 8.5 .5 10.1 .5 11.6 .5 13.4 .5 15.3 .5 17.2 .5 19.2 .5 21.3 .5 22.8 .5 22.4 .5 16.4 .5 5 .5 -4.5 .5 -8.9 .5 -11.5 .5 -14 .5 -14.6 .5 -12.6 .5 -9.9 .5 -9.2 .5 -9.6 .5 -6.7 .5 -1.8 .5 .7 .5 1.2 .5 1.8 .5 3.1 .5 4.8 .5 6.6 .5 3.6 .5 -11.2 .5 -8.9 .5 -7.8 .5 -5.7 .5 -2.3 .5 1.1 .5 3.6 .5 5.4 .5 6.6 .5 6.1 .5 2.9 .5 -1.1 .5 -1.4 .5 2.1 .5 6.1 .5 9.2 .5 12.7 .5 15.4 .5 11.2 .5 -4.4 .5 -17.6 .5 -20.8 .5 -19.8 .5 -17.9 .5 -15.9 .5 -14.1 .5 -12.3 .5 -10.6 .5 -9.1 .5 -7.7 .5 -6.4 .5 -5.2 .5 -4.1 .5 -3.2 .5 -2.4 .5 -1.7 .5 -1.1 .5 -.6 .5 -.4 .5 -.1 .5 0 .5 .1 .5 .2 .5 .4 .5 .9 .5 1.3 .5 2 .5 2.7 .5 3.6 .5 4.7 .5 5.7 .5 7 .5 8.3 .5 9.8 .5 11.4 .5 13.1 .5 15 .5 16.9 .5 18.9 .5 20.9 .5 22.1 .5 20 .5 5.8 .5 -15 .5 -20.1 .5 -14.9 .5 -8.3 .5 -2.8 .5 -.4 .5 -3.6 .5 -9.3 .5 -9.5 .5 -5.7 .5 -7.6 .5 -15.4 .5 -16.3 .5 -9.7 .5 -.2 .5 9.4 .5 16.6 .5 16.2 .5 10.9 .5 22.1 .5 -9 .5 -6.8 .5 -7.1 .5 -6.4 .5 -4.4 .5 -1.4 .5 1.7 .5 4.6 .5 7 .5 8.7 .5 8 .5 3.5 .5 -.9 .5 .8 .5 6.7 .5 13 .5 17.2 .5 16 .5 4.2 .5 -12.4 .5 -20.3 .5 -21 .5 -19.5 .5 -17.5 .5 -15.6 .5 -13.7 .5 -12 .5 -10.3 .5 -8.9 .5 -7.4 .5 -6.2 .5 -5 .5 -3.9 .5 -3.1 .5 -2.2 .5 -1.6 .5 -1 .5 -.6 .5 -.3 .5 -.1 .5 0 .5 .1 .5 .2 .5 .5 .5 1 .5 1.4 .5 2.1 .5 2.9 .5 3.8 .5 4.8 .5 5.9 .5 7.3 .5 8.5 .5 10.1 .5 11.7 .5 13.5 .5 15.3 .5 17.3 .5 19.2 .5 21.2 .5 21.8 .5 18.2 .5 4.9 .5 -12 .5 -18.9 .5 -16 .5 -9.5 .5 -3.4 .5 .1 .5 -.4 .5 -3.9 .5 -7.6 .5 -7.9 .5 -4.7 .5 -2 .5 -1.5 .5 .2 .5 4.9 .5 7.6 .5 4.7 .5 2.5 .5 5.4 .5 -37.7 .5 -11.6 .5 -8 .5 -4.9 .5 -1.8 .5 1.4 .5 3.9 .5 5.4 .5 6.2 .5 7.4 .5 8.7 .5 8.3 .5 5.9 .5 2.8 .5 1.7 .5 4.2 .5 9.7 .5 16.9 .5 23.4 .5 17.9 .5 -7 .5 -20.8 .5 -21.9 .5 -20.5 .5 -18.5 .5 -16.5 .5 -14.7 .5 -12.8 .5 -11.2 .5 -9.5 .5 -8.2 .5 -6.7 .5 -5.6 .5 -4.5 .5 -3.5 .5 -2.6 .5 -1.9 .5 -1.3 .5 -.8 .5 -.4 .5 -.1 .5 -.1 .5 0 .5 .2 .5 .3 .5 .7 .5 1.2 .5 1.8 .5 2.5 .5 3.3 .5 4.3 .5 5.3 .5 6.6 .5 7.9 .5 9.3 .5 10.9 .5 12.5 .5 14.4 .5 16.3 .5 18.2 .5 20.3 .5 22.1 .5 22.3 .5 17 .5 2.1 .5 -12.7 .5 -16.6 .5 -14.6 .5 -12.3 .5 -12 .5 -15.1 .5 -18.8 .5 -18.4 .5 -13.1 .5 -6.6 .5 -1.7 .5 .6 .5 1.4 .5 1.9 .5 3.2 .5 5.6 .5 7.3 .5 7.2 .5 8.5 .5 34 .5 -9.7 .5 -6.6 .5 -6.5 .5 -5.5 .5 -2.3 .5 1.6 .5 4.5 .5 6.6 .5 8.4 .5 9.5 .5 8.5 .5 5.8 .5 2.3 .5 .8 .5 3.4 .5 8 .5 11.3 .5 11.7 .5 7.4 .5 -4.8 .5 -17.1 .5 -21.2 .5 -20.7 .5 -18.9 .5 -16.9 .5 -15 .5 -13.2 .5 -11.5 .5 -9.8 .5 -8.4 .5 -7 .5 -5.8 .5 -4.7 .5 -3.7 .5 -2.8 .5 -2 .5 -1.4 .5 -.8 .5 -.5 .5 -.2 .5 -.1 .5 0 .5 .1 .5 .3 .5 .7 .5 1 .5 1.7 .5 2.3 .5 3.2 .5 4.1 .5 5.1 .5 6.3 .5 7.6 .5 9.1 .5 10.6 .5 12.2 .5 14 .5 15.9 .5 17.9 .5 19.8 .5 21.4 .5 20.1 .5 11.8 .5 -2.6 .5 -12 .5 -13.8 .5 -11.6 .5 -8.7 .5 -7.3 .5 -8.8 .5 -11 .5 -11.9 .5 -10.6 .5 -8 .5 -4.8 .5 -1.7 .5 .6 .5 2.3 .5 3.5 .5 3.6 .5 4.3 .5 8.2 .5 13.9 .5 -8.1 .5 -12.7 .5 -13.6 .5 -10.5 .5 -3.6 .5 3.4 .5 5.7 .5 1.9 .5 -.8 .5 1.3 .5 4.7 .5 7.8 .5 10.7 .5 13.9 .5 16.3 .5 16.9 .5 16.1 .5 15.2 .5 14.5 .5 11.9 .5 .7 .5 -15 .5 -21.9 .5 -22.4 .5 -20.7 .5 -18.7 .5 -16.7 .5 -14.8 .5 -13 .5 -11.2 .5 -9.7 .5 -8.3 .5 -6.9 .5 -5.6 .5 -4.6 .5 -3.5 .5 -2.7 .5 -2 .5 -1.3 .5 -.8 .5 -.5 .5 -.1 .5 -.1 .5 0 .5 .2 .5 .3 .5 .7 .5 1.1 .5 1.7 .5 2.4 .5 3.3 .5 4.2 .5 5.3 .5 6.4 .5 7.8 .5 9.2 .5 10.7 .5 12.5 .5 14.2 .5 16.1 .5 18.1 .5 20.1 .5 21.7 .5 21.4 .5 17.2 .5 7.1 .5 -7.8 .5 -16 .5 -15.2 .5 -13.3 .5 -11.3 .5 -8.3 .5 -5.2 .5 -3 .5 -1.5 .5 -1.9 .5 -3.9 .5 -4.4 .5 -1.8 .5 1.7 .5 3.5 .5 2.9 .5 1.8 .5 3.7 .5 9 .5 -4.3 .5 -11 .5 -8.9 .5 -8.3 .5 -7 .5 -3.8 .5 -1 .5 .8 .5 2.5 .5 5.4 .5 8.1 .5 9.1 .5 8.6 .5 8.6 .5 8.2 .5 6.2 .5 5.8 .5 10 .5 16.5 .5 19.3 .5 10.4 .5 -8.6 .5 -20.2 .5 -22.7 .5 -21.8 .5 -19.9 .5 -17.9 .5 -15.9 .5 -14.1 .5 -12.2 .5 -10.7 .5 -9 .5 -7.7 .5 -6.4 .5 -5.2 .5 -4.1 .5 -3.2 .5 -2.4 .5 -1.7 .5 -1.1 .5 -.6 .5 -.4 .5 -.1 .5 0 .5 .1 .5 .2 .5 .4 .5 .9 .5 1.3 .5 2 .5 2.8 .5 3.6 .5 4.6 .5 5.7 .5 7 .5 8.3 .5 9.9 .5 11.4 .5 13.1 .5 15 .5 16.9 .5 19 .5 20.9 .5 22.4 .5 21 .5 11.1 .5 -6.3 .5 -16.7 .5 -17.2 .5 -13 .5 -7.5 .5 -2.5 .5 -.6 .5 -4.9 .5 -11.7 .5 -13 .5 -8.8 .5 -2.5 .5 3 .5 4.1 .5 .6 .5 -2.6 .5 -1.4 .5 3.6 .5 9.8 .5 13.9 .5 7.2 .5 -16.2 .5 -10.6 .5 -3.5 .5 -.3 .5 -5 .5 -10.2 .5 -8.5 .5 -2.6 .5 4.4 .5 10.5 .5 13.1 .5 10.1 .5 2.9 .5 -3.3 .5 -5.2 .5 -2.4 .5 3.3 .5 10.1 .5 14.8 .5 16.3 .5 14.7 .5 5.4 .5 -10.8 .5 -19.5 .5 -20 .5 -18.5 .5 -16.5 .5 -14.6 .5 -12.8 .5 -11.1 .5 -9.6 .5 -8.1 .5 -6.7 .5 -5.6 .5 -4.4 .5 -3.5 .5 -2.6 .5 -1.9 .5 -1.3 .5 -.8 .5 -.4 .5 -.1 .5 -.1 .5 0 .5 .2 .5 .3 .5 .7 .5 1.2 .5 1.8 .5 2.5 .5 3.4 .5 4.2 .5 5.4 .5 6.6 .5 7.9 .5 9.4 .5 10.9 .5 12.6 .5 14.4 .5 16.3 .5 18.2 .5 20.2 .5 21 .5 17.4 .5 3.8 .5 -9.8 .5 -11.7 .5 -10.1 .5 -10.5 .5 -9.6 .5 -7.6 .5 -8.3 .5 -11.7 .5 -13.3 .5 -12.9 .5 -11.5 .5 -8.9 .5 -5.5 .5 -1.8 .5 1.2 .5 4.6 .5 9.5 .5 14.2 .5 14.6 .5 10.8 .5 9.2 .5 24.4 .5 -17.5 .5 -12.3 .5 -7.5 .5 -3.7 .5 -.3 .5 3.7 .5 7.3 .5 5.8 .5 -1.4 .5 -2.8 .5 2.5 .5 7.2 .5 6.3 .5 1.5 .5 -1.1 .5 .6 .5 4.2 .5 9.2 .5 14.7 .5 18.3 .5 13.9 .5 -3.2 .5 -17.9 .5 -21.4 .5 -20.5 .5 -18.6 .5 -16.6 .5 -14.6 .5 -12.9 .5 -11.2 .5 -9.6 .5 -8.1 .5 -6.8 .5 -5.6 .5 -4.5 .5 -3.5 .5 -2.7 .5 -1.9 .5 -1.3 .5 -.8 .5 -.4 .5 -.1 .5 -.1 .5 0 .5 .2 .5 .3 .5 .7 .5 1.2 .5 1.7 .5 2.5 .5 3.3 .5 4.3 .5 5.3 .5 6.6 .5 7.8 .5 9.3 .5 10.9 .5 12.5 .5 14.3 .5 16.3 .5 18.2 .5 20.3 .5 22.2 .5 22.9 .5 19 .5 5.2 .5 -9.1 .5 -11.6 .5 -9.6 .5 -9.8 .5 -11.8 .5 -12.8 .5 -12.6 .5 -11.3 .5 -9.1 .5 -6.4 .5 -2.9 .5 1.1 .5 3.6 .5 1.2 .5 -2.1 .5 -.3 .5 5.5 .5 11.5 .5 15.7 .5 17.3 .5 6.5 .5 -19.6 .5 -17.7 .5 -13.6 .5 -9 .5 -5.4 .5 -4.2 .5 -4.8 .5 -4.8 .5 -1.5 .5 4.2 .5 9.3 .5 11.9 .5 12.8 .5 13.5 .5 12.9 .5 9.8 .5 4.8 .5 2.7 .5 6 .5 10.1 .5 10.2 .5 2.2 .5 -11.4 .5 -20.1 .5 -21.4 .5 -20.1 .5 -18.1 .5 -16.1 .5 -14.3 .5 -12.5 .5 -10.8 .5 -9.2 .5 -7.8 .5 -6.5 .5 -5.4 .5 -4.2 .5 -3.3 .5 -2.5 .5 -1.7 .5 -1.2 .5 -.7 .5 -.3 .5 -.2 .5 0 .5 .1 .5 .1 .5 .4 .5 .8 .5 1.3 .5 1.9 .5 2.7 .5 3.5 .5 4.5 .5 5.6 .5 6.9 .5 8.1 .5 9.7 .5 11.2 .5 13 .5 14.7 .5 16.7 .5 18.7 .5 20.7 .5 21.8 .5 18.8 .5 7.1 .5 -6.6 .5 -12.4 .5 -12.2 .5 -9 .5 -6.5 .5 -6.2 .5 -5.4 .5 -4 .5 -3.5 .5 -4.5 .5 -6.4 .5 -7.1 .5 -5.2 .5 -1.6 .5 2.8 .5 7.3 .5 10 .5 10.5 .5 11.1 .5 13.3 .5 15 .5 15.7 .5 -43.9 .5 -16.3 .5 -12.5 .5 -9.1 .5 -5.4 .5 -1.2 .5 -.7 .5 -5.5 .5 -8.2 .5 -4.5 .5 .9 .5 4.9 .5 6.7 .5 7.1 .5 6.4 .5 3.9 .5 2 .5 2.8 .5 6.7 .5 11.2 .5 16.1 .5 19.1 .5 9.9 .5 -9.5 .5 -19.2 .5 -20.4 .5 -19 .5 -17.1 .5 -15.2 .5 -13.4 .5 -11.6 .5 -10.1 .5 -8.5 .5 -7.2 .5 -5.9 .5 -4.8 .5 -3.7 .5 -2.9 .5 -2.1 .5 -1.5 .5 -.9 .5 -.5 .5 -.2 .5 -.1 .5 0 .5 .1 .5 .3 .5 .6 .5 1 .5 1.6 .5 2.2 .5 3.1 .5 4 .5 5 .5 6.2 .5 7.5 .5 8.9 .5 10.4 .5 12 .5 13.9 .5 15.7 .5 17.6 .5 19.7 .5 21.5 .5 21.5 .5 15.9 .5 2.5 .5 -10.4 .5 -17.1 .5 -18 .5 -14.7 .5 -10.5 .5 -8 .5 -8.9 .5 -11.7 .5 -12.7 .5 -11 .5 -8.5 .5 -5 .5 0 .5 4.4 .5 5.8 .5 5.6 .5 7.2 .5 10.5 .5 12.6 .5 13.1 .5 14.2 .5 6.6 .5 -19.1 .5 -15.8 .5 -13.4 .5 -11.8 .5 -10.2 .5 -9.5 .5 -8.3 .5 -4 .5 2.3 .5 7.6 .5 9 .5 8 .5 7.7 .5 9.4 .5 11.3 .5 11.3 .5 11.1 .5 12.2 .5 14 .5 14.9 .5 14.8 .5 11.5 .5 -.2 .5 -14.8 .5 -21.2 .5 -21.3 .5 -19.7 .5 -17.6 .5 -15.7 .5 -13.9 .5 -12 .5 -10.5 .5 -8.9 .5 -7.5 .5 -6.2 .5 -5.1 .5 -4 .5 -3.1 .5 -2.3 .5 -1.6 .5 -1.1 .5 -.6 .5 -.3 .5 -.1 .5 0 .5 .1 .5 .2 .5 .5 .5 .9 .5 1.4 .5 2.1 .5 2.8 .5 3.8 .5 4.7 .5 5.9 .5 7.1 .5 8.5 .5 10 .5 11.6 .5 13.3 .5 15.2 .5 17.2 .5 19.2 .5 21.1 .5 22.2 .5 20 .5 9.1 .5 -6.5 .5 -13.3 .5 -12.6 .5 -10.8 .5 -11.6 .5 -15.8 .5 -19.4 .5 -17.9 .5 -13 .5 -8.1 .5 -5 .5 -3.7 .5 -2.6 .5 -1.3 .5 .1 .5 .7 .5 2.8 .5 7.9 .5 15.1 .5 20.6 .5 22.4 .5 21 .5 2.7 .5 -18.2 .5 -12.5 .5 -7.9 .5 -9.8 .5 -15.4 .5 -15.4 .5 -9.1 .5 -1.7 .5 3.4 .5 5.2 .5 5.2 .5 4.9 .5 6.1 .5 9 .5 11.4 .5 11.1 .5 9.8 .5 10.8 .5 15.3 .5 21.4 .5 21.4 .5 8.1 .5 -8.7 .5 -18.8 .5 -22 .5 -21.5 .5 -19.7 .5 -17.7 .5 -15.8 .5 -13.8 .5 -12.2 .5 -10.4 .5 -9 .5 -7.5 .5 -6.3 .5 -5.1 .5 -4 .5 -3.2 .5 -2.3 .5 -1.6 .5 -1.1 .5 -.6 .5 -.3 .5 -.1 .5 0 .5 .1 .5 .2 .5 .5 .5 .9 .5 1.4 .5 2 .5 2.8 .5 3.7 .5 4.8 .5 5.8 .5 7.1 .5 8.5 .5 9.9 .5 11.6 .5 13.3 .5 15.1 .5 17.1 .5 19.1 .5 21.1 .5 22.3 .5 21.6 .5 16.2 .5 .9 .5 -21.5 .5 -27.2 .5 -20.4 .5 -14.1 .5 -12 .5 -11.7 .5 -10.1 .5 -7.3 .5 -6.4 .5 -7.8 .5 -7.8 .5 -4.9 .5 -.7 .5 3.5 .5 7 .5 9 .5 9.1 .5 9.4 .5 12.2 .5 16.7 .5 20 .5 67.8 .5 -22.6 .5 -22 .5 -18.2 .5 -13.4 .5 -10.5 .5 -10.2 .5 -9.5 .5 -6.4 .5 -2.4 .5 1.4 .5 3.5 .5 3.6 .5 4.2 .5 6 .5 8 .5 8.7 .5 8.2 .5 7.8 .5 9 .5 10.9 .5 11.7 .5 11.3 .5 6.7 .5 -6.5 .5 -18.4 .5 -22 .5 -21.2 .5 -19.3 .5 -17.3 .5 -15.3 .5 -13.6 .5 -11.7 .5 -10.2 .5 -8.6 .5 -7.3 .5 -6 .5 -4.9 .5 -3.8 .5 -3 .5 -2.2 .5 -1.5 .5 -.9 .5 -.6 .5 -.2 .5 -.1 .5 0 .5 .1 .5 .3 .5 .5 .5 1 .5 1.5 .5 2.2 .5 3 .5 3.9 .5 5 .5 6 .5 7.4 .5 8.8 .5 10.2 .5 12 .5 13.6 .5 15.6 .5 17.5 .5 19.5 .5 21.5 .5 22.4 .5 19.9 .5 8.7 .5 -7 .5 -14.8 .5 -15.6 .5 -12.9 .5 -9.8 .5 -8.9 .5 -11.3 .5 -13.5 .5 -12.9 .5 -9.3 .5 -4.3 .5 2.4 .5 9.2 .5 12 .5 6.7 .5 1 .5 1.4 .5 4.8 .5 9.8 .5 14.2 .5 16 .5 16.7 .5 18.8 .5 -24.4 .5 -22 .5 -20.3 .5 -17.1 .5 -14 .5 -10.4 .5 -6.6 .5 -3.7 .5 -2.3 .5 -1.5 .5 0 .5 2.2 .5 4.9 .5 7.3 .5 7.5 .5 4.4 .5 .3 .5 -1.4 .5 .1 .5 3.7 .5 8.9 .5 15.9 .5 23 .5 22 .5 3.7 .5 -14.9 .5 -20.4 .5 -20.1 .5 -18.4 .5 -16.5 .5 -14.6 .5 -12.7 .5 -11.1 .5 -9.5 .5 -8.1 .5 -6.7 .5 -5.5 .5 -4.4 .5 -3.5 .5 -2.6 .5 -1.9 .5 -1.2 .5 -.8 .5 -.4 .5 -.1 .5 -.1 .5 .1 .5 .1 .5 .3 .5 .8 .5 1.2 .5 1.8 .5 2.5 .5 3.3 .5 4.4 .5 5.4 .5 6.6 .5 7.9 .5 9.4 .5 11 .5 12.6 .5 14.4 .5 16.4 .5 18.4 .5 20.3 .5 21.8 .5 20.7 .5 11.2 .5 -6.6 .5 -15.5 .5 -14.6 .5 -12.3 .5 -10.2 .5 -7.8 .5 -5.9 .5 -5.8 .5 -7.9 .5 -9.4 .5 -7.1 .5 -3 .5 -1.9 .5 -4.1 .5 -3.7 .5 1.2 .5 7.1 .5 10.9 .5 13.1 .5 14.5 .5 15.5 .5 15.9 .5 17.5 .5 21.2 .5 -2.3 .5 -17.8 .5 -19.3 .5 -21.4 .5 -19.9 .5 -15.2 .5 -9.4 .5 -3.8 .5 1.1 .5 4 .5 3.5 .5 1.6 .5 1.5 .5 2.9 .5 4 .5 2.9 .5 -.6 .5 -4 .5 -3.8 .5 -.1 .5 5.5 .5 10.5 .5 14.5 .5 18.2 .5 16.8 .5 .4 .5 -16.2 .5 -20 .5 -19.1 .5 -17.1 .5 -15.3 .5 -13.4 .5 -11.7 .5 -10.1 .5 -8.6 .5 -7.2 .5 -5.9 .5 -4.8 .5 -3.8 .5 -2.9 .5 -2.1 .5 -1.5 .5 -1 .5 -.5 .5 -.2 .5 -.1 .5 0 .5 .1 .5 .3 .5 .6 .5 1 .5 1.5 .5 2.3 .5 3 .5 4 .5 4.9 .5 6.2 .5 7.4 .5 8.9 .5 10.3 .5 12 .5 13.8 .5 15.6 .5 17.6 .5 19.7 .5 21.6 .5 22.7 .5 20 .5 7.1 .5 -10.1 .5 -16 .5 -15.1 .5 -13.5 .5 -12.2 .5 -11 .5 -10.2 .5 -9.4 .5 -8.4 .5 -7.9 .5 -8 .5 -6.6 .5 -3.5 .5 -.8 .5 1.7 .5 4.6 .5 6.9 .5 8.9 .5 12.1 .5 17 .5 21.1 .5 21.4 .5 19 .5 42.3 .5 -23.1 .5 -18.7 .5 -14.7 .5 -11.5 .5 -8.1 .5 -6.4 .5 -7.3 .5 -6.9 .5 -4.4 .5 -2.9 .5 -3.1 .5 -1.2 .5 3.2 .5 7.1 .5 7.7 .5 5.8 .5 4.5 .5 3.9 .5 3.7 .5 4.6 .5 7.5 .5 11.2 .5 13 .5 8.1 .5 -5.2 .5 -17.6 .5 -21.8 .5 -21.3 .5 -19.6 .5 -17.5 .5 -15.6 .5 -13.7 .5 -12 .5 -10.4 .5 -8.8 .5 -7.4 .5 -6.2 .5 -5 .5 -3.9 .5 -3.1 .5 -2.2 .5 -1.6 .5 -1 .5 -.6 .5 -.3 .5 -.1 .5 0 .5 .1 .5 .2 .5 .5 .5 1 .5 1.4 .5 2.1 .5 2.9 .5 3.8 .5 4.8 .5 6 .5 7.2 .5 8.5 .5 10.1 .5 11.7 .5 13.5 .5 15.3 .5 17.3 .5 19.3 .5 21.2 .5 22 .5 18.2 .5 5.2 .5 -7.7 .5 -11.4 .5 -12.9 .5 -16.2 .5 -17.9 .5 -16.1 .5 -13.1 .5 -10.4 .5 -7.7 .5 -4.9 .5 -3.4 .5 -2.3 .5 1.3 .5 5.5 .5 2.2 .5 -5.7 .5 -4.1 .5 4.3 .5 12.2 .5 16.4 .5 17.6 .5 19.4 .5 21.6 .5 22.2 .5 16.9 .5 -26.9 .5 -24.8 .5 -20.4 .5 -15.7 .5 -11.7 .5 -9.3 .5 -8.3 .5 -7.9 .5 -6.3 .5 -2.9 .5 1.3 .5 4.2 .5 6.3 .5 8.6 .5 10.4 .5 8.2 .5 3.2 .5 .7 .5 3.3 .5 9.1 .5 16.3 .5 22.8 .5 23.7 .5 11.5 .5 -5.8 .5 -16.9 .5 -21.1 .5 -21.1 .5 -19.5 .5 -17.5 .5 -15.5 .5 -13.7 .5 -12 .5 -10.3 .5 -8.8 .5 -7.4 .5 -6.2 .5 -4.9 .5 -4 .5 -3 .5 -2.3 .5 -1.5 .5 -1 .5 -.6 .5 -.3 .5 -.1 .5 0 .5 .1 .5 .2 .5 .5 .5 1 .5 1.4 .5 2.2 .5 2.9 .5 3.8 .5 4.8 .5 6 .5 7.2 .5 8.6 .5 10.1 .5 11.7 .5 13.5 .5 15.3 .5 17.3 .5 19.4 .5 21.2 .5 22.8 .5 21.5 .5 9.2 .5 -14 .5 -22.3 .5 -18.4 .5 -12.8 .5 -9.8 .5 -10.6 .5 -13.3 .5 -14.4 .5 -12.1 .5 -8.4 .5 -5.5 .5 -4.9 .5 -4.2 .5 -2.9 .5 -.8 .5 2.3 .5 6.4 .5 10 .5 13.1 .5 16 .5 17.7 .5 18 .5 18.8 .5 22 .5 54.7 .5 -10.8 .5 -17.2 .5 -17.6 .5 -18.1 .5 -16.6 .5 -12.3 .5 -5 .5 2.4 .5 .9 .5 -11.3 .5 -13.4 .5 -5.8 .5 2.1 .5 8.3 .5 13.3 .5 15.1 .5 6.6 .5 -9.3 .5 -14 .5 -8 .5 1.3 .5 9 .5 13.6" stroke="#ff7f0e"/><path d="M147.0 752.6l.5 1.4 .5 8.1 .5 11 .5 10.2 .5 50.3 .5 -7.6 .5 -4.6 .5 -2.9 .5 -1.9 .5 1.1 .5 5.5 .5 8.9 .5 9.1 .5 6.6 .5 2.1 .5 -1.1 .5 -.4 .5 2.5 .5 5.3 .5 7.9 .5 11.8 .5 13.8 .5 3.9 .5 -13.8 .5 -21.8 .5 -22.2 .5 -20.6 .5 -18.6 .5 -16.6 .5 -14.6 .5 -12.9 .5 -11.1 .5 -9.6 .5 -8.2 .5 -6.7 .5 -5.6 .5 -4.5 .5 -3.5 .5 -2.6 .5 -1.9 .5 -1.3 .5 -.8 .5 -.4 .5 -.2 .5 0 .5 0 .5 .1 .5 .4 .5 .7 .5 1.2 .5 1.7 .5 2.5 .5 3.3 .5 4.3 .5 5.3 .5 6.6 .5 7.9 .5 9.3 .5 10.9 .5 12.5 .5 14.4 .5 16.2 .5 18.3 .5 20.3 .5 22.3 .5 22.6 .5 15.7 .5 -3.2 .5 -16.3 .5 -16.8 .5 -12 .5 -6.6 .5 -4.8 .5 -8.3 .5 -13.6 .5 -15.8 .5 -14.3 .5 -11.7 .5 -9.1 .5 -6.1 .5 -2.3 .5 .9 .5 1.9 .5 2.3 .5 5.1 .5 9.8 .5 13.9 .5 -4 .5 -2.1 .5 -1.7 .5 -.9 .5 1.7 .5 5.1 .5 8.6 .5 12.4 .5 15.8 .5 15.6 .5 9.5 .5 1.8 .5 -1.2 .5 2.2 .5 9.8 .5 17.4 .5 18.9 .5 6.5 .5 -13 .5 -22.3 .5 -23 .5 -21.3 .5 -19.2 .5 -17.2 .5 -15.2 .5 -13.4 .5 -11.7 .5 -10.1 .5 -8.5 .5 -7.2 .5 -6 .5 -4.8 .5 -3.8 .5 -2.9 .5 -2.1 .5 -1.5 .5 -.9 .5 -.5 .5 -.3 .5 0 .5 0 .5 .1 .5 .2 .5 .6 .5 1 .5 1.6 .5 2.2 .5 3.1 .5 3.9 .5 5 .5 6.2 .5 7.4 .5 8.9 .5 10.4 .5 12 .5 13.7 .5 15.7 .5 17.6 .5 19.7 .5 21.8 .5 23.3 .5 21.8 .5 11.5 .5 -4.8 .5 -13.6 .5 -13.4 .5 -8.6 .5 -3.5 .5 -1.6 .5 -4.8 .5 -9.6 .5 -11.9 .5 -11.5 .5 -11.1 .5 -8.8 .5 -3.4 .5 2.4 .5 6.1 .5 5.8 .5 3.2 .5 3.5 .5 -23.6 .5 -12.3 .5 -7.6 .5 -3.3 .5 -.4 .5 1.3 .5 3.4 .5 6.8 .5 8.9 .5 7.4 .5 5.7 .5 7 .5 9 .5 9.4 .5 9.4 .5 11.3 .5 14.9 .5 18 .5 16.2 .5 3.2 .5 -14.9 .5 -22.6 .5 -22.9 .5 -21.3 .5 -19.2 .5 -17.1 .5 -15.3 .5 -13.4 .5 -11.6 .5 -10.1 .5 -8.5 .5 -7.2 .5 -5.9 .5 -4.8 .5 -3.8 .5 -2.9 .5 -2.1 .5 -1.5 .5 -.9 .5 -.5 .5 -.3 .5 0 .5 0 .5 .1 .5 .2 .5 .6 .5 1 .5 1.6 .5 2.3 .5 3 .5 4 .5 5 .5 6.2 .5 7.4 .5 8.9 .5 10.4 .5 12 .5 13.8 .5 15.7 .5 17.6 .5 19.7 .5 21.6 .5 21.9 .5 14.8 .5 -5.4 .5 -20.5 .5 -20.3 .5 -14.9 .5 -9.3 .5 -4.8 .5 -2.2 .5 -2.9 .5 -6.7 .5 -10.8 .5 -11.9 .5 -9.5 .5 -6.5 .5 -4.9 .5 -2.9 .5 1.2 .5 5 .5 6.9 .5 7.8 .5 9.4 .5 58.2 .5 -9.2 .5 -5.3 .5 -4.8 .5 -5.4 .5 -2.8 .5 2.9 .5 8.3 .5 10.8 .5 10.8 .5 10.6 .5 9.2 .5 5.1 .5 1 .5 .4 .5 4.6 .5 11.4 .5 15.5 .5 8.8 .5 -8.5 .5 -20.8 .5 -23.6 .5 -22.6 .5 -20.6 .5 -18.5 .5 -16.5 .5 -14.7 .5 -12.8 .5 -11.1 .5 -9.5 .5 -8.1 .5 -6.8 .5 -5.5 .5 -4.5 .5 -3.5 .5 -2.6 .5 -1.9 .5 -1.2 .5 -.8 .5 -.4 .5 -.2 .5 0 .5 0 .5 .1 .5 .4 .5 .7 .5 1.2 .5 1.8 .5 2.5 .5 3.3 .5 4.3 .5 5.4 .5 6.6 .5 7.9 .5 9.3 .5 10.9 .5 12.6 .5 14.4 .5 16.3 .5 18.3 .5 20.4 .5 22.3 .5 22.7 .5 16.5 .5 -2.1 .5 -15.8 .5 -15.7 .5 -12.5 .5 -10.6 .5 -9.3 .5 -9.6 .5 -10.9 .5 -12.2 .5 -13.2 .5 -13.4 .5 -11.4 .5 -7 .5 -1.4 .5 3.4 .5 6.3 .5 7.8 .5 7.9 .5 8.4 .5 11.6 .5 14.5 .5 -8.1 .5 -6.5 .5 -5.8 .5 -4.6 .5 -2.9 .5 .2 .5 4.3 .5 8.9 .5 12.8 .5 13.5 .5 9.8 .5 3.8 .5 .3 .5 1.9 .5 7.2 .5 13.3 .5 17.3 .5 16.2 .5 6.7 .5 -10.1 .5 -21 .5 -22.7 .5 -21.3 .5 -19.3 .5 -17.3 .5 -15.2 .5 -13.5 .5 -11.7 .5 -10.1 .5 -8.6 .5 -7.3 .5 -5.9 .5 -4.9 .5 -3.8 .5 -2.9 .5 -2.2 .5 -1.4 .5 -1 .5 -.5 .5 -.2 .5 -.1 .5 0 .5 .1 .5 .2 .5 .6 .5 1 .5 1.5 .5 2.3 .5 3 .5 3.9 .5 5 .5 6.1 .5 7.4 .5 8.8 .5 10.4 .5 11.9 .5 13.8 .5 15.6 .5 17.5 .5 19.7 .5 21.7 .5 23.7 .5 24.5 .5 19.9 .5 4.3 .5 -10.9 .5 -15.4 .5 -15.3 .5 -14.2 .5 -14.9 .5 -17.9 .5 -20 .5 -18.4 .5 -14.4 .5 -10.3 .5 -7.8 .5 -5.4 .5 -2.2 .5 1.6 .5 5.4 .5 8.5 .5 10.3 .5 9.8 .5 37.4 .5 -18.2 .5 -13.2 .5 -7.6 .5 -4 .5 -2.6 .5 -1.1 .5 2.7 .5 7.5 .5 11.2 .5 12.5 .5 12 .5 10.3 .5 5.8 .5 0 .5 -1.9 .5 1.8 .5 8.5 .5 14.9 .5 18.2 .5 12.4 .5 -6.3 .5 -20.3 .5 -22.8 .5 -21.4 .5 -19.4 .5 -17.4 .5 -15.4 .5 -13.6 .5 -11.8 .5 -10.2 .5 -8.7 .5 -7.4 .5 -6 .5 -4.9 .5 -3.9 .5 -3 .5 -2.1 .5 -1.6 .5 -.9 .5 -.6 .5 -.2 .5 -.1 .5 0 .5 .1 .5 .2 .5 .5 .5 1 .5 1.5 .5 2.2 .5 3 .5 3.8 .5 4.9 .5 6.1 .5 7.3 .5 8.7 .5 10.3 .5 11.8 .5 13.6 .5 15.5 .5 17.5 .5 19.5 .5 21.5 .5 23.3 .5 22.9 .5 14.8 .5 -3 .5 -13.8 .5 -13.2 .5 -9.8 .5 -7.4 .5 -8.5 .5 -12 .5 -14.8 .5 -15.6 .5 -15.5 .5 -13.8 .5 -9.3 .5 -3.8 .5 1 .5 3.8 .5 4.9 .5 5.1 .5 6.8 .5 10.3 .5 14.5 .5 2.1 .5 -10.2 .5 -8 .5 -6.1 .5 -4.2 .5 -2.5 .5 -1.3 .5 .6 .5 3.5 .5 6.6 .5 9.3 .5 11.3 .5 11.7 .5 9.2 .5 5.8 .5 4.2 .5 6.1 .5 11.2 .5 17.5 .5 18.4 .5 3.5 .5 -15.7 .5 -22.6 .5 -22.7 .5 -21 .5 -19 .5 -16.9 .5 -15 .5 -13.1 .5 -11.5 .5 -9.8 .5 -8.4 .5 -7 .5 -5.8 .5 -4.7 .5 -3.6 .5 -2.8 .5 -2 .5 -1.4 .5 -.9 .5 -.5 .5 -.2 .5 0 .5 0 .5 .1 .5 .3 .5 .6 .5 1.1 .5 1.7 .5 2.3 .5 3.2 .5 4.1 .5 5.1 .5 6.3 .5 7.7 .5 9 .5 10.6 .5 12.3 .5 14 .5 15.9 .5 17.9 .5 20 .5 22 .5 23.4 .5 21.2 .5 9.2 .5 -6.7 .5 -11.1 .5 -8.9 .5 -8.1 .5 -8.5 .5 -8.8 .5 -9.5 .5 -10.2 .5 -11.7 .5 -14.3 .5 -14 .5 -11.1 .5 -7.8 .5 -5.2 .5 -2.2 .5 2 .5 6.5 .5 11.1 .5 15.6 .5 18.3 .5 48.1 .5 -14.8 .5 -13.5 .5 -10.3 .5 -6.2 .5 -2.7 .5 -.8 .5 .5 .5 3.3 .5 7.2 .5 10.7 .5 12.3 .5 10.6 .5 5.5 .5 .7 .5 .8 .5 4.6 .5 8.3 .5 10 .5 9.5 .5 3.3 .5 -11.1 .5 -21.5 .5 -23.3 .5 -22 .5 -19.9 .5 -17.9 .5 -16 .5 -14 .5 -12.3 .5 -10.6 .5 -9.1 .5 -7.7 .5 -6.3 .5 -5.2 .5 -4.2 .5 -3.2 .5 -2.3 .5 -1.7 .5 -1.1 .5 -.7 .5 -.3 .5 -.1 .5 0 .5 0 .5 .2 .5 .5 .5 .8 .5 1.4 .5 2 .5 2.7 .5 3.6 .5 4.6 .5 5.8 .5 7 .5 8.3 .5 9.8 .5 11.4 .5 13.2 .5 15 .5 16.9 .5 18.9 .5 21.1 .5 22.8 .5 23 .5 15.3 .5 -3.5 .5 -15.4 .5 -15.5 .5 -12.1 .5 -7.9 .5 -4.6 .5 -5 .5 -8.7 .5 -11.8 .5 -12.4 .5 -10.2 .5 -6.6 .5 -2.9 .5 .4 .5 2.6 .5 3.6 .5 4.8 .5 6.6 .5 8.5 .5 11.4 .5 15.6 .5 -.7 .5 -12 .5 -10.5 .5 -10.3 .5 -9.8 .5 -8 .5 -4.8 .5 -.7 .5 3.4 .5 7.3 .5 11.3 .5 15.2 .5 16.8 .5 13.7 .5 7 .5 1.8 .5 2.4 .5 7.5 .5 12.8 .5 15 .5 9.9 .5 -5.8 .5 -19.8 .5 -23.3 .5 -22.4 .5 -20.4 .5 -18.3 .5 -16.4 .5 -14.4 .5 -12.7 .5 -10.9 .5 -9.4 .5 -8 .5 -6.7 .5 -5.4 .5 -4.3 .5 -3.4 .5 -2.6 .5 -1.8 .5 -1.2 .5 -.8 .5 -.4 .5 -.1 .5 0 .5 0 .5 .2 .5 .3 .5 .8 .5 1.2 .5 1.9 .5 2.5 .5 3.5 .5 4.4 .5 5.4 .5 6.7 .5 8.1 .5 9.5 .5 11 .5 12.8 .5 14.5 .5 16.5 .5 18.5 .5 20.6 .5 22.4 .5 21.8 .5 11.3 .5 -9.1 .5 -17.2 .5 -15 .5 -11.4 .5 -7.6 .5 -5 .5 -6.1 .5 -11.1 .5 -14.7 .5 -13.5 .5 -8.7 .5 -3.9 .5 -3.7 .5 -6.6 .5 -6.6 .5 -2.6 .5 2.2 .5 6.5 .5 10.8 .5 14.8 .5 17.2 .5 77.3 .5 -16.1 .5 -12.2 .5 -9.6 .5 -9.5 .5 -9.4 .5 -7.7 .5 -5 .5 -1.3 .5 3.1 .5 7.4 .5 10.3 .5 11.8 .5 11.6 .5 9 .5 5.9 .5 4.3 .5 2.6 .5 2.2 .5 6.6 .5 12.6 .5 11.1 .5 -5.4 .5 -20.3 .5 -23.4 .5 -22.3 .5 -20.3 .5 -18.2 .5 -16.3 .5 -14.4 .5 -12.5 .5 -10.9 .5 -9.4 .5 -7.9 .5 -6.5 .5 -5.4 .5 -4.3 .5 -3.4 .5 -2.5 .5 -1.8 .5 -1.2 .5 -.7 .5 -.4 .5 -.1 .5 0 .5 0 .5 .2 .5 .4 .5 .7 .5 1.3 .5 1.9 .5 2.6 .5 3.5 .5 4.4 .5 5.5 .5 6.8 .5 8.1 .5 9.5 .5 11.2 .5 12.8 .5 14.7 .5 16.6 .5 18.6 .5 20.7 .5 22.6 .5 23.4 .5 18.8 .5 2.3 .5 -13.9 .5 -16.4 .5 -11.8 .5 -7.2 .5 -5.2 .5 -6.8 .5 -11.3 .5 -15.5 .5 -16.1 .5 -13.9 .5 -11.1 .5 -8.3 .5 -4.9 .5 -1.8 .5 .7 .5 3.1 .5 5.6 .5 8.9 .5 12.8 .5 17.1 .5 20.9 .5 34.2 .5 -15.5 .5 -14.5 .5 -12.3 .5 -9.3 .5 -5.7 .5 -1.4 .5 3.3 .5 5.4 .5 4.1 .5 4.4 .5 8 .5 10.4 .5 7.7 .5 1.6 .5 -.7 .5 2.3 .5 6.4 .5 8.5 .5 9.4 .5 10.8 .5 8.7 .5 -4.5 .5 -18.8 .5 -22.6 .5 -21.6 .5 -19.6 .5 -17.7 .5 -15.6 .5 -13.8 .5 -12.1 .5 -10.4 .5 -8.9 .5 -7.5 .5 -6.2 .5 -5 .5 -4 .5 -3.1 .5 -2.3 .5 -1.6 .5 -1 .5 -.6 .5 -.3 .5 -.1 .5 0 .5 0 .5 .3 .5 .5 .5 .9 .5 1.4 .5 2.1 .5 2.8 .5 3.8 .5 4.7 .5 5.9 .5 7.2 .5 8.5 .5 10 .5 11.7 .5 13.4 .5 15.2 .5 17.2 .5 19.2 .5 21.3 .5 23 .5 22.5 .5 15.1 .5 .3 .5 -10.8 .5 -14.4 .5 -14.4 .5 -14.8 .5 -16.5 .5 -17.7 .5 -17.1 .5 -14.6 .5 -11.5 .5 -9.3 .5 -8.3 .5 -7 .5 -4.8 .5 -1.6 .5 2.5 .5 7.2 .5 11.8 .5 15.4 .5 17.7 .5 18.8 .5 19.6 .5 5 .5 -15.9 .5 -10.7 .5 -8.7 .5 -11.8 .5 -13.4 .5 -9.8 .5 -3.9 .5 2.1 .5 6.5 .5 8.5 .5 7.6 .5 6.8 .5 8.1 .5 9.8 .5 9.7 .5 7.7 .5 5.9 .5 6 .5 8.8 .5 13.3 .5 16.2 .5 8.3 .5 -10.6 .5 -21.1 .5 -22.2 .5 -20.6 .5 -18.5 .5 -16.6 .5 -14.6 .5 -12.8 .5 -11.2 .5 -9.5 .5 -8.2 .5 -6.7 .5 -5.6 .5 -4.4 .5 -3.5 .5 -2.7 .5 -1.9 .5 -1.2 .5 -.8 .5 -.4 .5 -.2 .5 0 .5 0 .5 .1 .5 .4 .5 .7 .5 1.2 .5 1.8 .5 2.4 .5 3.4 .5 4.3 .5 5.3 .5 6.6 .5 7.9 .5 9.3 .5 10.9 .5 12.6 .5 14.4 .5 16.3 .5 18.3 .5 20.3 .5 21.7 .5 19.6 .5 7 .5 -10.8 .5 -18.8 .5 -19.6 .5 -17.1 .5 -10.8 .5 -3.5 .5 -.2 .5 -2.8 .5 -6.9 .5 -7.9 .5 -7 .5 -8.4 .5 -11.4 .5 -10 .5 -3.7 .5 3.1 .5 5.7 .5 5.6 .5 7.2 .5 11.3 .5 15.9 .5 19.2 .5 21.7 .5 30.9 .5 -17 .5 -14.5 .5 -11.6 .5 -8 .5 -3.7 .5 -.5 .5 1.3 .5 2.3 .5 2.5 .5 2.5 .5 3.9 .5 6.8 .5 8.8 .5 9.1 .5 7.4 .5 5.2 .5 3.9 .5 4.2 .5 7.6 .5 12.5 .5 13.4 .5 2.2 .5 -15.1 .5 -22.5 .5 -22.7 .5 -21.1 .5 -19 .5 -17 .5 -15 .5 -13.2 .5 -11.5 .5 -9.9 .5 -8.4 .5 -7.1 .5 -5.8 .5 -4.7 .5 -3.7 .5 -2.8 .5 -2 .5 -1.4 .5 -.9 .5 -.5 .5 -.2 .5 0 .5 0 .5 .1 .5 .3 .5 .6 .5 1.1 .5 1.6 .5 2.3 .5 3.2 .5 4 .5 5.2 .5 6.3 .5 7.6 .5 9 .5 10.5 .5 12.2 .5 14 .5 15.9 .5 17.8 .5 19.9 .5 21.9 .5 22.8 .5 18.7 .5 2.9 .5 -13.4 .5 -16.5 .5 -11.8 .5 -5.7 .5 -2.6 .5 -5.4 .5 -11.4 .5 -14.4 .5 -13.6 .5 -11.6 .5 -10.1 .5 -8.9 .5 -7.3 .5 -3.9 .5 1 .5 6.1 .5 8.7 .5 8.6 .5 8.7 .5 10.9 .5 14.8 .5 18.6 .5 82.9 .5 -17.9 .5 -14.4 .5 -11.8 .5 -11.6 .5 -12.2 .5 -10.9 .5 -7.1 .5 -1.9 .5 3.4 .5 8 .5 9.8 .5 8.9 .5 6.5 .5 2.3 .5 -4.2 .5 -8.9 .5 -9.1 .5 -5.5 .5 1.9 .5 10.4 .5 16.5 .5 16.8 .5 7.8 .5 -10.5 .5 -21.4 .5 -22.6 .5 -21 .5 -19 .5 -16.9 .5 -15 .5 -13.2 .5 -11.5 .5 -9.9 .5 -8.4 .5 -7 .5 -5.8 .5 -4.7 .5 -3.7 .5 -2.8 .5 -2 .5 -1.4 .5 -.9 .5 -.5 .5 -.2 .5 0 .5 0 .5 .1 .5 .3 .5 .6 .5 1.1 .5 1.6 .5 2.4 .5 3.1 .5 4.1 .5 5.1 .5 6.3 .5 7.6 .5 9.1 .5 10.5 .5 12.2 .5 14 .5 15.9 .5 17.9 .5 19.9 .5 22 .5 23.2 .5 20.9 .5 8.8 .5 -9.6 .5 -16.7 .5 -15 .5 -11.1 .5 -8.6 .5 -9.4 .5 -13.2 .5 -16.1 .5 -15.7 .5 -12.5 .5 -8.3 .5 -4.8 .5 -1.6 .5 1.4 .5 4.6 .5 7.7 .5 9.5 .5 8.2 .5 5.7 .5 6.9 .5 12.1 .5 18 .5 23.2 .5 47.2 .5 -16.9 .5 -17.4 .5 -17.2 .5 -13.8 .5 -8.4 .5 -3.5 .5 -1.7 .5 -2.4 .5 -1.8 .5 1.8 .5 6.4 .5 8.9 .5 6.4 .5 -2.2 .5 -10.7 .5 -12.2 .5 -7.5 .5 .3 .5 8.3 .5 13.5 .5 16.2 .5 17.3 .5 11.8 .5 -4.7 .5 -18.5 .5 -21.6 .5 -20.5 .5 -18.5 .5 -16.6 .5 -14.6 .5 -12.8 .5 -11.1 .5 -9.5 .5 -8.1 .5 -6.7 .5 -5.6 .5 -4.4 .5 -3.5 .5 -2.6 .5 -1.9 .5 -1.2 .5 -.8 .5 -.4 .5 -.2 .5 0 .5 0 .5 .1 .5 .4 .5 .7 .5 1.2 .5 1.8 .5 2.5 .5 3.3 .5 4.3 .5 5.4 .5 6.6 .5 7.9 .5 9.4 .5 10.9 .5 12.6 .5 14.4 .5 16.4 .5 18.3 .5 20.4 .5 22.3 .5 22.6 .5 16.5 .5 -1.1 .5 -16 .5 -16.9 .5 -10.7 .5 -4.9 .5 -3 .5 -4.9 .5 -8.2 .5 -12.2 .5 -15.8 .5 -15.9 .5 -12.4 .5 -7.2 .5 -1.9 .5 2.5 .5 3.8 .5 2.8 .5 2.8 .5 6.1 .5 11.6 .5 17.1 .5 20.8 .5 22 .5 22.9 .5 42.8 .5 -20.8 .5 -19.7 .5 -17.6 .5 -14.7 .5 -12.1 .5 -10.2 .5 -8.2 .5 -4.5 .5 .3 .5 5.3 .5 8.6 .5 10.6 .5 11.2 .5 9.6 .5 4.5 .5 -1.9 .5 -4.8 .5 -3.1 .5 .4 .5 4.6 .5 9.3 .5 14 .5 12.9 .5 -2.8 .5 -18.7 .5 -22.7 .5 -21.7 .5 -19.7 .5 -17.6 .5 -15.7 .5 -13.8 .5 -12 .5 -10.5 .5 -8.9 .5 -7.4 .5 -6.3 .5 -5 .5 -4 .5 -3.1 .5 -2.3 .5 -1.6 .5 -1 .5 -.6 .5 -.3 .5 -.1 .5 0 .5 0 .5 .3 .5 .5 .5 .9 .5 1.4 .5 2.1 .5 2.8 .5 3.8 .5 4.7 .5 5.9 .5 7.2 .5 8.5 .5 10 .5 11.6 .5 13.4 .5 15.2 .5 17.2 .5 19.2 .5 21.3 .5 23.2 .5 23.4 .5 18.4 .5 2.3 .5 -13.5 .5 -16.5 .5 -13.8 .5 -11.9 .5 -14.2 .5 -18.4 .5 -18.7 .5 -14.2 .5 -8.8 .5 -6.3 .5 -7 .5 -6.1 .5 -2.5 .5 .8 .5 1.6 .5 1.5 .5 3.8 .5 8.6 .5 13.1 .5 16.7 .5 19.5 .5 21.5 .5 22.1 .5 6 .5 -23.4 .5 -17.7 .5 -13.2 .5 -11.6 .5 -10.2 .5 -7.5 .5 -5.2 .5 -5.5 .5 -5.2 .5 -1.4 .5 3.9 .5 8.7 .5 12 .5 12.8 .5 9.6 .5 1.8 .5 -5.3 .5 -6.4 .5 -2.7 .5 2.6 .5 8.1 .5 14.1 .5 20 .5 19.7 .5 1.8 .5 -17.1 .5 -21.6 .5 -20.3 .5 -18.4 .5 -16.4 .5 -14.5 .5 -12.7 .5 -11 .5 -9.5 .5 -8 .5 -6.7 .5 -5.5 .5 -4.3 .5 -3.5 .5 -2.5 .5 -1.9 .5 -1.2 .5 -.8 .5 -.3 .5 -.2 .5 0 .5 0 .5 .1 .5 .4 .5 .8 .5 1.2 .5 1.8 .5 2.6 .5 3.4 .5 4.3 .5 5.5 .5 6.6 .5 8 .5 9.5 .5 11 .5 12.7 .5 14.5 .5 16.4 .5 18.5 .5 20.5 .5 22.2 .5 21.6 .5 11 .5 -8.4 .5 -15.4 .5 -11.5 .5 -6.9 .5 -5.8 .5 -8.4 .5 -12.7 .5 -15.9 .5 -15.9 .5 -13.3 .5 -9.6 .5 -5.7 .5 -2 .5 -.1 .5 .8 .5 3.5 .5 7.5 .5 9.3 .5 7.3 .5 5.9 .5 8.8 .5 14.4 .5 20.2 .5 25.5 .5 28.5 .5 31.5 .5 -22.1 .5 -20.3 .5 -17.3 .5 -15.4 .5 -12.9 .5 -8.4 .5 -3.9 .5 -1.5 .5 -1 .5 1.4 .5 5.8 .5 9.2 .5 9.2 .5 7 .5 3 .5 -3.7 .5 -9 .5 -8.3 .5 -3.2 .5 3.4 .5 10.2 .5 15.5 .5 17.4 .5 11.3 .5 -6.6 .5 -19.9 .5 -22.2 .5 -20.8 .5 -18.8 .5 -16.8 .5 -14.8 .5 -13.1 .5 -11.3 .5 -9.7 .5 -8.3 .5 -6.9 .5 -5.7 .5 -4.6 .5 -3.6 .5 -2.7 .5 -2 .5 -1.3 .5 -.8 .5 -.5 .5 -.2 .5 0 .5 0 .5 .1 .5 .3 .5 .7 .5 1.1 .5 1.7 .5 2.4 .5 3.2 .5 4.2 .5 5.2 .5 6.5 .5 7.7 .5 9.2 .5 10.7 .5 12.3 .5 14.2 .5 16.1 .5 18 .5 20.1 .5 22 .5 22.7 .5 17.1 .5 -1 .5 -17.1 .5 -18.6 .5 -14.8 .5 -11.4 .5 -8.7 .5 -7.5 .5 -8.8 .5 -10.3 .5 -10.7 .5 -10 .5 -8.3 .5 -5.6 .5 -3.4 .5 -2.9 .5 -.9 .5 3.8 .5 8.6 .5 9.6 .5 8.3 .5 9.3 .5 13.6 .5 19.5 .5 25.2 .5 29.2" stroke="#2ca02c"/><path d="M147.0 700.1l.5 -.8 .5 -.5 .5 -.1 .5 -.1 .5 0 .5 .1 .5 .4 .5 .6 .5 1.2 .5 1.7 .5 2.4 .5 3.2 .5 4.2 .5 5.2 .5 6.5 .5 7.7 .5 9.2 .5 10.7 .5 12.4 .5 14.2 .5 16.1 .5 18 .5 20 .5 21.3 .5 19.5 .5 11.7 .5 .6 .5 -8.1 .5 -12.4 .5 -14.3 .5 -16 .5 -15.3 .5 -12.1 .5 -7.9 .5 -3.2 .5 2.7 .5 9.8 .5 10.9 .5 -5 .5 -14.7 .5 -9.9 .5 -3.9 .5 .9 .5 6 .5 11.8 .5 35.8 .5 .2 .5 5.1 .5 6.1 .5 2.9 .5 -2.9 .5 -6.4 .5 -3.6 .5 3.5 .5 8.6 .5 4.2 .5 -6.2 .5 -7.7 .5 -1.2 .5 6.6 .5 10.4 .5 9 .5 7.8 .5 5.8 .5 -4.8 .5 -17.1 .5 -21.3 .5 -20.5 .5 -18.7 .5 -16.7 .5 -14.8 .5 -13 .5 -11.3 .5 -9.6 .5 -8.3 .5 -6.9 .5 -5.6 .5 -4.6 .5 -3.5 .5 -2.7 .5 -2 .5 -1.3 .5 -.8 .5 -.5 .5 -.1 .5 -.1 .5 0 .5 .1 .5 .4 .5 .6 .5 1.2 .5 1.7 .5 2.4 .5 3.3 .5 4.2 .5 5.2 .5 6.5 .5 7.8 .5 9.2 .5 10.7 .5 12.5 .5 14.2 .5 16.1 .5 18.1 .5 20 .5 21.5 .5 20.3 .5 11.6 .5 -5.7 .5 -19.1 .5 -20.5 .5 -15.4 .5 -9.9 .5 -6.1 .5 -4 .5 -3.1 .5 -3.1 .5 -2.8 .5 -1.8 .5 -.3 .5 -.2 .5 -3.4 .5 -5.2 .5 -.7 .5 6.7 .5 13 .5 16.7 .5 65.9 .5 -2.4 .5 2.3 .5 4.5 .5 2.3 .5 3.7 .5 11.3 .5 7.1 .5 -21.8 .5 -29 .5 -21.9 .5 -14.2 .5 -6 .5 2.6 .5 10.2 .5 12 .5 7.8 .5 8 .5 11.6 .5 7.1 .5 -8.7 .5 -19.8 .5 -21.6 .5 -19.9 .5 -18 .5 -16.1 .5 -14.1 .5 -12.4 .5 -10.7 .5 -9.2 .5 -7.7 .5 -6.5 .5 -5.2 .5 -4.2 .5 -3.3 .5 -2.4 .5 -1.7 .5 -1.1 .5 -.7 .5 -.4 .5 -.1 .5 0 .5 .1 .5 .1 .5 .5 .5 .8 .5 1.3 .5 2 .5 2.7 .5 3.5 .5 4.6 .5 5.7 .5 6.9 .5 8.2 .5 9.7 .5 11.4 .5 13 .5 14.9 .5 16.8 .5 18.8 .5 20.6 .5 21.5 .5 18.7 .5 9 .5 -5.2 .5 -16 .5 -17.1 .5 -10.4 .5 -3 .5 1 .5 2 .5 1.4 .5 0 .5 -1.8 .5 -3.1 .5 -1.1 .5 4.3 .5 6.9 .5 2.9 .5 -.2 .5 0 .5 .2 .5 3.1 .5 -2.1 .5 -7.5 .5 -1 .5 2.9 .5 6 .5 4.3 .5 -7.7 .5 -13.3 .5 -8.2 .5 -2.3 .5 0 .5 -.2 .5 1.4 .5 6.1 .5 8.9 .5 6.5 .5 5.6 .5 10.3 .5 13.5 .5 7.3 .5 -6.4 .5 -17.2 .5 -21 .5 -20.5 .5 -18.6 .5 -16.7 .5 -14.8 .5 -12.9 .5 -11.2 .5 -9.7 .5 -8.2 .5 -6.9 .5 -5.6 .5 -4.5 .5 -3.6 .5 -2.7 .5 -1.9 .5 -1.3 .5 -.8 .5 -.5 .5 -.1 .5 -.1 .5 0 .5 .1 .5 .4 .5 .7 .5 1.1 .5 1.7 .5 2.5 .5 3.2 .5 4.3 .5 5.2 .5 6.5 .5 7.8 .5 9.3 .5 10.7 .5 12.5 .5 14.2 .5 16.2 .5 18.1 .5 20.2 .5 21.9 .5 22.3 .5 18.5 .5 4.6 .5 -12.3 .5 -16.9 .5 -13.3 .5 -8.9 .5 -6.6 .5 -5.7 .5 -4.6 .5 -3.2 .5 -3.7 .5 -6.3 .5 -6.7 .5 -2.9 .5 2.8 .5 8.2 .5 11.3 .5 9.9 .5 7.2 .5 9.6 .5 15.3 .5 -6.2 .5 -10.8 .5 -11.8 .5 -7.2 .5 -2.3 .5 -2.8 .5 -5 .5 -4.8 .5 -3.8 .5 -3.1 .5 -1.3 .5 .8 .5 2.6 .5 4.1 .5 5.7 .5 8.1 .5 11.8 .5 14.1 .5 12.6 .5 7.2 .5 -4.6 .5 -16.8 .5 -20.9 .5 -20.4 .5 -18.6 .5 -16.7 .5 -14.8 .5 -13 .5 -11.3 .5 -9.7 .5 -8.2 .5 -6.9 .5 -5.6 .5 -4.6 .5 -3.5 .5 -2.7 .5 -2 .5 -1.3 .5 -.8 .5 -.5 .5 -.1 .5 -.1 .5 0 .5 .1 .5 .4 .5 .6 .5 1.2 .5 1.7 .5 2.4 .5 3.3 .5 4.2 .5 5.2 .5 6.5 .5 7.8 .5 9.2 .5 10.7 .5 12.5 .5 14.2 .5 16.1 .5 18.1 .5 19.9 .5 21.1 .5 19.4 .5 8.7 .5 -10.5 .5 -21.7 .5 -20.1 .5 -11.8 .5 -2 .5 6.4 .5 11.5 .5 8.9 .5 -3.4 .5 -11.9 .5 -9.8 .5 -2 .5 6.9 .5 11.9 .5 5.5 .5 -3.3 .5 -.6 .5 6.6 .5 12.3 .5 14.7 .5 8.4 .5 -15.9 .5 -13.2 .5 -7.5 .5 -2.1 .5 1 .5 .9 .5 -1.3 .5 -.7 .5 3.4 .5 8.4 .5 12.6 .5 11.6 .5 .6 .5 -7.5 .5 -5.5 .5 .1 .5 6.5 .5 11.7 .5 11.1 .5 -.7 .5 -15.1 .5 -21.1 .5 -21.6 .5 -20.1 .5 -18.1 .5 -16.2 .5 -14.2 .5 -12.5 .5 -10.8 .5 -9.3 .5 -7.8 .5 -6.5 .5 -5.3 .5 -4.3 .5 -3.3 .5 -2.5 .5 -1.7 .5 -1.2 .5 -.7 .5 -.3 .5 -.2 .5 0 .5 0 .5 .2 .5 .4 .5 .8 .5 1.3 .5 1.9 .5 2.7 .5 3.5 .5 4.5 .5 5.6 .5 6.8 .5 8.2 .5 9.6 .5 11.2 .5 13 .5 14.7 .5 16.7 .5 18.6 .5 20.5 .5 21.4 .5 18.5 .5 2.2 .5 -20.3 .5 -23.2 .5 -14.8 .5 -4.6 .5 3.7 .5 6.3 .5 2.6 .5 -5.3 .5 -12.6 .5 -13.3 .5 -8.4 .5 -2.2 .5 2.5 .5 4.2 .5 4.4 .5 5.1 .5 7.2 .5 11.1 .5 15.3 .5 16.1 .5 37.7 .5 -16.1 .5 -12.1 .5 -5.7 .5 1.1 .5 5.7 .5 4.9 .5 4 .5 9.1 .5 12.9 .5 .2 .5 -17.3 .5 -22.3 .5 -21.4 .5 -16.9 .5 -8.8 .5 .8 .5 10.5 .5 19.7 .5 24.6 .5 16.7 .5 -2.6 .5 -16.4 .5 -20.9 .5 -20.5 .5 -18.9 .5 -17 .5 -15 .5 -13.2 .5 -11.5 .5 -9.9 .5 -8.4 .5 -7 .5 -5.9 .5 -4.6 .5 -3.7 .5 -2.8 .5 -2.1 .5 -1.4 .5 -.9 .5 -.4 .5 -.2 .5 -.1 .5 0 .5 .1 .5 .3 .5 .6 .5 1.1 .5 1.6 .5 2.4 .5 3.1 .5 4.1 .5 5.1 .5 6.3 .5 7.6 .5 9 .5 10.6 .5 12.2 .5 13.9 .5 15.9 .5 17.8 .5 19.9 .5 21.6 .5 22 .5 16.8 .5 4.2 .5 -7.4 .5 -14.4 .5 -16.4 .5 -12 .5 -6 .5 -3.2 .5 -3 .5 -2.1 .5 -1.5 .5 -3.9 .5 -6.5 .5 -4.6 .5 0 .5 4.2 .5 6 .5 7.2 .5 9.2 .5 11.5 .5 11.1 .5 9 .5 -17.7 .5 -16.6 .5 -9.9 .5 -3.5 .5 5.1 .5 15.8 .5 10.3 .5 -22.3 .5 -23.1 .5 -10.4 .5 1.3 .5 11.6 .5 22.5 .5 30.2 .5 2.5 .5 -20.8 .5 -8.6 .5 3.4 .5 9.1 .5 11 .5 11.3 .5 4.2 .5 -11.9 .5 -20.4 .5 -20.9 .5 -19.2 .5 -17.2 .5 -15.3 .5 -13.4 .5 -11.7 .5 -10.1 .5 -8.6 .5 -7.2 .5 -6 .5 -4.8 .5 -3.8 .5 -2.9 .5 -2.1 .5 -1.5 .5 -1 .5 -.5 .5 -.2 .5 -.1 .5 0 .5 .1 .5 .3 .5 .5 .5 1 .5 1.6 .5 2.2 .5 3 .5 4 .5 5 .5 6.1 .5 7.4 .5 8.8 .5 10.4 .5 12 .5 13.7 .5 15.6 .5 17.6 .5 19.3 .5 20.4 .5 18.1 .5 7 .5 -10.6 .5 -17.7 .5 -14.1 .5 -8.9 .5 -7.7 .5 -7.4 .5 -4.1 .5 -1.6 .5 -3 .5 -5.2 .5 -5.3 .5 -2.6 .5 2.5 .5 7.3 .5 6.7 .5 1.5 .5 .4 .5 4.2 .5 8.5 .5 12.2 .5 16.1 .5 5.3 .5 -12.4 .5 -10.8 .5 -10.9 .5 -11.9 .5 -9 .5 -1.8 .5 4.4 .5 4.7 .5 3.1 .5 4.9 .5 7 .5 5.6 .5 4 .5 5.3 .5 6 .5 3.5 .5 2 .5 6.3 .5 14.4 .5 18.6 .5 8.6 .5 -8.9 .5 -18.6 .5 -21.4 .5 -20.6 .5 -18.9 .5 -17 .5 -14.9 .5 -13.2 .5 -11.5 .5 -9.8 .5 -8.4 .5 -7.1 .5 -5.7 .5 -4.7 .5 -3.7 .5 -2.8 .5 -2 .5 -1.4 .5 -.9 .5 -.4 .5 -.2 .5 -.1 .5 0 .5 .1 .5 .3 .5 .7 .5 1 .5 1.7 .5 2.3 .5 3.2 .5 4.1 .5 5.1 .5 6.3 .5 7.6 .5 9.1 .5 10.6 .5 12.2 .5 14 .5 15.9 .5 17.9 .5 19.8 .5 21.3 .5 19 .5 6.6 .5 -10.2 .5 -16.8 .5 -12.8 .5 -6.3 .5 -7 .5 -11 .5 -6.4 .5 3.4 .5 11.9 .5 16.2 .5 17 .5 16.4 .5 14.9 .5 10.5 .5 -.9 .5 -11.2 .5 -9.2 .5 -1.2 .5 7.2 .5 13.3 .5 15.3 .5 -19.2 .5 -14.9 .5 -7.1 .5 .9 .5 -6.6 .5 -23.9 .5 -20.8 .5 -10.5 .5 -3.4 .5 .2 .5 2.8 .5 5.7 .5 7 .5 6.1 .5 4.8 .5 2.4 .5 -2.9 .5 -6.1 .5 -2.1 .5 5.2 .5 11.2 .5 14.6 .5 13 .5 .7 .5 -14.6 .5 -20.1 .5 -19.8 .5 -18 .5 -16.1 .5 -14.3 .5 -12.4 .5 -10.8 .5 -9.2 .5 -7.8 .5 -6.5 .5 -5.3 .5 -4.3 .5 -3.2 .5 -2.5 .5 -1.7 .5 -1.2 .5 -.7 .5 -.3 .5 -.2 .5 0 .5 0 .5 .2 .5 .4 .5 .8 .5 1.3 .5 2 .5 2.6 .5 3.6 .5 4.5 .5 5.6 .5 6.8 .5 8.2 .5 9.7 .5 11.2 .5 13 .5 14.8 .5 16.7 .5 18.6 .5 20.2 .5 20.2 .5 16.3 .5 6.1 .5 -6.7 .5 -13.6 .5 -16.1 .5 -19.7 .5 -19.1 .5 -13.1 .5 -6.4 .5 -1.1 .5 4.5 .5 10.4 .5 7.8 .5 -10.7 .5 -17.2 .5 -10 .5 -2.1 .5 2.8 .5 5.2 .5 8.5 .5 12.2 .5 15.3 .5 19.1 .5 65.8 .5 -7.5 .5 -6.7 .5 -10.7 .5 -14.4 .5 -13.3 .5 -9.2 .5 -5 .5 -2.6 .5 -.6 .5 2.3 .5 5.2 .5 5.1 .5 1.9 .5 -.2 .5 3.5 .5 11.7 .5 10.4 .5 -8.2 .5 -5.1 .5 13 .5 26.8 .5 9.2 .5 -18.5 .5 -22.4 .5 -21.9 .5 -20.6 .5 -18.7 .5 -16.7 .5 -14.8 .5 -13.1 .5 -11.3 .5 -9.7 .5 -8.2 .5 -6.9 .5 -5.7 .5 -4.6 .5 -3.6 .5 -2.7 .5 -2 .5 -1.3 .5 -.8 .5 -.5 .5 -.1 .5 -.1 .5 0 .5 .1 .5 .4 .5 .6 .5 1.2 .5 1.7 .5 2.4 .5 3.2 .5 4.2 .5 5.2 .5 6.5 .5 7.7 .5 9.2 .5 10.7 .5 12.4 .5 14.2 .5 16.1 .5 18 .5 20.1 .5 21.7 .5 19.5 .5 3.5 .5 -16.5 .5 -19.2 .5 -13.7 .5 -6.3 .5 .4 .5 3.3 .5 1.6 .5 .1 .5 2.4 .5 8.6 .5 15 .5 5.1 .5 -17 .5 -13.8 .5 .8 .5 19.2 .5 47.4 .5 13.4 .5 9.9 .5 -22.5 .5 -.6 .5 12 .5 -5 .5 -13 .5 -17.9 .5 -22.4 .5 -21 .5 -16 .5 -9.2 .5 -1.5 .5 4.1 .5 3.6 .5 -1.4 .5 -3.4 .5 -.7 .5 2.9 .5 7.1 .5 14.1 .5 14.7 .5 -11.4 .5 -15.9 .5 1.5 .5 19.2 .5 28.7 .5 19 .5 -3 .5 -17.4 .5 -21.2 .5 -20.5 .5 -18.8 .5 -16.9 .5 -14.9 .5 -13.2 .5 -11.4 .5 -9.8 .5 -8.4 .5 -7 .5 -5.7 .5 -4.7 .5 -3.6 .5 -2.8 .5 -2 .5 -1.4 .5 -.9 .5 -.4 .5 -.2 .5 -.1 .5 0 .5 .1 .5 .3 .5 .7 .5 1.1 .5 1.6 .5 2.4 .5 3.1 .5 4.1 .5 5.2 .5 6.4 .5 7.6 .5 9.1 .5 10.6 .5 12.2 .5 14.1 .5 15.9 .5 17.9 .5 19.7 .5 20.4 .5 16.8 .5 4.7 .5 -8 .5 -12.3 .5 -13.9 .5 -12.9 .5 -9.3 .5 -7.3 .5 -6.6 .5 -5 .5 -4.3 .5 -4.8 .5 -4.8 .5 -2.7 .5 2.1 .5 7.6 .5 10.9 .5 9.3 .5 5.2 .5 5.1 .5 9.6 .5 14.1 .5 13.5 .5 10.6 .5 12.1 .5 -21.8 .5 -14.9 .5 -9 .5 -5.4 .5 -3.4 .5 -2.3 .5 -3.3 .5 -6.8 .5 -8.4 .5 -8.2 .5 -6.8 .5 -2.8 .5 4 .5 11.5 .5 16.7 .5 15.6 .5 9 .5 5.2 .5 6.4 .5 9.4 .5 14 .5 15.5 .5 3.2 .5 -15.4 .5 -22.3 .5 -22.3 .5 -20.6 .5 -18.5 .5 -16.6 .5 -14.6 .5 -12.9 .5 -11.1 .5 -9.6 .5 -8.1 .5 -6.8 .5 -5.6 .5 -4.5 .5 -3.5 .5 -2.6 .5 -1.9 .5 -1.3 .5 -.8 .5 -.4 .5 -.2 .5 0 .5 0 .5 .2 .5 .3 .5 .7 .5 1.2 .5 1.8 .5 2.4 .5 3.4 .5 4.2 .5 5.4 .5 6.5 .5 7.9 .5 9.3 .5 10.9 .5 12.5 .5 14.4 .5 16.3 .5 18.2 .5 20.3 .5 21.9 .5 22 .5 18.6 .5 12.3 .5 2.7 .5 -15 .5 -24.2 .5 -19.1 .5 -11.7 .5 -7.6 .5 -6 .5 -3.8 .5 -.2 .5 3.5 .5 4.2 .5 .9 .5 -2.2 .5 -1.5 .5 2.1 .5 8 .5 14.2 .5 19.4 .5 21.6 .5 16.5 .5 6.7 .5 4.4 .5 -15 .5 -23.2 .5 -20 .5 -17.2 .5 -14.2 .5 -10.8 .5 -8.4 .5 -7.5 .5 -5.9 .5 -1.5 .5 6.3 .5 17.4 .5 28.6 .5 16.6 .5 -19.4 .5 -19.1 .5 -8.7 .5 .7 .5 7.3 .5 10.7 .5 13.1 .5 16.3 .5 15.5 .5 2.7 .5 -14.2 .5 -21.2 .5 -21.3 .5 -19.8 .5 -17.7 .5 -15.8 .5 -13.9 .5 -12.2 .5 -10.5 .5 -9 .5 -7.6 .5 -6.3 .5 -5.1 .5 -4.1 .5 -3.1 .5 -2.3 .5 -1.7 .5 -1.1 .5 -.6 .5 -.3 .5 -.1 .5 0 .5 .1 .5 .2 .5 .4 .5 .9 .5 1.4 .5 2.1 .5 2.7 .5 3.7 .5 4.7 .5 5.8 .5 7.1 .5 8.4 .5 9.9 .5 11.6 .5 13.2 .5 15.1 .5 17.1 .5 18.9 .5 20.3 .5 19.4 .5 10.6 .5 -5.4 .5 -13.1 .5 -13.4 .5 -10.8 .5 -5.1 .5 .2 .5 .2 .5 -2.3 .5 -2.7 .5 -2.3 .5 -1 .5 1.7 .5 3.1 .5 -1.1 .5 -5.6 .5 -3.1 .5 3.7 .5 9 .5 10.6 .5 10.8 .5 14 .5 18.9 .5 22.9 .5 20.8 .5 -19.1 .5 -13.8 .5 -11.9 .5 -7 .5 -.6 .5 -3.9 .5 -19.7 .5 -21.9 .5 -14.8 .5 -9.2 .5 -5.6 .5 -1 .5 4.9 .5 9.8 .5 12.5 .5 13.5 .5 11.7 .5 1.5 .5 -9.1 .5 -6.8 .5 2.9 .5 13 .5 17.6 .5 12.7 .5 -2.4 .5 -16.7 .5 -21.1 .5 -20.4 .5 -18.5 .5 -16.5 .5 -14.6 .5 -12.9 .5 -11.1 .5 -9.6 .5 -8.1 .5 -6.7 .5 -5.6 .5 -4.4 .5 -3.5 .5 -2.6 .5 -1.9 .5 -1.3 .5 -.8 .5 -.4 .5 -.2 .5 0 .5 0 .5 .2 .5 .3 .5 .7 .5 1.2 .5 1.8 .5 2.5 .5 3.3 .5 4.3 .5 5.4 .5 6.5 .5 7.9 .5 9.4 .5 10.9 .5 12.6 .5 14.3 .5 16.3 .5 18.3 .5 20.2 .5 20.9 .5 16.5 .5 3.3 .5 -8.3 .5 -11 .5 -7.3 .5 -2 .5 -1 .5 -3.7 .5 -4.3 .5 -4.6 .5 -5.8 .5 -7.4 .5 -9.8 .5 -10.4 .5 -6.1 .5 1.8 .5 11.7 .5 20.5 .5 13.9 .5 -3.5 .5 -1.4 .5 9.7 .5 19.1 .5 25.1 .5 28 .5 3.6 .5 -11.6 .5 -30.2 .5 -26.9 .5 -19.6 .5 -13 .5 -8.7 .5 -8.2 .5 -9.3 .5 -8.3 .5 -4.9 .5 .3 .5 5.4 .5 7.3 .5 7.4 .5 10.5 .5 12.8 .5 5.6 .5 -3.9 .5 -4.2 .5 -.1 .5 4.5 .5 9.8 .5 15.8 .5 17.6 .5 5.4 .5 -13.7 .5 -20.8 .5 -20.5 .5 -18.9 .5 -16.8 .5 -15 .5 -13.1 .5 -11.4 .5 -9.8 .5 -8.4 .5 -7 .5 -5.7 .5 -4.6 .5 -3.7 .5 -2.7 .5 -2.1 .5 -1.3 .5 -.9 .5 -.4 .5 -.2 .5 -.1 .5 0 .5 .1 .5 .3 .5 .7 .5 1.1 .5 1.6 .5 2.4 .5 3.2 .5 4.1 .5 5.2 .5 6.3 .5 7.7 .5 9.1 .5 10.6 .5 12.3 .5 14.1 .5 15.9 .5 18 .5 19.9 .5 21.5 .5 20.7 .5 12.6 .5 -2.4 .5 -9.5 .5 -8.6 .5 -11.7 .5 -18.5 .5 -18.6 .5 -13.7 .5 -8.3 .5 -3.7 .5 .2 .5 2 .5 0 .5 -2 .5 1.9 .5 9.1 .5 12.2 .5 7.1 .5 3.8 .5 6.7 .5 10.2 .5 13 .5 15.9 .5 18.2 .5 18.6 .5 14.3 .5 -14.4 .5 -18.2 .5 -17.3 .5 -16.9 .5 -14.6 .5 -10.1 .5 -4.3 .5 .9 .5 2.5 .5 -3.3 .5 -9.5 .5 -7.5 .5 -.5 .5 5.4 .5 6.5 .5 3.3 .5 2.1 .5 5 .5 9.2 .5 11.8 .5 13 .5 15.1 .5 14.3 .5 2.4 .5 -13.6 .5 -20.9 .5 -21.9 .5 -20.6 .5 -18.8 .5 -16.8 .5 -14.9 .5 -13.1 .5 -11.3 .5 -9.8 .5 -8.3 .5 -6.9 .5 -5.8 .5 -4.6 .5 -3.6 .5 -2.7 .5 -2 .5 -1.4 .5 -.8 .5 -.5 .5 -.1 .5 -.1 .5 0 .5 .1 .5 .3 .5 .7 .5 1.1 .5 1.7 .5 2.4 .5 3.2 .5 4.1 .5 5.2 .5 6.4 .5 7.7 .5 9.2 .5 10.6 .5 12.4 .5 14.1 .5 16 .5 18 .5 20 .5 21.3 .5 19.4 .5 5.8 .5 -14.9 .5 -20.7 .5 -16.3 .5 -9.8 .5 -4.7 .5 -3.2 .5 -3.7 .5 -2.5 .5 .3 .5 2.6 .5 4.4 .5 6.6 .5 7 .5 2.4 .5 -1.2 .5 2.3 .5 8.8 .5 14 .5 18 .5 22.8 .5 27 .5 4.7 .5 0 .5 0 .5 0 .5 0 .5 0 .5 0 .5 -17.1 .5 -13 .5 -12.4 .5 -15.6 .5 -15.4 .5 -11 .5 -6.9 .5 -5.1 .5 -4.2 .5 -2.5 .5 .4 .5 2.1 .5 1.8 .5 .5 .5 -.5 .5 -2.3 .5 -2.9 .5 1.8 .5 9.4 .5 16.9 .5 21.1 .5 15.1 .5 -5.1 .5 -19.4 .5 -21.8 .5 -20.3 .5 -18.4 .5 -16.3 .5 -14.5 .5 -12.7 .5 -11 .5 -9.4 .5 -8 .5 -6.7 .5 -5.5 .5 -4.3 .5 -3.4 .5 -2.6 .5 -1.8 .5 -1.3 .5 -.7 .5 -.4 .5 -.2 .5 0 .5 0 .5 .2 .5 .4 .5 .7 .5 1.2 .5 1.9 .5 2.5 .5 3.4 .5 4.4 .5 5.4 .5 6.7 .5 8 .5 9.5 .5 11 .5 12.7 .5 14.5 .5 16.5 .5 18.4 .5 20.3 .5 21.5 .5 18.5 .5 3.8 .5 -13.7 .5 -17.4 .5 -15.4 .5 -12.2 .5 -7.6 .5 -2.8 .5 .7 .5 1.3 .5 0 .5 -.9 .5 1.1 .5 5.2 .5 6.6 .5 .7 .5 -2.7 .5 1.5 .5 6.2 .5 8.4 .5 10.6 .5 13.8 .5 16.7 .5 18.4 .5 18.7 .5 4.9 .5 0 .5 0 .5 0 .5 -10.8 .5 -11.5 .5 -16.6 .5 -21.9 .5 -19.1 .5 -14.1 .5 -11.6 .5 -9.8 .5 -4.1 .5 4.6 .5 10.4 .5 4.2 .5 -5.7 .5 -4.3 .5 1.7 .5 5.4 .5 6.5 .5 8.3 .5 12.2 .5 14.7 .5 13.8 .5 11.9 .5 7.5 .5 -4.9 .5 -17.7 .5 -22 .5 -21.5 .5 -19.5 .5 -17.6 .5 -15.6 .5 -13.8 .5 -12 .5 -10.3 .5 -8.9 .5 -7.4 .5 -6.2 .5 -5 .5 -4 .5 -3.1 .5 -2.2 .5 -1.6 .5 -1 .5 -.6 .5 -.3 .5 -.1" stroke="#d62728"/></g><line x1="147.0" y1="694.4" x2="162.0" y2="694.4" stroke="#000" stroke-width="3.5"/><text x="139" y="704.9" text-anchor="end" font-family='"Liberation Sans", sans-serif' font-size="30" fill="#000">0</text><line x1="147.0" y1="778.8" x2="162.0" y2="778.8" stroke="#000" stroke-width="3.5"/><text x="139" y="789.3" text-anchor="end" font-family='"Liberation Sans", sans-serif' font-size="30" fill="#000">−10</text><line x1="147.0" y1="863.1" x2="162.0" y2="863.1" stroke="#000" stroke-width="3.5"/><text x="139" y="873.6" text-anchor="end" font-family='"Liberation Sans", sans-serif' font-size="30" fill="#000">−20</text><text x="147.0" y="935.3" text-anchor="middle" font-family='"Liberation Sans", sans-serif' font-size="30" fill="#000">1.52</text><text x="279.4" y="935.3" text-anchor="middle" font-family='"Liberation Sans", sans-serif' font-size="30" fill="#000">1.54</text><text x="411.8" y="935.3" text-anchor="middle" font-family='"Liberation Sans", sans-serif' font-size="30" fill="#000">1.56</text><text x="544.2" y="935.3" text-anchor="middle" font-family='"Liberation Sans", sans-serif' font-size="30" fill="#000">1.58</text><text x="676.7" y="935.3" text-anchor="middle" font-family='"Liberation Sans", sans-serif' font-size="30" fill="#000">1.60</text><text x="809.1" y="935.3" text-anchor="middle" font-family='"Liberation Sans", sans-serif' font-size="30" fill="#000">1.62</text><text x="941.5" y="935.3" text-anchor="middle" font-family='"Liberation Sans", sans-serif' font-size="30" fill="#000">1.64</text><rect x="147.0" y="686.4" width="794.5" height="218.88824999999997" fill="none" stroke="#000" stroke-width="3.6"/><text x="543.2" y="673.5" text-anchor="middle" font-family='"Liberation Sans", sans-serif' font-size="34.6" fill="#000">4-channel DWDM interleaver</text><text x="543" y="963.5" text-anchor="middle" font-family='"Liberation Sans", sans-serif' font-size="30" fill="#000">Wavelength (μm)</text><text transform="translate(72.8 639) rotate(-90)" text-anchor="middle" font-family='"Liberation Sans", sans-serif' font-size="30" fill="#000">Normalized Transmission (dB)</text></svg>
</body></html>
